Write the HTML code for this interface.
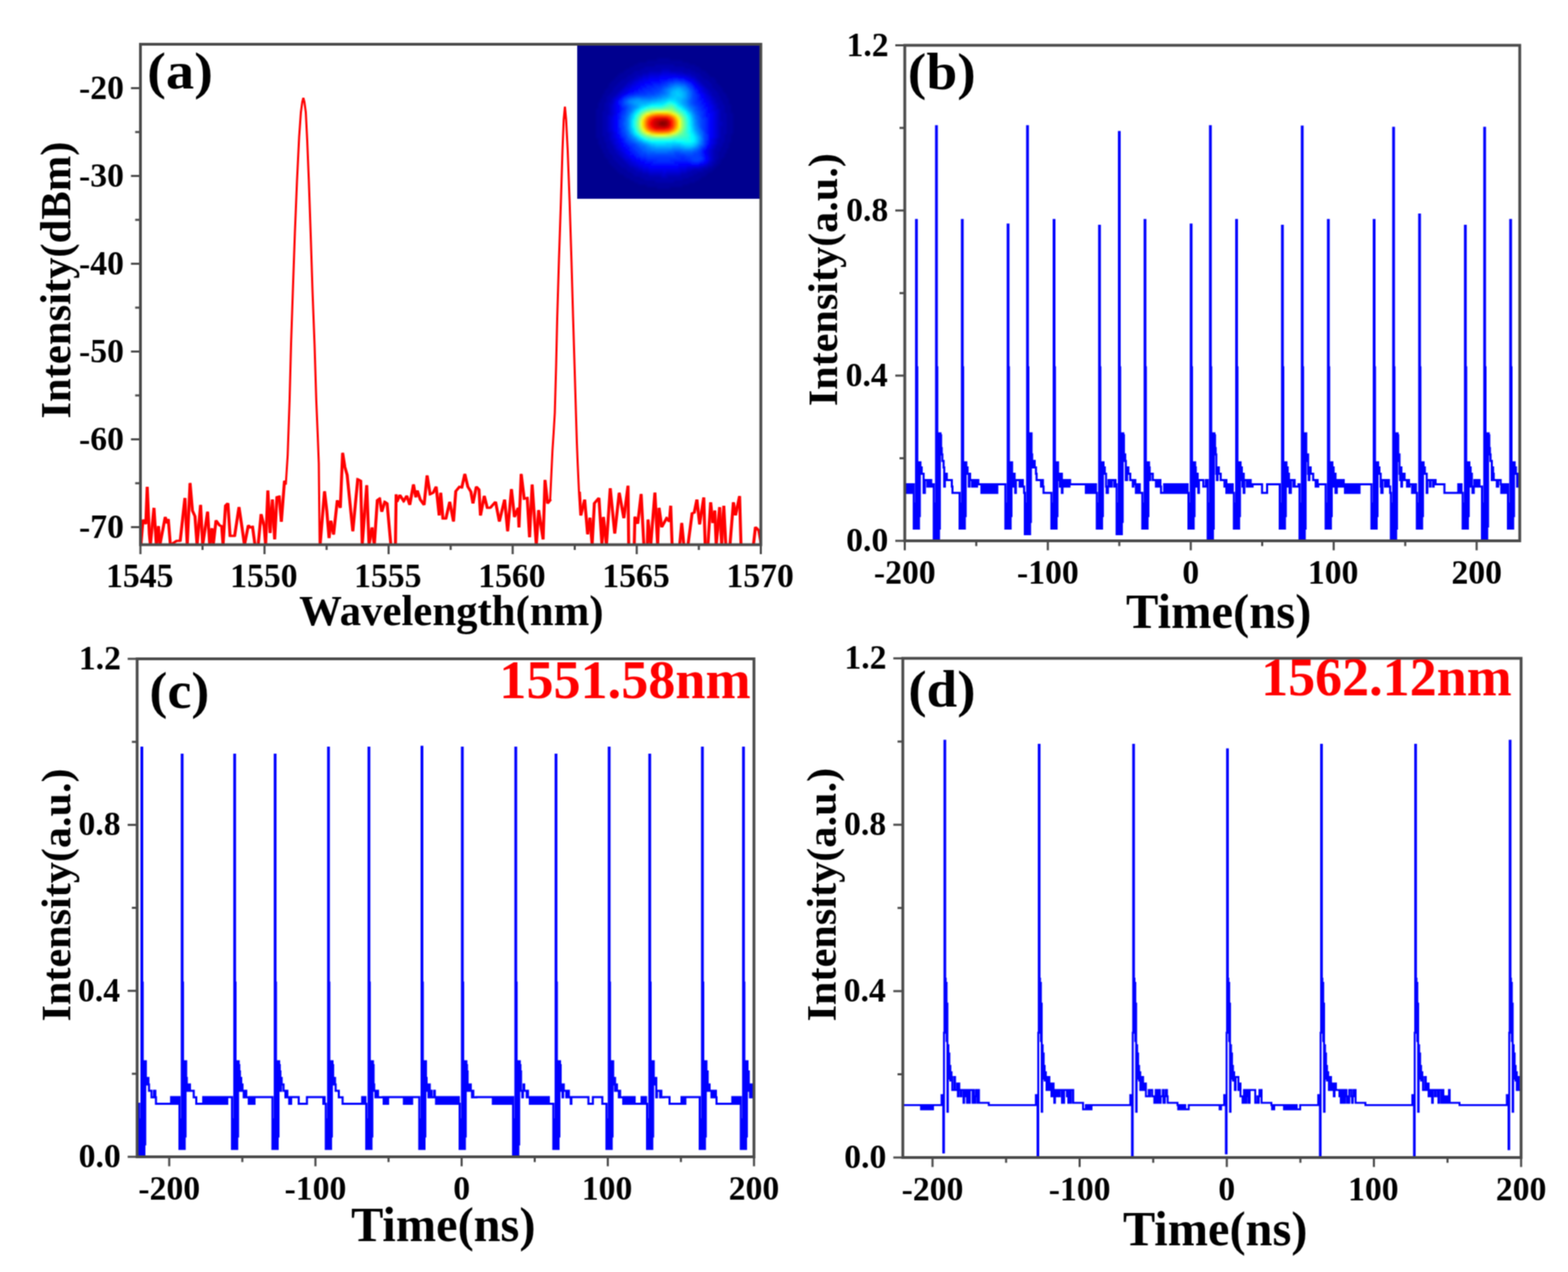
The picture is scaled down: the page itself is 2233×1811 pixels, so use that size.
<!DOCTYPE html>
<html><head><meta charset="utf-8"><title>Figure</title>
<style>
html,body{margin:0;padding:0;background:#fff;}
svg{display:block;}
text{font-family:"Liberation Serif", "Times New Roman", serif;font-weight:bold;}
</style></head><body>
<svg width="2233" height="1811" viewBox="0 0 2233 1811">
<defs><filter id="gb" color-interpolation-filters="sRGB" filterUnits="userSpaceOnUse" x="0" y="0" width="2233" height="1811"><feConvolveMatrix order="3" kernelMatrix="1 2 1 2 4 2 1 2 1" divisor="16" edgeMode="duplicate"/></filter></defs>
<g filter="url(#gb)">
<rect width="2233" height="1811" fill="#fff"/>
<defs>
<clipPath id="ca"><rect x="200" y="63" width="883.5" height="712.5"/></clipPath>
<clipPath id="cb"><rect x="1288.5" y="64.5" width="875.8000000000002" height="705.5"/></clipPath>
<clipPath id="cc"><rect x="195.3" y="938" width="878.4000000000001" height="709"/></clipPath>
<clipPath id="cd"><rect x="1285.7" y="937.3" width="880.4999999999998" height="710.7"/></clipPath>
</defs>
<polyline points="200.0,776.0 203.0,740.0 207.0,746.0 209.0,693.0 212.0,760.0 213.5,776.0 218.6,723.0 221.0,760.0 222.0,776.0 225.0,749.0 227.0,776.0 234.7,736.0 237.0,745.0 239.0,739.0 242.0,776.0 251.0,770.0 256.0,770.0 262.7,709.0 266.0,776.0 270.0,687.7 273.4,727.0 277.0,735.0 280.0,776.0 285.0,718.8 288.0,776.0 295.0,728.5 298.0,776.0 301.0,752.0 303.0,776.0 307.0,741.0 312.0,748.0 315.0,749.0 317.0,776.0 320.5,720.0 323.9,716.7 327.0,763.0 333.5,763.0 339.7,722.0 344.0,751.0 347.5,776.0 353.0,748.0 356.0,751.0 359.0,750.0 362.5,776.0 367.0,776.0 371.2,732.0 375.5,749.0 377.6,776.0 380.8,698.4 384.0,759.0 387.3,711.0 390.5,768.0 393.7,708.0 397.0,707.0 400.0,743.0 404.5,684.5 407.0,690.0 409.7,648.0 411.0,610.0 412.4,570.0 414.5,490.0 417.1,413.0 420.0,330.0 423.0,256.6 426.0,195.0 428.5,160.0 430.5,145.0 432.0,139.5 433.5,145.0 435.5,160.0 437.5,200.0 439.8,256.6 442.5,335.0 445.0,413.0 448.0,492.0 450.4,570.0 452.5,620.0 454.0,660.0 455.2,776.0 461.5,699.5 464.7,727.0 468.0,766.0 470.6,741.4 474.4,761.0 479.7,712.4 484.0,723.0 487.3,644.7 490.5,665.0 493.7,676.0 501.8,756.4 508.8,682.3 513.0,684.5 515.2,776.0 521.6,690.9 524.9,776.0 529.2,751.0 532.4,776.0 536.7,712.4 540.0,710.0 543.0,728.5 547.4,714.5 550.6,716.7 556.0,776.0 562.5,776.0 563.5,703.8 564.6,714.5 568.9,704.9 574.3,713.5 578.6,705.9 582.9,718.8 588.2,689.8 591.5,708.0 593.6,698.4 597.9,711.3 603.3,718.8 607.6,676.9 611.9,703.8 616.2,701.6 620.5,693.0 624.8,733.9 627.0,701.6 630.1,738.2 634.4,738.2 639.8,714.5 645.2,742.5 648.4,699.5 653.8,693.0 657.0,694.0 661.3,674.8 665.6,693.0 669.9,700.0 672.9,716.7 677.7,693.0 681.5,697.0 683.6,733.9 689.0,706.0 693.3,723.0 697.6,723.0 705.1,714.5 710.5,742.5 718.0,711.3 722.3,756.4 727.7,696.3 732.0,736.0 737.3,723.0 738.4,751.0 741.6,674.8 745.9,710.2 750.2,709.0 753.5,765.0 757.2,689.8 763.1,776.0 766.4,726.3 772.8,768.0 775.5,683.4 779.2,716.7 783.5,711.3 786.8,641.0 788.5,615.0 790.1,587.8 792.0,520.0 793.5,454.0 796.0,370.0 798.8,287.0 801.0,215.0 802.8,170.0 804.5,152.0 806.2,170.0 808.5,215.0 811.2,287.0 813.8,370.0 816.2,454.0 818.2,520.0 820.2,587.8 821.5,630.0 822.7,660.0 824.5,700.0 826.5,733.9 832.0,711.3 836.2,760.7 839.5,737.0 842.6,776.0 845.8,716.7 852.3,709.0 856.6,776.0 858.7,736.0 863.0,776.0 868.4,695.2 874.8,759.6 881.2,701.6 887.8,737.7 893.7,691.6 894.7,776.0 902.6,776.0 903.5,735.7 907.5,745.6 912.4,703.4 916.3,776.0 921.2,776.0 922.2,739.7 926.1,776.0 932.0,701.4 935.9,776.0 937.9,723.0 941.8,750.5 948.7,737.7 952.6,742.6 954.5,720.0 956.5,776.0 967.3,776.0 970.2,744.6 973.2,776.0 979.1,776.0 985.0,730.8 988.0,729.9 991.8,711.2 995.7,746.5 1001.6,708.3 1003.6,776.0 1007.5,776.0 1011.4,715.1 1014.4,744.6 1017.3,726.9 1019.3,776.0 1024.2,722.0 1027.1,776.0 1030.1,720.0 1033.0,776.0 1038.9,776.0 1043.8,715.1 1046.8,733.8 1052.6,706.3 1054.6,776.0 1072.3,776.0 1075.2,750.5 1080.1,755.4 1083.5,776.0" fill="none" stroke="#ff0000" stroke-width="3.0" stroke-linejoin="miter" stroke-miterlimit="2" clip-path="url(#ca)"/>
<polyline points="201.5,776.0 204.5,740.0 208.5,746.0 210.5,693.0 213.5,760.0 215.0,776.0 220.1,723.0 222.5,760.0 223.5,776.0 226.5,749.0 228.5,776.0 236.2,736.0 238.5,745.0 240.5,739.0 243.5,776.0 252.5,770.0 257.5,770.0 264.2,709.0 267.5,776.0 271.5,687.7 274.9,727.0 278.5,735.0 281.5,776.0 286.5,718.8 289.5,776.0 296.5,728.5 299.5,776.0 302.5,752.0 304.5,776.0 308.5,741.0 313.5,748.0 316.5,749.0 318.5,776.0 322.0,720.0 325.4,716.7 328.5,763.0 335.0,763.0 341.2,722.0 345.5,751.0 349.0,776.0 354.5,748.0 357.5,751.0 360.5,750.0 364.0,776.0 368.5,776.0 372.7,732.0 377.0,749.0 379.1,776.0 382.3,698.4 385.5,759.0 388.8,711.0 392.0,768.0 395.2,708.0 398.5,707.0 401.5,743.0 406.0,684.5" fill="none" stroke="#ff0000" stroke-width="2.6" stroke-linejoin="miter" stroke-miterlimit="2" clip-path="url(#ca)"/>
<polyline points="456.7,776.0 463.0,699.5 466.2,727.0 469.5,766.0 472.1,741.4 475.9,761.0 481.2,712.4 485.5,723.0 488.8,644.7 492.0,665.0 495.2,676.0 503.3,756.4 510.3,682.3 514.5,684.5 516.7,776.0 523.1,690.9 526.4,776.0 530.7,751.0 533.9,776.0 538.2,712.4 541.5,710.0 544.5,728.5 548.9,714.5 552.1,716.7 557.5,776.0 564.0,776.0 565.0,703.8 566.1,714.5 570.4,704.9 575.8,713.5 580.1,705.9 584.4,718.8 589.7,689.8 593.0,708.0 595.1,698.4 599.4,711.3 604.8,718.8 609.1,676.9 613.4,703.8 617.7,701.6 622.0,693.0 626.3,733.9 628.5,701.6 631.6,738.2 635.9,738.2 641.3,714.5 646.7,742.5 649.9,699.5 655.3,693.0 658.5,694.0 662.8,674.8 667.1,693.0 671.4,700.0 674.4,716.7 679.2,693.0 683.0,697.0 685.1,733.9 690.5,706.0 694.8,723.0 699.1,723.0 706.6,714.5 712.0,742.5 719.5,711.3 723.8,756.4 729.2,696.3 733.5,736.0 738.8,723.0 739.9,751.0 743.1,674.8 747.4,710.2 751.7,709.0 755.0,765.0 758.7,689.8 764.6,776.0 767.9,726.3 774.3,768.0 777.0,683.4 780.7,716.7 785.0,711.3" fill="none" stroke="#ff0000" stroke-width="2.6" stroke-linejoin="miter" stroke-miterlimit="2" clip-path="url(#ca)"/>
<polyline points="826.0,700.0 828.0,733.9 833.5,711.3 837.7,760.7 841.0,737.0 844.1,776.0 847.3,716.7 853.8,709.0 858.1,776.0 860.2,736.0 864.5,776.0 869.9,695.2 876.3,759.6 882.7,701.6 889.3,737.7 895.2,691.6 896.2,776.0 904.1,776.0 905.0,735.7 909.0,745.6 913.9,703.4 917.8,776.0 922.7,776.0 923.7,739.7 927.6,776.0 933.5,701.4 937.4,776.0 939.4,723.0 943.3,750.5 950.2,737.7 954.1,742.6 956.0,720.0 958.0,776.0 968.8,776.0 971.7,744.6 974.7,776.0 980.6,776.0 986.5,730.8 989.5,729.9 993.3,711.2 997.2,746.5 1003.1,708.3 1005.1,776.0 1009.0,776.0 1012.9,715.1 1015.9,744.6 1018.8,726.9 1020.8,776.0 1025.7,722.0 1028.6,776.0 1031.6,720.0 1034.5,776.0 1040.4,776.0 1045.3,715.1 1048.3,733.8 1054.1,706.3 1056.1,776.0 1073.8,776.0 1076.7,750.5 1081.6,755.4 1085.0,776.0" fill="none" stroke="#ff0000" stroke-width="2.6" stroke-linejoin="miter" stroke-miterlimit="2" clip-path="url(#ca)"/>
<clipPath id="cin"><rect x="822" y="62" width="261.5" height="221"/></clipPath>
<filter id="fbl" x="-5%" y="-5%" width="110%" height="110%"><feGaussianBlur stdDeviation="1.6"/></filter>
<g clip-path="url(#cin)"><g filter="url(#fbl)">
<rect x="812" y="52" width="281.5" height="241" fill="#00008a"/>
<rect x="822" y="62" width="264.5" height="3.5" fill="#00008f"/>
<rect x="822" y="65" width="264.5" height="3.5" fill="#00008f"/>
<rect x="822" y="68" width="264.5" height="3.5" fill="#00008f"/>
<rect x="822" y="71" width="264.5" height="3.5" fill="#00008f"/>
<rect x="822" y="74" width="264.5" height="3.5" fill="#00008f"/>
<rect x="822" y="77" width="264.5" height="3.5" fill="#00008f"/>
<rect x="822" y="80" width="264.5" height="3.5" fill="#00008f"/>
<rect x="822" y="83" width="114.5" height="3.5" fill="#00008f"/>
<rect x="936" y="83" width="18.5" height="3.5" fill="#00009f"/>
<rect x="954" y="83" width="132.5" height="3.5" fill="#00008f"/>
<rect x="822" y="86" width="99.5" height="3.5" fill="#00008f"/>
<rect x="921" y="86" width="51.5" height="3.5" fill="#00009f"/>
<rect x="972" y="86" width="114.5" height="3.5" fill="#00008f"/>
<rect x="822" y="89" width="87.5" height="3.5" fill="#00008f"/>
<rect x="909" y="89" width="72.5" height="3.5" fill="#00009f"/>
<rect x="981" y="89" width="105.5" height="3.5" fill="#00008f"/>
<rect x="822" y="92" width="81.5" height="3.5" fill="#00008f"/>
<rect x="903" y="92" width="30.5" height="3.5" fill="#00009f"/>
<rect x="933" y="92" width="27.5" height="3.5" fill="#0000af"/>
<rect x="960" y="92" width="30.5" height="3.5" fill="#00009f"/>
<rect x="990" y="92" width="96.5" height="3.5" fill="#00008f"/>
<rect x="822" y="95" width="75.5" height="3.5" fill="#00008f"/>
<rect x="897" y="95" width="21.5" height="3.5" fill="#00009f"/>
<rect x="918" y="95" width="57.5" height="3.5" fill="#0000af"/>
<rect x="975" y="95" width="21.5" height="3.5" fill="#00009f"/>
<rect x="996" y="95" width="90.5" height="3.5" fill="#00008f"/>
<rect x="822" y="98" width="69.5" height="3.5" fill="#00008f"/>
<rect x="891" y="98" width="21.5" height="3.5" fill="#00009f"/>
<rect x="912" y="98" width="30.5" height="3.5" fill="#0000af"/>
<rect x="942" y="98" width="12.5" height="3.5" fill="#0000bf"/>
<rect x="954" y="98" width="30.5" height="3.5" fill="#0000af"/>
<rect x="984" y="98" width="15.5" height="3.5" fill="#00009f"/>
<rect x="999" y="98" width="87.5" height="3.5" fill="#00008f"/>
<rect x="822" y="101" width="66.5" height="3.5" fill="#00008f"/>
<rect x="888" y="101" width="15.5" height="3.5" fill="#00009f"/>
<rect x="903" y="101" width="21.5" height="3.5" fill="#0000af"/>
<rect x="924" y="101" width="18.5" height="3.5" fill="#0000bf"/>
<rect x="942" y="101" width="12.5" height="3.5" fill="#0000cf"/>
<rect x="954" y="101" width="18.5" height="3.5" fill="#0000bf"/>
<rect x="972" y="101" width="18.5" height="3.5" fill="#0000af"/>
<rect x="990" y="101" width="15.5" height="3.5" fill="#00009f"/>
<rect x="1005" y="101" width="81.5" height="3.5" fill="#00008f"/>
<rect x="822" y="104" width="60.5" height="3.5" fill="#00008f"/>
<rect x="882" y="104" width="18.5" height="3.5" fill="#00009f"/>
<rect x="900" y="104" width="15.5" height="3.5" fill="#0000af"/>
<rect x="915" y="104" width="9.5" height="3.5" fill="#0000bf"/>
<rect x="924" y="104" width="18.5" height="3.5" fill="#0000cf"/>
<rect x="942" y="104" width="21.5" height="3.5" fill="#0000df"/>
<rect x="963" y="104" width="12.5" height="3.5" fill="#0000cf"/>
<rect x="975" y="104" width="9.5" height="3.5" fill="#0000bf"/>
<rect x="984" y="104" width="12.5" height="3.5" fill="#0000af"/>
<rect x="996" y="104" width="12.5" height="3.5" fill="#00009f"/>
<rect x="1008" y="104" width="78.5" height="3.5" fill="#00008f"/>
<rect x="822" y="107" width="57.5" height="3.5" fill="#00008f"/>
<rect x="879" y="107" width="15.5" height="3.5" fill="#00009f"/>
<rect x="894" y="107" width="12.5" height="3.5" fill="#0000af"/>
<rect x="906" y="107" width="9.5" height="3.5" fill="#0000bf"/>
<rect x="915" y="107" width="9.5" height="3.5" fill="#0000cf"/>
<rect x="924" y="107" width="15.5" height="3.5" fill="#0000df"/>
<rect x="939" y="107" width="30.5" height="3.5" fill="#0000ef"/>
<rect x="969" y="107" width="9.5" height="3.5" fill="#0000df"/>
<rect x="978" y="107" width="6.5" height="3.5" fill="#0000cf"/>
<rect x="984" y="107" width="6.5" height="3.5" fill="#0000bf"/>
<rect x="990" y="107" width="9.5" height="3.5" fill="#0000af"/>
<rect x="999" y="107" width="12.5" height="3.5" fill="#00009f"/>
<rect x="1011" y="107" width="75.5" height="3.5" fill="#00008f"/>
<rect x="822" y="110" width="54.5" height="3.5" fill="#00008f"/>
<rect x="876" y="110" width="15.5" height="3.5" fill="#00009f"/>
<rect x="891" y="110" width="12.5" height="3.5" fill="#0000af"/>
<rect x="903" y="110" width="6.5" height="3.5" fill="#0000bf"/>
<rect x="909" y="110" width="6.5" height="3.5" fill="#0000cf"/>
<rect x="915" y="110" width="9.5" height="3.5" fill="#0000df"/>
<rect x="924" y="110" width="15.5" height="3.5" fill="#0000ef"/>
<rect x="939" y="110" width="18.5" height="3.5" fill="#0000ff"/>
<rect x="957" y="110" width="9.5" height="3.5" fill="#0010ff"/>
<rect x="966" y="110" width="9.5" height="3.5" fill="#0000ff"/>
<rect x="975" y="110" width="6.5" height="3.5" fill="#0000ef"/>
<rect x="981" y="110" width="3.5" height="3.5" fill="#0000df"/>
<rect x="984" y="110" width="6.5" height="3.5" fill="#0000cf"/>
<rect x="990" y="110" width="3.5" height="3.5" fill="#0000bf"/>
<rect x="993" y="110" width="9.5" height="3.5" fill="#0000af"/>
<rect x="1002" y="110" width="15.5" height="3.5" fill="#00009f"/>
<rect x="1017" y="110" width="69.5" height="3.5" fill="#00008f"/>
<rect x="822" y="113" width="51.5" height="3.5" fill="#00008f"/>
<rect x="873" y="113" width="12.5" height="3.5" fill="#00009f"/>
<rect x="885" y="113" width="12.5" height="3.5" fill="#0000af"/>
<rect x="897" y="113" width="6.5" height="3.5" fill="#0000bf"/>
<rect x="903" y="113" width="6.5" height="3.5" fill="#0000cf"/>
<rect x="909" y="113" width="6.5" height="3.5" fill="#0000df"/>
<rect x="915" y="113" width="9.5" height="3.5" fill="#0000ef"/>
<rect x="924" y="113" width="15.5" height="3.5" fill="#0000ff"/>
<rect x="939" y="113" width="12.5" height="3.5" fill="#0010ff"/>
<rect x="951" y="113" width="9.5" height="3.5" fill="#0020ff"/>
<rect x="960" y="113" width="6.5" height="3.5" fill="#0030ff"/>
<rect x="966" y="113" width="9.5" height="3.5" fill="#0020ff"/>
<rect x="975" y="113" width="3.5" height="3.5" fill="#0010ff"/>
<rect x="978" y="113" width="3.5" height="3.5" fill="#0000ff"/>
<rect x="981" y="113" width="6.5" height="3.5" fill="#0000ef"/>
<rect x="987" y="113" width="3.5" height="3.5" fill="#0000df"/>
<rect x="990" y="113" width="3.5" height="3.5" fill="#0000cf"/>
<rect x="993" y="113" width="3.5" height="3.5" fill="#0000bf"/>
<rect x="996" y="113" width="12.5" height="3.5" fill="#0000af"/>
<rect x="1008" y="113" width="12.5" height="3.5" fill="#00009f"/>
<rect x="1020" y="113" width="66.5" height="3.5" fill="#00008f"/>
<rect x="822" y="116" width="48.5" height="3.5" fill="#00008f"/>
<rect x="870" y="116" width="12.5" height="3.5" fill="#00009f"/>
<rect x="882" y="116" width="12.5" height="3.5" fill="#0000af"/>
<rect x="894" y="116" width="6.5" height="3.5" fill="#0000bf"/>
<rect x="900" y="116" width="3.5" height="3.5" fill="#0000cf"/>
<rect x="903" y="116" width="6.5" height="3.5" fill="#0000df"/>
<rect x="909" y="116" width="9.5" height="3.5" fill="#0000ef"/>
<rect x="918" y="116" width="9.5" height="3.5" fill="#0000ff"/>
<rect x="927" y="116" width="15.5" height="3.5" fill="#0010ff"/>
<rect x="942" y="116" width="6.5" height="3.5" fill="#0020ff"/>
<rect x="948" y="116" width="6.5" height="3.5" fill="#0030ff"/>
<rect x="954" y="116" width="6.5" height="3.5" fill="#0040ff"/>
<rect x="960" y="116" width="9.5" height="3.5" fill="#0050ff"/>
<rect x="969" y="116" width="6.5" height="3.5" fill="#0040ff"/>
<rect x="975" y="116" width="3.5" height="3.5" fill="#0030ff"/>
<rect x="978" y="116" width="3.5" height="3.5" fill="#0020ff"/>
<rect x="981" y="116" width="3.5" height="3.5" fill="#0010ff"/>
<rect x="984" y="116" width="3.5" height="3.5" fill="#0000ff"/>
<rect x="987" y="116" width="3.5" height="3.5" fill="#0000ef"/>
<rect x="990" y="116" width="3.5" height="3.5" fill="#0000df"/>
<rect x="993" y="116" width="3.5" height="3.5" fill="#0000cf"/>
<rect x="996" y="116" width="3.5" height="3.5" fill="#0000bf"/>
<rect x="999" y="116" width="12.5" height="3.5" fill="#0000af"/>
<rect x="1011" y="116" width="9.5" height="3.5" fill="#00009f"/>
<rect x="1020" y="116" width="66.5" height="3.5" fill="#00008f"/>
<rect x="822" y="119" width="45.5" height="3.5" fill="#00008f"/>
<rect x="867" y="119" width="12.5" height="3.5" fill="#00009f"/>
<rect x="879" y="119" width="12.5" height="3.5" fill="#0000af"/>
<rect x="891" y="119" width="3.5" height="3.5" fill="#0000bf"/>
<rect x="894" y="119" width="6.5" height="3.5" fill="#0000cf"/>
<rect x="900" y="119" width="6.5" height="3.5" fill="#0000df"/>
<rect x="906" y="119" width="6.5" height="3.5" fill="#0000ef"/>
<rect x="912" y="119" width="6.5" height="3.5" fill="#0000ff"/>
<rect x="918" y="119" width="12.5" height="3.5" fill="#0010ff"/>
<rect x="930" y="119" width="12.5" height="3.5" fill="#0020ff"/>
<rect x="942" y="119" width="6.5" height="3.5" fill="#0030ff"/>
<rect x="948" y="119" width="3.5" height="3.5" fill="#0040ff"/>
<rect x="951" y="119" width="3.5" height="3.5" fill="#0050ff"/>
<rect x="954" y="119" width="6.5" height="3.5" fill="#0060ff"/>
<rect x="960" y="119" width="9.5" height="3.5" fill="#0070ff"/>
<rect x="969" y="119" width="6.5" height="3.5" fill="#0060ff"/>
<rect x="975" y="119" width="3.5" height="3.5" fill="#0050ff"/>
<rect x="978" y="119" width="3.5" height="3.5" fill="#0040ff"/>
<rect x="981" y="119" width="3.5" height="3.5" fill="#0030ff"/>
<rect x="984" y="119" width="3.5" height="3.5" fill="#0010ff"/>
<rect x="987" y="119" width="3.5" height="3.5" fill="#0000ff"/>
<rect x="990" y="119" width="3.5" height="3.5" fill="#0000ef"/>
<rect x="993" y="119" width="3.5" height="3.5" fill="#0000df"/>
<rect x="996" y="119" width="3.5" height="3.5" fill="#0000cf"/>
<rect x="999" y="119" width="3.5" height="3.5" fill="#0000bf"/>
<rect x="1002" y="119" width="12.5" height="3.5" fill="#0000af"/>
<rect x="1014" y="119" width="9.5" height="3.5" fill="#00009f"/>
<rect x="1023" y="119" width="63.5" height="3.5" fill="#00008f"/>
<rect x="822" y="122" width="45.5" height="3.5" fill="#00008f"/>
<rect x="867" y="122" width="9.5" height="3.5" fill="#00009f"/>
<rect x="876" y="122" width="12.5" height="3.5" fill="#0000af"/>
<rect x="888" y="122" width="3.5" height="3.5" fill="#0000bf"/>
<rect x="891" y="122" width="6.5" height="3.5" fill="#0000cf"/>
<rect x="897" y="122" width="3.5" height="3.5" fill="#0000df"/>
<rect x="900" y="122" width="6.5" height="3.5" fill="#0000ef"/>
<rect x="906" y="122" width="6.5" height="3.5" fill="#0000ff"/>
<rect x="912" y="122" width="9.5" height="3.5" fill="#0010ff"/>
<rect x="921" y="122" width="12.5" height="3.5" fill="#0020ff"/>
<rect x="933" y="122" width="9.5" height="3.5" fill="#0030ff"/>
<rect x="942" y="122" width="3.5" height="3.5" fill="#0040ff"/>
<rect x="945" y="122" width="6.5" height="3.5" fill="#0050ff"/>
<rect x="951" y="122" width="3.5" height="3.5" fill="#0060ff"/>
<rect x="954" y="122" width="3.5" height="3.5" fill="#0070ff"/>
<rect x="957" y="122" width="3.5" height="3.5" fill="#0080ff"/>
<rect x="960" y="122" width="9.5" height="3.5" fill="#008fff"/>
<rect x="969" y="122" width="6.5" height="3.5" fill="#0080ff"/>
<rect x="975" y="122" width="3.5" height="3.5" fill="#0070ff"/>
<rect x="978" y="122" width="3.5" height="3.5" fill="#0050ff"/>
<rect x="981" y="122" width="3.5" height="3.5" fill="#0040ff"/>
<rect x="984" y="122" width="3.5" height="3.5" fill="#0030ff"/>
<rect x="987" y="122" width="3.5" height="3.5" fill="#0010ff"/>
<rect x="990" y="122" width="3.5" height="3.5" fill="#0000ff"/>
<rect x="993" y="122" width="3.5" height="3.5" fill="#0000ef"/>
<rect x="996" y="122" width="3.5" height="3.5" fill="#0000df"/>
<rect x="999" y="122" width="3.5" height="3.5" fill="#0000cf"/>
<rect x="1002" y="122" width="3.5" height="3.5" fill="#0000bf"/>
<rect x="1005" y="122" width="9.5" height="3.5" fill="#0000af"/>
<rect x="1014" y="122" width="12.5" height="3.5" fill="#00009f"/>
<rect x="1026" y="122" width="60.5" height="3.5" fill="#00008f"/>
<rect x="822" y="125" width="42.5" height="3.5" fill="#00008f"/>
<rect x="864" y="125" width="9.5" height="3.5" fill="#00009f"/>
<rect x="873" y="125" width="12.5" height="3.5" fill="#0000af"/>
<rect x="885" y="125" width="3.5" height="3.5" fill="#0000bf"/>
<rect x="888" y="125" width="3.5" height="3.5" fill="#0000cf"/>
<rect x="891" y="125" width="6.5" height="3.5" fill="#0000df"/>
<rect x="897" y="125" width="6.5" height="3.5" fill="#0000ef"/>
<rect x="903" y="125" width="6.5" height="3.5" fill="#0000ff"/>
<rect x="909" y="125" width="6.5" height="3.5" fill="#0010ff"/>
<rect x="915" y="125" width="12.5" height="3.5" fill="#0020ff"/>
<rect x="927" y="125" width="9.5" height="3.5" fill="#0030ff"/>
<rect x="936" y="125" width="6.5" height="3.5" fill="#0040ff"/>
<rect x="942" y="125" width="3.5" height="3.5" fill="#0050ff"/>
<rect x="945" y="125" width="3.5" height="3.5" fill="#0060ff"/>
<rect x="948" y="125" width="3.5" height="3.5" fill="#0070ff"/>
<rect x="951" y="125" width="3.5" height="3.5" fill="#0080ff"/>
<rect x="954" y="125" width="3.5" height="3.5" fill="#008fff"/>
<rect x="957" y="125" width="6.5" height="3.5" fill="#009fff"/>
<rect x="963" y="125" width="6.5" height="3.5" fill="#00afff"/>
<rect x="969" y="125" width="3.5" height="3.5" fill="#009fff"/>
<rect x="972" y="125" width="3.5" height="3.5" fill="#008fff"/>
<rect x="975" y="125" width="3.5" height="3.5" fill="#0080ff"/>
<rect x="978" y="125" width="3.5" height="3.5" fill="#0070ff"/>
<rect x="981" y="125" width="3.5" height="3.5" fill="#0050ff"/>
<rect x="984" y="125" width="3.5" height="3.5" fill="#0040ff"/>
<rect x="987" y="125" width="3.5" height="3.5" fill="#0020ff"/>
<rect x="990" y="125" width="3.5" height="3.5" fill="#0010ff"/>
<rect x="993" y="125" width="3.5" height="3.5" fill="#0000ff"/>
<rect x="996" y="125" width="3.5" height="3.5" fill="#0000ef"/>
<rect x="999" y="125" width="3.5" height="3.5" fill="#0000df"/>
<rect x="1002" y="125" width="3.5" height="3.5" fill="#0000cf"/>
<rect x="1005" y="125" width="3.5" height="3.5" fill="#0000bf"/>
<rect x="1008" y="125" width="9.5" height="3.5" fill="#0000af"/>
<rect x="1017" y="125" width="12.5" height="3.5" fill="#00009f"/>
<rect x="1029" y="125" width="57.5" height="3.5" fill="#00008f"/>
<rect x="822" y="128" width="39.5" height="3.5" fill="#00008f"/>
<rect x="861" y="128" width="12.5" height="3.5" fill="#00009f"/>
<rect x="873" y="128" width="9.5" height="3.5" fill="#0000af"/>
<rect x="882" y="128" width="3.5" height="3.5" fill="#0000bf"/>
<rect x="885" y="128" width="3.5" height="3.5" fill="#0000cf"/>
<rect x="888" y="128" width="6.5" height="3.5" fill="#0000df"/>
<rect x="894" y="128" width="3.5" height="3.5" fill="#0000ef"/>
<rect x="897" y="128" width="6.5" height="3.5" fill="#0000ff"/>
<rect x="903" y="128" width="6.5" height="3.5" fill="#0010ff"/>
<rect x="909" y="128" width="9.5" height="3.5" fill="#0020ff"/>
<rect x="918" y="128" width="12.5" height="3.5" fill="#0030ff"/>
<rect x="930" y="128" width="9.5" height="3.5" fill="#0040ff"/>
<rect x="939" y="128" width="3.5" height="3.5" fill="#0050ff"/>
<rect x="942" y="128" width="3.5" height="3.5" fill="#0060ff"/>
<rect x="945" y="128" width="3.5" height="3.5" fill="#0070ff"/>
<rect x="948" y="128" width="3.5" height="3.5" fill="#0080ff"/>
<rect x="951" y="128" width="3.5" height="3.5" fill="#008fff"/>
<rect x="954" y="128" width="3.5" height="3.5" fill="#009fff"/>
<rect x="957" y="128" width="3.5" height="3.5" fill="#00afff"/>
<rect x="960" y="128" width="9.5" height="3.5" fill="#00bfff"/>
<rect x="969" y="128" width="3.5" height="3.5" fill="#00afff"/>
<rect x="972" y="128" width="3.5" height="3.5" fill="#009fff"/>
<rect x="975" y="128" width="3.5" height="3.5" fill="#008fff"/>
<rect x="978" y="128" width="3.5" height="3.5" fill="#0080ff"/>
<rect x="981" y="128" width="3.5" height="3.5" fill="#0060ff"/>
<rect x="984" y="128" width="3.5" height="3.5" fill="#0050ff"/>
<rect x="987" y="128" width="3.5" height="3.5" fill="#0030ff"/>
<rect x="990" y="128" width="3.5" height="3.5" fill="#0020ff"/>
<rect x="993" y="128" width="3.5" height="3.5" fill="#0000ff"/>
<rect x="996" y="128" width="3.5" height="3.5" fill="#0000ef"/>
<rect x="999" y="128" width="3.5" height="3.5" fill="#0000df"/>
<rect x="1002" y="128" width="6.5" height="3.5" fill="#0000cf"/>
<rect x="1008" y="128" width="3.5" height="3.5" fill="#0000bf"/>
<rect x="1011" y="128" width="9.5" height="3.5" fill="#0000af"/>
<rect x="1020" y="128" width="9.5" height="3.5" fill="#00009f"/>
<rect x="1029" y="128" width="57.5" height="3.5" fill="#00008f"/>
<rect x="822" y="131" width="39.5" height="3.5" fill="#00008f"/>
<rect x="861" y="131" width="9.5" height="3.5" fill="#00009f"/>
<rect x="870" y="131" width="9.5" height="3.5" fill="#0000af"/>
<rect x="879" y="131" width="3.5" height="3.5" fill="#0000bf"/>
<rect x="882" y="131" width="3.5" height="3.5" fill="#0000cf"/>
<rect x="885" y="131" width="6.5" height="3.5" fill="#0000df"/>
<rect x="891" y="131" width="3.5" height="3.5" fill="#0000ef"/>
<rect x="894" y="131" width="3.5" height="3.5" fill="#0000ff"/>
<rect x="897" y="131" width="6.5" height="3.5" fill="#0010ff"/>
<rect x="903" y="131" width="9.5" height="3.5" fill="#0020ff"/>
<rect x="912" y="131" width="9.5" height="3.5" fill="#0030ff"/>
<rect x="921" y="131" width="12.5" height="3.5" fill="#0040ff"/>
<rect x="933" y="131" width="6.5" height="3.5" fill="#0050ff"/>
<rect x="939" y="131" width="6.5" height="3.5" fill="#0060ff"/>
<rect x="945" y="131" width="3.5" height="3.5" fill="#0070ff"/>
<rect x="948" y="131" width="3.5" height="3.5" fill="#0080ff"/>
<rect x="951" y="131" width="3.5" height="3.5" fill="#008fff"/>
<rect x="954" y="131" width="3.5" height="3.5" fill="#00afff"/>
<rect x="957" y="131" width="6.5" height="3.5" fill="#00bfff"/>
<rect x="963" y="131" width="3.5" height="3.5" fill="#00cfff"/>
<rect x="966" y="131" width="6.5" height="3.5" fill="#00bfff"/>
<rect x="972" y="131" width="3.5" height="3.5" fill="#00afff"/>
<rect x="975" y="131" width="3.5" height="3.5" fill="#009fff"/>
<rect x="978" y="131" width="3.5" height="3.5" fill="#0080ff"/>
<rect x="981" y="131" width="3.5" height="3.5" fill="#0070ff"/>
<rect x="984" y="131" width="3.5" height="3.5" fill="#0050ff"/>
<rect x="987" y="131" width="3.5" height="3.5" fill="#0040ff"/>
<rect x="990" y="131" width="3.5" height="3.5" fill="#0020ff"/>
<rect x="993" y="131" width="3.5" height="3.5" fill="#0010ff"/>
<rect x="996" y="131" width="3.5" height="3.5" fill="#0000ff"/>
<rect x="999" y="131" width="3.5" height="3.5" fill="#0000ef"/>
<rect x="1002" y="131" width="3.5" height="3.5" fill="#0000df"/>
<rect x="1005" y="131" width="3.5" height="3.5" fill="#0000cf"/>
<rect x="1008" y="131" width="6.5" height="3.5" fill="#0000bf"/>
<rect x="1014" y="131" width="9.5" height="3.5" fill="#0000af"/>
<rect x="1023" y="131" width="9.5" height="3.5" fill="#00009f"/>
<rect x="1032" y="131" width="54.5" height="3.5" fill="#00008f"/>
<rect x="822" y="134" width="36.5" height="3.5" fill="#00008f"/>
<rect x="858" y="134" width="9.5" height="3.5" fill="#00009f"/>
<rect x="867" y="134" width="9.5" height="3.5" fill="#0000af"/>
<rect x="876" y="134" width="3.5" height="3.5" fill="#0000bf"/>
<rect x="879" y="134" width="3.5" height="3.5" fill="#0000cf"/>
<rect x="882" y="134" width="3.5" height="3.5" fill="#0000df"/>
<rect x="885" y="134" width="3.5" height="3.5" fill="#0000ef"/>
<rect x="888" y="134" width="3.5" height="3.5" fill="#0000ff"/>
<rect x="891" y="134" width="3.5" height="3.5" fill="#0010ff"/>
<rect x="894" y="134" width="6.5" height="3.5" fill="#0020ff"/>
<rect x="900" y="134" width="6.5" height="3.5" fill="#0030ff"/>
<rect x="906" y="134" width="15.5" height="3.5" fill="#0040ff"/>
<rect x="921" y="134" width="12.5" height="3.5" fill="#0050ff"/>
<rect x="933" y="134" width="6.5" height="3.5" fill="#0060ff"/>
<rect x="939" y="134" width="3.5" height="3.5" fill="#0070ff"/>
<rect x="942" y="134" width="6.5" height="3.5" fill="#0080ff"/>
<rect x="948" y="134" width="3.5" height="3.5" fill="#008fff"/>
<rect x="951" y="134" width="3.5" height="3.5" fill="#009fff"/>
<rect x="954" y="134" width="3.5" height="3.5" fill="#00afff"/>
<rect x="957" y="134" width="6.5" height="3.5" fill="#00bfff"/>
<rect x="963" y="134" width="6.5" height="3.5" fill="#00cfff"/>
<rect x="969" y="134" width="3.5" height="3.5" fill="#00bfff"/>
<rect x="972" y="134" width="3.5" height="3.5" fill="#00afff"/>
<rect x="975" y="134" width="3.5" height="3.5" fill="#009fff"/>
<rect x="978" y="134" width="3.5" height="3.5" fill="#0080ff"/>
<rect x="981" y="134" width="3.5" height="3.5" fill="#0070ff"/>
<rect x="984" y="134" width="3.5" height="3.5" fill="#0050ff"/>
<rect x="987" y="134" width="3.5" height="3.5" fill="#0040ff"/>
<rect x="990" y="134" width="3.5" height="3.5" fill="#0030ff"/>
<rect x="993" y="134" width="3.5" height="3.5" fill="#0020ff"/>
<rect x="996" y="134" width="6.5" height="3.5" fill="#0000ff"/>
<rect x="1002" y="134" width="3.5" height="3.5" fill="#0000ef"/>
<rect x="1005" y="134" width="3.5" height="3.5" fill="#0000df"/>
<rect x="1008" y="134" width="3.5" height="3.5" fill="#0000cf"/>
<rect x="1011" y="134" width="3.5" height="3.5" fill="#0000bf"/>
<rect x="1014" y="134" width="9.5" height="3.5" fill="#0000af"/>
<rect x="1023" y="134" width="12.5" height="3.5" fill="#00009f"/>
<rect x="1035" y="134" width="51.5" height="3.5" fill="#00008f"/>
<rect x="822" y="137" width="36.5" height="3.5" fill="#00008f"/>
<rect x="858" y="137" width="6.5" height="3.5" fill="#00009f"/>
<rect x="864" y="137" width="9.5" height="3.5" fill="#0000af"/>
<rect x="873" y="137" width="3.5" height="3.5" fill="#0000bf"/>
<rect x="876" y="137" width="3.5" height="3.5" fill="#0000cf"/>
<rect x="879" y="137" width="3.5" height="3.5" fill="#0000df"/>
<rect x="882" y="137" width="3.5" height="3.5" fill="#0000ef"/>
<rect x="885" y="137" width="3.5" height="3.5" fill="#0010ff"/>
<rect x="888" y="137" width="3.5" height="3.5" fill="#0020ff"/>
<rect x="891" y="137" width="3.5" height="3.5" fill="#0030ff"/>
<rect x="894" y="137" width="3.5" height="3.5" fill="#0040ff"/>
<rect x="897" y="137" width="6.5" height="3.5" fill="#0050ff"/>
<rect x="903" y="137" width="24.5" height="3.5" fill="#0060ff"/>
<rect x="927" y="137" width="9.5" height="3.5" fill="#0070ff"/>
<rect x="936" y="137" width="6.5" height="3.5" fill="#0080ff"/>
<rect x="942" y="137" width="3.5" height="3.5" fill="#008fff"/>
<rect x="945" y="137" width="6.5" height="3.5" fill="#009fff"/>
<rect x="951" y="137" width="3.5" height="3.5" fill="#00afff"/>
<rect x="954" y="137" width="6.5" height="3.5" fill="#00bfff"/>
<rect x="960" y="137" width="3.5" height="3.5" fill="#00cfff"/>
<rect x="963" y="137" width="9.5" height="3.5" fill="#00bfff"/>
<rect x="972" y="137" width="3.5" height="3.5" fill="#00afff"/>
<rect x="975" y="137" width="3.5" height="3.5" fill="#009fff"/>
<rect x="978" y="137" width="3.5" height="3.5" fill="#0080ff"/>
<rect x="981" y="137" width="3.5" height="3.5" fill="#0070ff"/>
<rect x="984" y="137" width="3.5" height="3.5" fill="#0050ff"/>
<rect x="987" y="137" width="3.5" height="3.5" fill="#0040ff"/>
<rect x="990" y="137" width="3.5" height="3.5" fill="#0030ff"/>
<rect x="993" y="137" width="3.5" height="3.5" fill="#0020ff"/>
<rect x="996" y="137" width="3.5" height="3.5" fill="#0010ff"/>
<rect x="999" y="137" width="3.5" height="3.5" fill="#0000ff"/>
<rect x="1002" y="137" width="3.5" height="3.5" fill="#0000ef"/>
<rect x="1005" y="137" width="6.5" height="3.5" fill="#0000df"/>
<rect x="1011" y="137" width="3.5" height="3.5" fill="#0000cf"/>
<rect x="1014" y="137" width="3.5" height="3.5" fill="#0000bf"/>
<rect x="1017" y="137" width="9.5" height="3.5" fill="#0000af"/>
<rect x="1026" y="137" width="9.5" height="3.5" fill="#00009f"/>
<rect x="1035" y="137" width="51.5" height="3.5" fill="#00008f"/>
<rect x="822" y="140" width="33.5" height="3.5" fill="#00008f"/>
<rect x="855" y="140" width="9.5" height="3.5" fill="#00009f"/>
<rect x="864" y="140" width="6.5" height="3.5" fill="#0000af"/>
<rect x="870" y="140" width="3.5" height="3.5" fill="#0000bf"/>
<rect x="873" y="140" width="3.5" height="3.5" fill="#0000cf"/>
<rect x="876" y="140" width="3.5" height="3.5" fill="#0000df"/>
<rect x="879" y="140" width="3.5" height="3.5" fill="#0000ef"/>
<rect x="882" y="140" width="3.5" height="3.5" fill="#0010ff"/>
<rect x="885" y="140" width="3.5" height="3.5" fill="#0020ff"/>
<rect x="888" y="140" width="3.5" height="3.5" fill="#0040ff"/>
<rect x="891" y="140" width="3.5" height="3.5" fill="#0050ff"/>
<rect x="894" y="140" width="3.5" height="3.5" fill="#0060ff"/>
<rect x="897" y="140" width="3.5" height="3.5" fill="#0070ff"/>
<rect x="900" y="140" width="6.5" height="3.5" fill="#0080ff"/>
<rect x="906" y="140" width="6.5" height="3.5" fill="#008fff"/>
<rect x="912" y="140" width="18.5" height="3.5" fill="#0080ff"/>
<rect x="930" y="140" width="6.5" height="3.5" fill="#008fff"/>
<rect x="936" y="140" width="6.5" height="3.5" fill="#009fff"/>
<rect x="942" y="140" width="6.5" height="3.5" fill="#00afff"/>
<rect x="948" y="140" width="3.5" height="3.5" fill="#00bfff"/>
<rect x="951" y="140" width="12.5" height="3.5" fill="#00cfff"/>
<rect x="963" y="140" width="6.5" height="3.5" fill="#00bfff"/>
<rect x="969" y="140" width="3.5" height="3.5" fill="#00afff"/>
<rect x="972" y="140" width="3.5" height="3.5" fill="#009fff"/>
<rect x="975" y="140" width="3.5" height="3.5" fill="#008fff"/>
<rect x="978" y="140" width="3.5" height="3.5" fill="#0080ff"/>
<rect x="981" y="140" width="3.5" height="3.5" fill="#0060ff"/>
<rect x="984" y="140" width="3.5" height="3.5" fill="#0050ff"/>
<rect x="987" y="140" width="3.5" height="3.5" fill="#0040ff"/>
<rect x="990" y="140" width="3.5" height="3.5" fill="#0030ff"/>
<rect x="993" y="140" width="3.5" height="3.5" fill="#0020ff"/>
<rect x="996" y="140" width="6.5" height="3.5" fill="#0010ff"/>
<rect x="1002" y="140" width="3.5" height="3.5" fill="#0000ff"/>
<rect x="1005" y="140" width="3.5" height="3.5" fill="#0000ef"/>
<rect x="1008" y="140" width="3.5" height="3.5" fill="#0000df"/>
<rect x="1011" y="140" width="3.5" height="3.5" fill="#0000cf"/>
<rect x="1014" y="140" width="6.5" height="3.5" fill="#0000bf"/>
<rect x="1020" y="140" width="6.5" height="3.5" fill="#0000af"/>
<rect x="1026" y="140" width="12.5" height="3.5" fill="#00009f"/>
<rect x="1038" y="140" width="48.5" height="3.5" fill="#00008f"/>
<rect x="822" y="143" width="33.5" height="3.5" fill="#00008f"/>
<rect x="855" y="143" width="9.5" height="3.5" fill="#00009f"/>
<rect x="864" y="143" width="6.5" height="3.5" fill="#0000af"/>
<rect x="870" y="143" width="3.5" height="3.5" fill="#0000bf"/>
<rect x="873" y="143" width="3.5" height="3.5" fill="#0000cf"/>
<rect x="876" y="143" width="3.5" height="3.5" fill="#0000ef"/>
<rect x="879" y="143" width="3.5" height="3.5" fill="#0000ff"/>
<rect x="882" y="143" width="3.5" height="3.5" fill="#0020ff"/>
<rect x="885" y="143" width="3.5" height="3.5" fill="#0030ff"/>
<rect x="888" y="143" width="3.5" height="3.5" fill="#0050ff"/>
<rect x="891" y="143" width="3.5" height="3.5" fill="#0060ff"/>
<rect x="894" y="143" width="3.5" height="3.5" fill="#0080ff"/>
<rect x="897" y="143" width="6.5" height="3.5" fill="#008fff"/>
<rect x="903" y="143" width="24.5" height="3.5" fill="#009fff"/>
<rect x="927" y="143" width="9.5" height="3.5" fill="#00afff"/>
<rect x="936" y="143" width="6.5" height="3.5" fill="#00bfff"/>
<rect x="942" y="143" width="6.5" height="3.5" fill="#00cfff"/>
<rect x="948" y="143" width="3.5" height="3.5" fill="#00dfff"/>
<rect x="951" y="143" width="9.5" height="3.5" fill="#00efff"/>
<rect x="960" y="143" width="3.5" height="3.5" fill="#00dfff"/>
<rect x="963" y="143" width="3.5" height="3.5" fill="#00cfff"/>
<rect x="966" y="143" width="3.5" height="3.5" fill="#00bfff"/>
<rect x="969" y="143" width="3.5" height="3.5" fill="#00afff"/>
<rect x="972" y="143" width="3.5" height="3.5" fill="#009fff"/>
<rect x="975" y="143" width="3.5" height="3.5" fill="#008fff"/>
<rect x="978" y="143" width="3.5" height="3.5" fill="#0070ff"/>
<rect x="981" y="143" width="3.5" height="3.5" fill="#0060ff"/>
<rect x="984" y="143" width="3.5" height="3.5" fill="#0050ff"/>
<rect x="987" y="143" width="3.5" height="3.5" fill="#0040ff"/>
<rect x="990" y="143" width="3.5" height="3.5" fill="#0030ff"/>
<rect x="993" y="143" width="6.5" height="3.5" fill="#0020ff"/>
<rect x="999" y="143" width="3.5" height="3.5" fill="#0010ff"/>
<rect x="1002" y="143" width="3.5" height="3.5" fill="#0000ff"/>
<rect x="1005" y="143" width="6.5" height="3.5" fill="#0000ef"/>
<rect x="1011" y="143" width="3.5" height="3.5" fill="#0000df"/>
<rect x="1014" y="143" width="3.5" height="3.5" fill="#0000cf"/>
<rect x="1017" y="143" width="3.5" height="3.5" fill="#0000bf"/>
<rect x="1020" y="143" width="9.5" height="3.5" fill="#0000af"/>
<rect x="1029" y="143" width="9.5" height="3.5" fill="#00009f"/>
<rect x="1038" y="143" width="48.5" height="3.5" fill="#00008f"/>
<rect x="822" y="146" width="30.5" height="3.5" fill="#00008f"/>
<rect x="852" y="146" width="9.5" height="3.5" fill="#00009f"/>
<rect x="861" y="146" width="6.5" height="3.5" fill="#0000af"/>
<rect x="867" y="146" width="6.5" height="3.5" fill="#0000bf"/>
<rect x="873" y="146" width="3.5" height="3.5" fill="#0000df"/>
<rect x="876" y="146" width="3.5" height="3.5" fill="#0000ef"/>
<rect x="879" y="146" width="3.5" height="3.5" fill="#0000ff"/>
<rect x="882" y="146" width="3.5" height="3.5" fill="#0020ff"/>
<rect x="885" y="146" width="3.5" height="3.5" fill="#0030ff"/>
<rect x="888" y="146" width="3.5" height="3.5" fill="#0050ff"/>
<rect x="891" y="146" width="3.5" height="3.5" fill="#0060ff"/>
<rect x="894" y="146" width="3.5" height="3.5" fill="#0070ff"/>
<rect x="897" y="146" width="3.5" height="3.5" fill="#0080ff"/>
<rect x="900" y="146" width="3.5" height="3.5" fill="#008fff"/>
<rect x="903" y="146" width="6.5" height="3.5" fill="#009fff"/>
<rect x="909" y="146" width="12.5" height="3.5" fill="#00afff"/>
<rect x="921" y="146" width="6.5" height="3.5" fill="#00bfff"/>
<rect x="927" y="146" width="6.5" height="3.5" fill="#00cfff"/>
<rect x="933" y="146" width="12.5" height="3.5" fill="#00dfff"/>
<rect x="945" y="146" width="3.5" height="3.5" fill="#00efff"/>
<rect x="948" y="146" width="3.5" height="3.5" fill="#10ffef"/>
<rect x="951" y="146" width="6.5" height="3.5" fill="#20ffdf"/>
<rect x="957" y="146" width="3.5" height="3.5" fill="#10ffef"/>
<rect x="960" y="146" width="3.5" height="3.5" fill="#00ffff"/>
<rect x="963" y="146" width="3.5" height="3.5" fill="#00dfff"/>
<rect x="966" y="146" width="3.5" height="3.5" fill="#00cfff"/>
<rect x="969" y="146" width="3.5" height="3.5" fill="#00afff"/>
<rect x="972" y="146" width="3.5" height="3.5" fill="#009fff"/>
<rect x="975" y="146" width="3.5" height="3.5" fill="#008fff"/>
<rect x="978" y="146" width="3.5" height="3.5" fill="#0080ff"/>
<rect x="981" y="146" width="3.5" height="3.5" fill="#0060ff"/>
<rect x="984" y="146" width="3.5" height="3.5" fill="#0050ff"/>
<rect x="987" y="146" width="3.5" height="3.5" fill="#0040ff"/>
<rect x="990" y="146" width="6.5" height="3.5" fill="#0030ff"/>
<rect x="996" y="146" width="3.5" height="3.5" fill="#0020ff"/>
<rect x="999" y="146" width="6.5" height="3.5" fill="#0010ff"/>
<rect x="1005" y="146" width="3.5" height="3.5" fill="#0000ff"/>
<rect x="1008" y="146" width="3.5" height="3.5" fill="#0000ef"/>
<rect x="1011" y="146" width="3.5" height="3.5" fill="#0000df"/>
<rect x="1014" y="146" width="3.5" height="3.5" fill="#0000cf"/>
<rect x="1017" y="146" width="6.5" height="3.5" fill="#0000bf"/>
<rect x="1023" y="146" width="6.5" height="3.5" fill="#0000af"/>
<rect x="1029" y="146" width="9.5" height="3.5" fill="#00009f"/>
<rect x="1038" y="146" width="48.5" height="3.5" fill="#00008f"/>
<rect x="822" y="149" width="30.5" height="3.5" fill="#00008f"/>
<rect x="852" y="149" width="9.5" height="3.5" fill="#00009f"/>
<rect x="861" y="149" width="6.5" height="3.5" fill="#0000af"/>
<rect x="867" y="149" width="3.5" height="3.5" fill="#0000bf"/>
<rect x="870" y="149" width="3.5" height="3.5" fill="#0000cf"/>
<rect x="873" y="149" width="3.5" height="3.5" fill="#0000df"/>
<rect x="876" y="149" width="3.5" height="3.5" fill="#0000ef"/>
<rect x="879" y="149" width="3.5" height="3.5" fill="#0000ff"/>
<rect x="882" y="149" width="3.5" height="3.5" fill="#0010ff"/>
<rect x="885" y="149" width="3.5" height="3.5" fill="#0030ff"/>
<rect x="888" y="149" width="3.5" height="3.5" fill="#0040ff"/>
<rect x="891" y="149" width="3.5" height="3.5" fill="#0050ff"/>
<rect x="894" y="149" width="3.5" height="3.5" fill="#0060ff"/>
<rect x="897" y="149" width="3.5" height="3.5" fill="#0070ff"/>
<rect x="900" y="149" width="3.5" height="3.5" fill="#0080ff"/>
<rect x="903" y="149" width="3.5" height="3.5" fill="#008fff"/>
<rect x="906" y="149" width="3.5" height="3.5" fill="#009fff"/>
<rect x="909" y="149" width="3.5" height="3.5" fill="#00afff"/>
<rect x="912" y="149" width="3.5" height="3.5" fill="#00bfff"/>
<rect x="915" y="149" width="6.5" height="3.5" fill="#00cfff"/>
<rect x="921" y="149" width="3.5" height="3.5" fill="#00dfff"/>
<rect x="924" y="149" width="3.5" height="3.5" fill="#00efff"/>
<rect x="927" y="149" width="15.5" height="3.5" fill="#00ffff"/>
<rect x="942" y="149" width="3.5" height="3.5" fill="#10ffef"/>
<rect x="945" y="149" width="3.5" height="3.5" fill="#20ffdf"/>
<rect x="948" y="149" width="3.5" height="3.5" fill="#30ffcf"/>
<rect x="951" y="149" width="3.5" height="3.5" fill="#40ffbf"/>
<rect x="954" y="149" width="3.5" height="3.5" fill="#50ffaf"/>
<rect x="957" y="149" width="3.5" height="3.5" fill="#40ffbf"/>
<rect x="960" y="149" width="3.5" height="3.5" fill="#20ffdf"/>
<rect x="963" y="149" width="3.5" height="3.5" fill="#00ffff"/>
<rect x="966" y="149" width="3.5" height="3.5" fill="#00dfff"/>
<rect x="969" y="149" width="3.5" height="3.5" fill="#00cfff"/>
<rect x="972" y="149" width="3.5" height="3.5" fill="#00afff"/>
<rect x="975" y="149" width="3.5" height="3.5" fill="#009fff"/>
<rect x="978" y="149" width="3.5" height="3.5" fill="#0080ff"/>
<rect x="981" y="149" width="3.5" height="3.5" fill="#0070ff"/>
<rect x="984" y="149" width="3.5" height="3.5" fill="#0060ff"/>
<rect x="987" y="149" width="3.5" height="3.5" fill="#0050ff"/>
<rect x="990" y="149" width="3.5" height="3.5" fill="#0040ff"/>
<rect x="993" y="149" width="3.5" height="3.5" fill="#0030ff"/>
<rect x="996" y="149" width="6.5" height="3.5" fill="#0020ff"/>
<rect x="1002" y="149" width="3.5" height="3.5" fill="#0010ff"/>
<rect x="1005" y="149" width="3.5" height="3.5" fill="#0000ff"/>
<rect x="1008" y="149" width="6.5" height="3.5" fill="#0000ef"/>
<rect x="1014" y="149" width="3.5" height="3.5" fill="#0000df"/>
<rect x="1017" y="149" width="3.5" height="3.5" fill="#0000cf"/>
<rect x="1020" y="149" width="3.5" height="3.5" fill="#0000bf"/>
<rect x="1023" y="149" width="9.5" height="3.5" fill="#0000af"/>
<rect x="1032" y="149" width="9.5" height="3.5" fill="#00009f"/>
<rect x="1041" y="149" width="45.5" height="3.5" fill="#00008f"/>
<rect x="822" y="152" width="30.5" height="3.5" fill="#00008f"/>
<rect x="852" y="152" width="9.5" height="3.5" fill="#00009f"/>
<rect x="861" y="152" width="6.5" height="3.5" fill="#0000af"/>
<rect x="867" y="152" width="3.5" height="3.5" fill="#0000bf"/>
<rect x="870" y="152" width="3.5" height="3.5" fill="#0000cf"/>
<rect x="873" y="152" width="3.5" height="3.5" fill="#0000df"/>
<rect x="876" y="152" width="3.5" height="3.5" fill="#0000ef"/>
<rect x="879" y="152" width="3.5" height="3.5" fill="#0000ff"/>
<rect x="882" y="152" width="3.5" height="3.5" fill="#0010ff"/>
<rect x="885" y="152" width="3.5" height="3.5" fill="#0020ff"/>
<rect x="888" y="152" width="3.5" height="3.5" fill="#0030ff"/>
<rect x="891" y="152" width="3.5" height="3.5" fill="#0040ff"/>
<rect x="894" y="152" width="3.5" height="3.5" fill="#0060ff"/>
<rect x="897" y="152" width="3.5" height="3.5" fill="#0070ff"/>
<rect x="900" y="152" width="3.5" height="3.5" fill="#0080ff"/>
<rect x="903" y="152" width="3.5" height="3.5" fill="#008fff"/>
<rect x="906" y="152" width="3.5" height="3.5" fill="#009fff"/>
<rect x="909" y="152" width="3.5" height="3.5" fill="#00bfff"/>
<rect x="912" y="152" width="3.5" height="3.5" fill="#00dfff"/>
<rect x="915" y="152" width="3.5" height="3.5" fill="#00efff"/>
<rect x="918" y="152" width="3.5" height="3.5" fill="#00ffff"/>
<rect x="921" y="152" width="6.5" height="3.5" fill="#20ffdf"/>
<rect x="927" y="152" width="15.5" height="3.5" fill="#30ffcf"/>
<rect x="942" y="152" width="3.5" height="3.5" fill="#40ffbf"/>
<rect x="945" y="152" width="3.5" height="3.5" fill="#50ffaf"/>
<rect x="948" y="152" width="6.5" height="3.5" fill="#60ff9f"/>
<rect x="954" y="152" width="3.5" height="3.5" fill="#70ff8f"/>
<rect x="957" y="152" width="3.5" height="3.5" fill="#60ff9f"/>
<rect x="960" y="152" width="3.5" height="3.5" fill="#40ffbf"/>
<rect x="963" y="152" width="3.5" height="3.5" fill="#20ffdf"/>
<rect x="966" y="152" width="3.5" height="3.5" fill="#00ffff"/>
<rect x="969" y="152" width="3.5" height="3.5" fill="#00efff"/>
<rect x="972" y="152" width="3.5" height="3.5" fill="#00cfff"/>
<rect x="975" y="152" width="3.5" height="3.5" fill="#00afff"/>
<rect x="978" y="152" width="3.5" height="3.5" fill="#009fff"/>
<rect x="981" y="152" width="3.5" height="3.5" fill="#0080ff"/>
<rect x="984" y="152" width="3.5" height="3.5" fill="#0070ff"/>
<rect x="987" y="152" width="3.5" height="3.5" fill="#0060ff"/>
<rect x="990" y="152" width="3.5" height="3.5" fill="#0050ff"/>
<rect x="993" y="152" width="3.5" height="3.5" fill="#0040ff"/>
<rect x="996" y="152" width="3.5" height="3.5" fill="#0030ff"/>
<rect x="999" y="152" width="3.5" height="3.5" fill="#0020ff"/>
<rect x="1002" y="152" width="6.5" height="3.5" fill="#0010ff"/>
<rect x="1008" y="152" width="3.5" height="3.5" fill="#0000ff"/>
<rect x="1011" y="152" width="3.5" height="3.5" fill="#0000ef"/>
<rect x="1014" y="152" width="3.5" height="3.5" fill="#0000df"/>
<rect x="1017" y="152" width="3.5" height="3.5" fill="#0000cf"/>
<rect x="1020" y="152" width="3.5" height="3.5" fill="#0000bf"/>
<rect x="1023" y="152" width="9.5" height="3.5" fill="#0000af"/>
<rect x="1032" y="152" width="9.5" height="3.5" fill="#00009f"/>
<rect x="1041" y="152" width="45.5" height="3.5" fill="#00008f"/>
<rect x="822" y="155" width="27.5" height="3.5" fill="#00008f"/>
<rect x="849" y="155" width="12.5" height="3.5" fill="#00009f"/>
<rect x="861" y="155" width="6.5" height="3.5" fill="#0000af"/>
<rect x="867" y="155" width="3.5" height="3.5" fill="#0000bf"/>
<rect x="870" y="155" width="3.5" height="3.5" fill="#0000cf"/>
<rect x="873" y="155" width="3.5" height="3.5" fill="#0000df"/>
<rect x="876" y="155" width="3.5" height="3.5" fill="#0000ef"/>
<rect x="879" y="155" width="3.5" height="3.5" fill="#0000ff"/>
<rect x="882" y="155" width="3.5" height="3.5" fill="#0010ff"/>
<rect x="885" y="155" width="3.5" height="3.5" fill="#0020ff"/>
<rect x="888" y="155" width="3.5" height="3.5" fill="#0030ff"/>
<rect x="891" y="155" width="3.5" height="3.5" fill="#0050ff"/>
<rect x="894" y="155" width="3.5" height="3.5" fill="#0060ff"/>
<rect x="897" y="155" width="3.5" height="3.5" fill="#0070ff"/>
<rect x="900" y="155" width="3.5" height="3.5" fill="#008fff"/>
<rect x="903" y="155" width="3.5" height="3.5" fill="#00afff"/>
<rect x="906" y="155" width="3.5" height="3.5" fill="#00cfff"/>
<rect x="909" y="155" width="3.5" height="3.5" fill="#00efff"/>
<rect x="912" y="155" width="3.5" height="3.5" fill="#00ffff"/>
<rect x="915" y="155" width="3.5" height="3.5" fill="#20ffdf"/>
<rect x="918" y="155" width="3.5" height="3.5" fill="#40ffbf"/>
<rect x="921" y="155" width="3.5" height="3.5" fill="#50ffaf"/>
<rect x="924" y="155" width="3.5" height="3.5" fill="#60ff9f"/>
<rect x="927" y="155" width="6.5" height="3.5" fill="#70ff8f"/>
<rect x="933" y="155" width="12.5" height="3.5" fill="#80ff80"/>
<rect x="945" y="155" width="12.5" height="3.5" fill="#8fff70"/>
<rect x="957" y="155" width="3.5" height="3.5" fill="#80ff80"/>
<rect x="960" y="155" width="3.5" height="3.5" fill="#60ff9f"/>
<rect x="963" y="155" width="3.5" height="3.5" fill="#40ffbf"/>
<rect x="966" y="155" width="3.5" height="3.5" fill="#30ffcf"/>
<rect x="969" y="155" width="3.5" height="3.5" fill="#10ffef"/>
<rect x="972" y="155" width="3.5" height="3.5" fill="#00efff"/>
<rect x="975" y="155" width="3.5" height="3.5" fill="#00cfff"/>
<rect x="978" y="155" width="3.5" height="3.5" fill="#00afff"/>
<rect x="981" y="155" width="3.5" height="3.5" fill="#008fff"/>
<rect x="984" y="155" width="3.5" height="3.5" fill="#0080ff"/>
<rect x="987" y="155" width="3.5" height="3.5" fill="#0060ff"/>
<rect x="990" y="155" width="3.5" height="3.5" fill="#0050ff"/>
<rect x="993" y="155" width="3.5" height="3.5" fill="#0040ff"/>
<rect x="996" y="155" width="3.5" height="3.5" fill="#0030ff"/>
<rect x="999" y="155" width="6.5" height="3.5" fill="#0020ff"/>
<rect x="1005" y="155" width="3.5" height="3.5" fill="#0010ff"/>
<rect x="1008" y="155" width="3.5" height="3.5" fill="#0000ff"/>
<rect x="1011" y="155" width="3.5" height="3.5" fill="#0000ef"/>
<rect x="1014" y="155" width="3.5" height="3.5" fill="#0000df"/>
<rect x="1017" y="155" width="6.5" height="3.5" fill="#0000cf"/>
<rect x="1023" y="155" width="3.5" height="3.5" fill="#0000bf"/>
<rect x="1026" y="155" width="6.5" height="3.5" fill="#0000af"/>
<rect x="1032" y="155" width="9.5" height="3.5" fill="#00009f"/>
<rect x="1041" y="155" width="45.5" height="3.5" fill="#00008f"/>
<rect x="822" y="158" width="27.5" height="3.5" fill="#00008f"/>
<rect x="849" y="158" width="9.5" height="3.5" fill="#00009f"/>
<rect x="858" y="158" width="9.5" height="3.5" fill="#0000af"/>
<rect x="867" y="158" width="3.5" height="3.5" fill="#0000bf"/>
<rect x="870" y="158" width="3.5" height="3.5" fill="#0000cf"/>
<rect x="873" y="158" width="3.5" height="3.5" fill="#0000df"/>
<rect x="876" y="158" width="3.5" height="3.5" fill="#0000ef"/>
<rect x="879" y="158" width="3.5" height="3.5" fill="#0000ff"/>
<rect x="882" y="158" width="3.5" height="3.5" fill="#0010ff"/>
<rect x="885" y="158" width="3.5" height="3.5" fill="#0030ff"/>
<rect x="888" y="158" width="3.5" height="3.5" fill="#0040ff"/>
<rect x="891" y="158" width="3.5" height="3.5" fill="#0050ff"/>
<rect x="894" y="158" width="3.5" height="3.5" fill="#0070ff"/>
<rect x="897" y="158" width="3.5" height="3.5" fill="#0080ff"/>
<rect x="900" y="158" width="3.5" height="3.5" fill="#009fff"/>
<rect x="903" y="158" width="3.5" height="3.5" fill="#00cfff"/>
<rect x="906" y="158" width="3.5" height="3.5" fill="#00efff"/>
<rect x="909" y="158" width="3.5" height="3.5" fill="#10ffef"/>
<rect x="912" y="158" width="3.5" height="3.5" fill="#40ffbf"/>
<rect x="915" y="158" width="3.5" height="3.5" fill="#60ff9f"/>
<rect x="918" y="158" width="3.5" height="3.5" fill="#80ff80"/>
<rect x="921" y="158" width="3.5" height="3.5" fill="#9fff60"/>
<rect x="924" y="158" width="3.5" height="3.5" fill="#afff50"/>
<rect x="927" y="158" width="3.5" height="3.5" fill="#cfff30"/>
<rect x="930" y="158" width="3.5" height="3.5" fill="#dfff20"/>
<rect x="933" y="158" width="18.5" height="3.5" fill="#efff10"/>
<rect x="951" y="158" width="3.5" height="3.5" fill="#dfff20"/>
<rect x="954" y="158" width="3.5" height="3.5" fill="#cfff30"/>
<rect x="957" y="158" width="3.5" height="3.5" fill="#afff50"/>
<rect x="960" y="158" width="3.5" height="3.5" fill="#8fff70"/>
<rect x="963" y="158" width="3.5" height="3.5" fill="#70ff8f"/>
<rect x="966" y="158" width="3.5" height="3.5" fill="#50ffaf"/>
<rect x="969" y="158" width="3.5" height="3.5" fill="#30ffcf"/>
<rect x="972" y="158" width="3.5" height="3.5" fill="#20ffdf"/>
<rect x="975" y="158" width="3.5" height="3.5" fill="#00ffff"/>
<rect x="978" y="158" width="3.5" height="3.5" fill="#00cfff"/>
<rect x="981" y="158" width="3.5" height="3.5" fill="#00afff"/>
<rect x="984" y="158" width="3.5" height="3.5" fill="#008fff"/>
<rect x="987" y="158" width="3.5" height="3.5" fill="#0070ff"/>
<rect x="990" y="158" width="3.5" height="3.5" fill="#0060ff"/>
<rect x="993" y="158" width="3.5" height="3.5" fill="#0050ff"/>
<rect x="996" y="158" width="3.5" height="3.5" fill="#0040ff"/>
<rect x="999" y="158" width="3.5" height="3.5" fill="#0030ff"/>
<rect x="1002" y="158" width="3.5" height="3.5" fill="#0020ff"/>
<rect x="1005" y="158" width="3.5" height="3.5" fill="#0010ff"/>
<rect x="1008" y="158" width="3.5" height="3.5" fill="#0000ff"/>
<rect x="1011" y="158" width="6.5" height="3.5" fill="#0000ef"/>
<rect x="1017" y="158" width="3.5" height="3.5" fill="#0000df"/>
<rect x="1020" y="158" width="3.5" height="3.5" fill="#0000cf"/>
<rect x="1023" y="158" width="3.5" height="3.5" fill="#0000bf"/>
<rect x="1026" y="158" width="6.5" height="3.5" fill="#0000af"/>
<rect x="1032" y="158" width="9.5" height="3.5" fill="#00009f"/>
<rect x="1041" y="158" width="45.5" height="3.5" fill="#00008f"/>
<rect x="822" y="161" width="27.5" height="3.5" fill="#00008f"/>
<rect x="849" y="161" width="9.5" height="3.5" fill="#00009f"/>
<rect x="858" y="161" width="9.5" height="3.5" fill="#0000af"/>
<rect x="867" y="161" width="3.5" height="3.5" fill="#0000bf"/>
<rect x="870" y="161" width="3.5" height="3.5" fill="#0000cf"/>
<rect x="873" y="161" width="3.5" height="3.5" fill="#0000df"/>
<rect x="876" y="161" width="3.5" height="3.5" fill="#0000ef"/>
<rect x="879" y="161" width="3.5" height="3.5" fill="#0010ff"/>
<rect x="882" y="161" width="3.5" height="3.5" fill="#0020ff"/>
<rect x="885" y="161" width="3.5" height="3.5" fill="#0030ff"/>
<rect x="888" y="161" width="3.5" height="3.5" fill="#0040ff"/>
<rect x="891" y="161" width="3.5" height="3.5" fill="#0060ff"/>
<rect x="894" y="161" width="3.5" height="3.5" fill="#0070ff"/>
<rect x="897" y="161" width="3.5" height="3.5" fill="#009fff"/>
<rect x="900" y="161" width="3.5" height="3.5" fill="#00bfff"/>
<rect x="903" y="161" width="3.5" height="3.5" fill="#00efff"/>
<rect x="906" y="161" width="3.5" height="3.5" fill="#10ffef"/>
<rect x="909" y="161" width="3.5" height="3.5" fill="#40ffbf"/>
<rect x="912" y="161" width="3.5" height="3.5" fill="#70ff8f"/>
<rect x="915" y="161" width="3.5" height="3.5" fill="#9fff60"/>
<rect x="918" y="161" width="3.5" height="3.5" fill="#cfff30"/>
<rect x="921" y="161" width="3.5" height="3.5" fill="#ffff00"/>
<rect x="924" y="161" width="3.5" height="3.5" fill="#ffdf00"/>
<rect x="927" y="161" width="3.5" height="3.5" fill="#ffbf00"/>
<rect x="930" y="161" width="3.5" height="3.5" fill="#ffaf00"/>
<rect x="933" y="161" width="3.5" height="3.5" fill="#ff9f00"/>
<rect x="936" y="161" width="9.5" height="3.5" fill="#ff8f00"/>
<rect x="945" y="161" width="6.5" height="3.5" fill="#ff9f00"/>
<rect x="951" y="161" width="3.5" height="3.5" fill="#ffaf00"/>
<rect x="954" y="161" width="3.5" height="3.5" fill="#ffcf00"/>
<rect x="957" y="161" width="3.5" height="3.5" fill="#ffef00"/>
<rect x="960" y="161" width="3.5" height="3.5" fill="#dfff20"/>
<rect x="963" y="161" width="3.5" height="3.5" fill="#afff50"/>
<rect x="966" y="161" width="3.5" height="3.5" fill="#80ff80"/>
<rect x="969" y="161" width="3.5" height="3.5" fill="#60ff9f"/>
<rect x="972" y="161" width="3.5" height="3.5" fill="#30ffcf"/>
<rect x="975" y="161" width="3.5" height="3.5" fill="#10ffef"/>
<rect x="978" y="161" width="3.5" height="3.5" fill="#00efff"/>
<rect x="981" y="161" width="3.5" height="3.5" fill="#00cfff"/>
<rect x="984" y="161" width="3.5" height="3.5" fill="#009fff"/>
<rect x="987" y="161" width="3.5" height="3.5" fill="#0080ff"/>
<rect x="990" y="161" width="3.5" height="3.5" fill="#0060ff"/>
<rect x="993" y="161" width="3.5" height="3.5" fill="#0050ff"/>
<rect x="996" y="161" width="3.5" height="3.5" fill="#0040ff"/>
<rect x="999" y="161" width="3.5" height="3.5" fill="#0030ff"/>
<rect x="1002" y="161" width="3.5" height="3.5" fill="#0020ff"/>
<rect x="1005" y="161" width="6.5" height="3.5" fill="#0010ff"/>
<rect x="1011" y="161" width="3.5" height="3.5" fill="#0000ff"/>
<rect x="1014" y="161" width="3.5" height="3.5" fill="#0000ef"/>
<rect x="1017" y="161" width="3.5" height="3.5" fill="#0000df"/>
<rect x="1020" y="161" width="3.5" height="3.5" fill="#0000cf"/>
<rect x="1023" y="161" width="3.5" height="3.5" fill="#0000bf"/>
<rect x="1026" y="161" width="9.5" height="3.5" fill="#0000af"/>
<rect x="1035" y="161" width="9.5" height="3.5" fill="#00009f"/>
<rect x="1044" y="161" width="42.5" height="3.5" fill="#00008f"/>
<rect x="822" y="164" width="27.5" height="3.5" fill="#00008f"/>
<rect x="849" y="164" width="9.5" height="3.5" fill="#00009f"/>
<rect x="858" y="164" width="6.5" height="3.5" fill="#0000af"/>
<rect x="864" y="164" width="3.5" height="3.5" fill="#0000bf"/>
<rect x="867" y="164" width="6.5" height="3.5" fill="#0000cf"/>
<rect x="873" y="164" width="3.5" height="3.5" fill="#0000ef"/>
<rect x="876" y="164" width="3.5" height="3.5" fill="#0000ff"/>
<rect x="879" y="164" width="3.5" height="3.5" fill="#0010ff"/>
<rect x="882" y="164" width="3.5" height="3.5" fill="#0020ff"/>
<rect x="885" y="164" width="3.5" height="3.5" fill="#0040ff"/>
<rect x="888" y="164" width="3.5" height="3.5" fill="#0050ff"/>
<rect x="891" y="164" width="3.5" height="3.5" fill="#0060ff"/>
<rect x="894" y="164" width="3.5" height="3.5" fill="#0080ff"/>
<rect x="897" y="164" width="3.5" height="3.5" fill="#00afff"/>
<rect x="900" y="164" width="3.5" height="3.5" fill="#00cfff"/>
<rect x="903" y="164" width="3.5" height="3.5" fill="#00ffff"/>
<rect x="906" y="164" width="3.5" height="3.5" fill="#30ffcf"/>
<rect x="909" y="164" width="3.5" height="3.5" fill="#60ff9f"/>
<rect x="912" y="164" width="3.5" height="3.5" fill="#9fff60"/>
<rect x="915" y="164" width="3.5" height="3.5" fill="#dfff20"/>
<rect x="918" y="164" width="3.5" height="3.5" fill="#ffdf00"/>
<rect x="921" y="164" width="3.5" height="3.5" fill="#ffaf00"/>
<rect x="924" y="164" width="3.5" height="3.5" fill="#ff8000"/>
<rect x="927" y="164" width="3.5" height="3.5" fill="#ff6000"/>
<rect x="930" y="164" width="3.5" height="3.5" fill="#ff4000"/>
<rect x="933" y="164" width="18.5" height="3.5" fill="#ff3000"/>
<rect x="951" y="164" width="3.5" height="3.5" fill="#ff5000"/>
<rect x="954" y="164" width="3.5" height="3.5" fill="#ff7000"/>
<rect x="957" y="164" width="3.5" height="3.5" fill="#ff9f00"/>
<rect x="960" y="164" width="3.5" height="3.5" fill="#ffcf00"/>
<rect x="963" y="164" width="3.5" height="3.5" fill="#efff10"/>
<rect x="966" y="164" width="3.5" height="3.5" fill="#afff50"/>
<rect x="969" y="164" width="3.5" height="3.5" fill="#80ff80"/>
<rect x="972" y="164" width="3.5" height="3.5" fill="#50ffaf"/>
<rect x="975" y="164" width="3.5" height="3.5" fill="#30ffcf"/>
<rect x="978" y="164" width="3.5" height="3.5" fill="#00ffff"/>
<rect x="981" y="164" width="3.5" height="3.5" fill="#00dfff"/>
<rect x="984" y="164" width="3.5" height="3.5" fill="#00afff"/>
<rect x="987" y="164" width="3.5" height="3.5" fill="#008fff"/>
<rect x="990" y="164" width="3.5" height="3.5" fill="#0070ff"/>
<rect x="993" y="164" width="3.5" height="3.5" fill="#0060ff"/>
<rect x="996" y="164" width="3.5" height="3.5" fill="#0040ff"/>
<rect x="999" y="164" width="3.5" height="3.5" fill="#0030ff"/>
<rect x="1002" y="164" width="3.5" height="3.5" fill="#0020ff"/>
<rect x="1005" y="164" width="6.5" height="3.5" fill="#0010ff"/>
<rect x="1011" y="164" width="3.5" height="3.5" fill="#0000ff"/>
<rect x="1014" y="164" width="3.5" height="3.5" fill="#0000ef"/>
<rect x="1017" y="164" width="3.5" height="3.5" fill="#0000df"/>
<rect x="1020" y="164" width="3.5" height="3.5" fill="#0000cf"/>
<rect x="1023" y="164" width="3.5" height="3.5" fill="#0000bf"/>
<rect x="1026" y="164" width="9.5" height="3.5" fill="#0000af"/>
<rect x="1035" y="164" width="9.5" height="3.5" fill="#00009f"/>
<rect x="1044" y="164" width="42.5" height="3.5" fill="#00008f"/>
<rect x="822" y="167" width="27.5" height="3.5" fill="#00008f"/>
<rect x="849" y="167" width="9.5" height="3.5" fill="#00009f"/>
<rect x="858" y="167" width="6.5" height="3.5" fill="#0000af"/>
<rect x="864" y="167" width="3.5" height="3.5" fill="#0000bf"/>
<rect x="867" y="167" width="3.5" height="3.5" fill="#0000cf"/>
<rect x="870" y="167" width="3.5" height="3.5" fill="#0000df"/>
<rect x="873" y="167" width="3.5" height="3.5" fill="#0000ef"/>
<rect x="876" y="167" width="3.5" height="3.5" fill="#0000ff"/>
<rect x="879" y="167" width="3.5" height="3.5" fill="#0010ff"/>
<rect x="882" y="167" width="3.5" height="3.5" fill="#0020ff"/>
<rect x="885" y="167" width="3.5" height="3.5" fill="#0040ff"/>
<rect x="888" y="167" width="3.5" height="3.5" fill="#0050ff"/>
<rect x="891" y="167" width="3.5" height="3.5" fill="#0070ff"/>
<rect x="894" y="167" width="3.5" height="3.5" fill="#008fff"/>
<rect x="897" y="167" width="3.5" height="3.5" fill="#00afff"/>
<rect x="900" y="167" width="3.5" height="3.5" fill="#00dfff"/>
<rect x="903" y="167" width="3.5" height="3.5" fill="#10ffef"/>
<rect x="906" y="167" width="3.5" height="3.5" fill="#40ffbf"/>
<rect x="909" y="167" width="3.5" height="3.5" fill="#80ff80"/>
<rect x="912" y="167" width="3.5" height="3.5" fill="#bfff40"/>
<rect x="915" y="167" width="3.5" height="3.5" fill="#ffef00"/>
<rect x="918" y="167" width="3.5" height="3.5" fill="#ffaf00"/>
<rect x="921" y="167" width="3.5" height="3.5" fill="#ff7000"/>
<rect x="924" y="167" width="3.5" height="3.5" fill="#ff4000"/>
<rect x="927" y="167" width="3.5" height="3.5" fill="#ff2000"/>
<rect x="930" y="167" width="3.5" height="3.5" fill="#ff0000"/>
<rect x="933" y="167" width="6.5" height="3.5" fill="#ef0000"/>
<rect x="939" y="167" width="9.5" height="3.5" fill="#df0000"/>
<rect x="948" y="167" width="3.5" height="3.5" fill="#ef0000"/>
<rect x="951" y="167" width="3.5" height="3.5" fill="#ff1000"/>
<rect x="954" y="167" width="3.5" height="3.5" fill="#ff3000"/>
<rect x="957" y="167" width="3.5" height="3.5" fill="#ff6000"/>
<rect x="960" y="167" width="3.5" height="3.5" fill="#ff9f00"/>
<rect x="963" y="167" width="3.5" height="3.5" fill="#ffdf00"/>
<rect x="966" y="167" width="3.5" height="3.5" fill="#dfff20"/>
<rect x="969" y="167" width="3.5" height="3.5" fill="#9fff60"/>
<rect x="972" y="167" width="3.5" height="3.5" fill="#70ff8f"/>
<rect x="975" y="167" width="3.5" height="3.5" fill="#40ffbf"/>
<rect x="978" y="167" width="3.5" height="3.5" fill="#10ffef"/>
<rect x="981" y="167" width="3.5" height="3.5" fill="#00efff"/>
<rect x="984" y="167" width="3.5" height="3.5" fill="#00bfff"/>
<rect x="987" y="167" width="3.5" height="3.5" fill="#008fff"/>
<rect x="990" y="167" width="3.5" height="3.5" fill="#0070ff"/>
<rect x="993" y="167" width="3.5" height="3.5" fill="#0060ff"/>
<rect x="996" y="167" width="3.5" height="3.5" fill="#0050ff"/>
<rect x="999" y="167" width="6.5" height="3.5" fill="#0030ff"/>
<rect x="1005" y="167" width="3.5" height="3.5" fill="#0020ff"/>
<rect x="1008" y="167" width="3.5" height="3.5" fill="#0010ff"/>
<rect x="1011" y="167" width="3.5" height="3.5" fill="#0000ff"/>
<rect x="1014" y="167" width="3.5" height="3.5" fill="#0000ef"/>
<rect x="1017" y="167" width="3.5" height="3.5" fill="#0000df"/>
<rect x="1020" y="167" width="3.5" height="3.5" fill="#0000cf"/>
<rect x="1023" y="167" width="3.5" height="3.5" fill="#0000bf"/>
<rect x="1026" y="167" width="9.5" height="3.5" fill="#0000af"/>
<rect x="1035" y="167" width="9.5" height="3.5" fill="#00009f"/>
<rect x="1044" y="167" width="42.5" height="3.5" fill="#00008f"/>
<rect x="822" y="170" width="27.5" height="3.5" fill="#00008f"/>
<rect x="849" y="170" width="9.5" height="3.5" fill="#00009f"/>
<rect x="858" y="170" width="6.5" height="3.5" fill="#0000af"/>
<rect x="864" y="170" width="3.5" height="3.5" fill="#0000bf"/>
<rect x="867" y="170" width="3.5" height="3.5" fill="#0000cf"/>
<rect x="870" y="170" width="3.5" height="3.5" fill="#0000df"/>
<rect x="873" y="170" width="3.5" height="3.5" fill="#0000ef"/>
<rect x="876" y="170" width="3.5" height="3.5" fill="#0000ff"/>
<rect x="879" y="170" width="3.5" height="3.5" fill="#0010ff"/>
<rect x="882" y="170" width="3.5" height="3.5" fill="#0030ff"/>
<rect x="885" y="170" width="3.5" height="3.5" fill="#0040ff"/>
<rect x="888" y="170" width="3.5" height="3.5" fill="#0050ff"/>
<rect x="891" y="170" width="3.5" height="3.5" fill="#0070ff"/>
<rect x="894" y="170" width="3.5" height="3.5" fill="#008fff"/>
<rect x="897" y="170" width="3.5" height="3.5" fill="#00bfff"/>
<rect x="900" y="170" width="3.5" height="3.5" fill="#00efff"/>
<rect x="903" y="170" width="3.5" height="3.5" fill="#20ffdf"/>
<rect x="906" y="170" width="3.5" height="3.5" fill="#50ffaf"/>
<rect x="909" y="170" width="3.5" height="3.5" fill="#8fff70"/>
<rect x="912" y="170" width="3.5" height="3.5" fill="#dfff20"/>
<rect x="915" y="170" width="3.5" height="3.5" fill="#ffcf00"/>
<rect x="918" y="170" width="3.5" height="3.5" fill="#ff8f00"/>
<rect x="921" y="170" width="3.5" height="3.5" fill="#ff5000"/>
<rect x="924" y="170" width="3.5" height="3.5" fill="#ff2000"/>
<rect x="927" y="170" width="3.5" height="3.5" fill="#ff0000"/>
<rect x="930" y="170" width="3.5" height="3.5" fill="#df0000"/>
<rect x="933" y="170" width="3.5" height="3.5" fill="#cf0000"/>
<rect x="936" y="170" width="6.5" height="3.5" fill="#bf0000"/>
<rect x="942" y="170" width="9.5" height="3.5" fill="#af0000"/>
<rect x="951" y="170" width="3.5" height="3.5" fill="#df0000"/>
<rect x="954" y="170" width="3.5" height="3.5" fill="#ff1000"/>
<rect x="957" y="170" width="3.5" height="3.5" fill="#ff3000"/>
<rect x="960" y="170" width="3.5" height="3.5" fill="#ff8000"/>
<rect x="963" y="170" width="3.5" height="3.5" fill="#ffbf00"/>
<rect x="966" y="170" width="3.5" height="3.5" fill="#ffff00"/>
<rect x="969" y="170" width="3.5" height="3.5" fill="#afff50"/>
<rect x="972" y="170" width="3.5" height="3.5" fill="#70ff8f"/>
<rect x="975" y="170" width="3.5" height="3.5" fill="#40ffbf"/>
<rect x="978" y="170" width="3.5" height="3.5" fill="#20ffdf"/>
<rect x="981" y="170" width="3.5" height="3.5" fill="#00efff"/>
<rect x="984" y="170" width="3.5" height="3.5" fill="#00bfff"/>
<rect x="987" y="170" width="3.5" height="3.5" fill="#009fff"/>
<rect x="990" y="170" width="3.5" height="3.5" fill="#0080ff"/>
<rect x="993" y="170" width="3.5" height="3.5" fill="#0060ff"/>
<rect x="996" y="170" width="3.5" height="3.5" fill="#0050ff"/>
<rect x="999" y="170" width="3.5" height="3.5" fill="#0040ff"/>
<rect x="1002" y="170" width="3.5" height="3.5" fill="#0030ff"/>
<rect x="1005" y="170" width="3.5" height="3.5" fill="#0020ff"/>
<rect x="1008" y="170" width="3.5" height="3.5" fill="#0010ff"/>
<rect x="1011" y="170" width="3.5" height="3.5" fill="#0000ff"/>
<rect x="1014" y="170" width="3.5" height="3.5" fill="#0000ef"/>
<rect x="1017" y="170" width="3.5" height="3.5" fill="#0000df"/>
<rect x="1020" y="170" width="3.5" height="3.5" fill="#0000cf"/>
<rect x="1023" y="170" width="3.5" height="3.5" fill="#0000bf"/>
<rect x="1026" y="170" width="9.5" height="3.5" fill="#0000af"/>
<rect x="1035" y="170" width="9.5" height="3.5" fill="#00009f"/>
<rect x="1044" y="170" width="42.5" height="3.5" fill="#00008f"/>
<rect x="822" y="173" width="27.5" height="3.5" fill="#00008f"/>
<rect x="849" y="173" width="9.5" height="3.5" fill="#00009f"/>
<rect x="858" y="173" width="6.5" height="3.5" fill="#0000af"/>
<rect x="864" y="173" width="3.5" height="3.5" fill="#0000bf"/>
<rect x="867" y="173" width="3.5" height="3.5" fill="#0000cf"/>
<rect x="870" y="173" width="3.5" height="3.5" fill="#0000df"/>
<rect x="873" y="173" width="3.5" height="3.5" fill="#0000ef"/>
<rect x="876" y="173" width="3.5" height="3.5" fill="#0000ff"/>
<rect x="879" y="173" width="3.5" height="3.5" fill="#0010ff"/>
<rect x="882" y="173" width="3.5" height="3.5" fill="#0030ff"/>
<rect x="885" y="173" width="3.5" height="3.5" fill="#0040ff"/>
<rect x="888" y="173" width="3.5" height="3.5" fill="#0060ff"/>
<rect x="891" y="173" width="3.5" height="3.5" fill="#0070ff"/>
<rect x="894" y="173" width="3.5" height="3.5" fill="#008fff"/>
<rect x="897" y="173" width="3.5" height="3.5" fill="#00bfff"/>
<rect x="900" y="173" width="3.5" height="3.5" fill="#00efff"/>
<rect x="903" y="173" width="3.5" height="3.5" fill="#20ffdf"/>
<rect x="906" y="173" width="3.5" height="3.5" fill="#60ff9f"/>
<rect x="909" y="173" width="3.5" height="3.5" fill="#8fff70"/>
<rect x="912" y="173" width="3.5" height="3.5" fill="#efff10"/>
<rect x="915" y="173" width="3.5" height="3.5" fill="#ffcf00"/>
<rect x="918" y="173" width="3.5" height="3.5" fill="#ff8000"/>
<rect x="921" y="173" width="3.5" height="3.5" fill="#ff4000"/>
<rect x="924" y="173" width="3.5" height="3.5" fill="#ff1000"/>
<rect x="927" y="173" width="3.5" height="3.5" fill="#ef0000"/>
<rect x="930" y="173" width="3.5" height="3.5" fill="#cf0000"/>
<rect x="933" y="173" width="3.5" height="3.5" fill="#bf0000"/>
<rect x="936" y="173" width="3.5" height="3.5" fill="#af0000"/>
<rect x="939" y="173" width="3.5" height="3.5" fill="#8f0000"/>
<rect x="942" y="173" width="3.5" height="3.5" fill="#800000"/>
<rect x="945" y="173" width="3.5" height="3.5" fill="#8f0000"/>
<rect x="948" y="173" width="3.5" height="3.5" fill="#9f0000"/>
<rect x="951" y="173" width="3.5" height="3.5" fill="#bf0000"/>
<rect x="954" y="173" width="3.5" height="3.5" fill="#ff0000"/>
<rect x="957" y="173" width="3.5" height="3.5" fill="#ff3000"/>
<rect x="960" y="173" width="3.5" height="3.5" fill="#ff7000"/>
<rect x="963" y="173" width="3.5" height="3.5" fill="#ffaf00"/>
<rect x="966" y="173" width="3.5" height="3.5" fill="#ffff00"/>
<rect x="969" y="173" width="3.5" height="3.5" fill="#afff50"/>
<rect x="972" y="173" width="3.5" height="3.5" fill="#80ff80"/>
<rect x="975" y="173" width="3.5" height="3.5" fill="#50ffaf"/>
<rect x="978" y="173" width="3.5" height="3.5" fill="#20ffdf"/>
<rect x="981" y="173" width="3.5" height="3.5" fill="#00efff"/>
<rect x="984" y="173" width="3.5" height="3.5" fill="#00cfff"/>
<rect x="987" y="173" width="3.5" height="3.5" fill="#009fff"/>
<rect x="990" y="173" width="3.5" height="3.5" fill="#0080ff"/>
<rect x="993" y="173" width="3.5" height="3.5" fill="#0060ff"/>
<rect x="996" y="173" width="3.5" height="3.5" fill="#0050ff"/>
<rect x="999" y="173" width="3.5" height="3.5" fill="#0040ff"/>
<rect x="1002" y="173" width="3.5" height="3.5" fill="#0030ff"/>
<rect x="1005" y="173" width="3.5" height="3.5" fill="#0020ff"/>
<rect x="1008" y="173" width="3.5" height="3.5" fill="#0010ff"/>
<rect x="1011" y="173" width="3.5" height="3.5" fill="#0000ff"/>
<rect x="1014" y="173" width="3.5" height="3.5" fill="#0000ef"/>
<rect x="1017" y="173" width="3.5" height="3.5" fill="#0000df"/>
<rect x="1020" y="173" width="3.5" height="3.5" fill="#0000cf"/>
<rect x="1023" y="173" width="6.5" height="3.5" fill="#0000bf"/>
<rect x="1029" y="173" width="6.5" height="3.5" fill="#0000af"/>
<rect x="1035" y="173" width="9.5" height="3.5" fill="#00009f"/>
<rect x="1044" y="173" width="42.5" height="3.5" fill="#00008f"/>
<rect x="822" y="176" width="27.5" height="3.5" fill="#00008f"/>
<rect x="849" y="176" width="9.5" height="3.5" fill="#00009f"/>
<rect x="858" y="176" width="6.5" height="3.5" fill="#0000af"/>
<rect x="864" y="176" width="3.5" height="3.5" fill="#0000bf"/>
<rect x="867" y="176" width="3.5" height="3.5" fill="#0000cf"/>
<rect x="870" y="176" width="3.5" height="3.5" fill="#0000df"/>
<rect x="873" y="176" width="3.5" height="3.5" fill="#0000ef"/>
<rect x="876" y="176" width="3.5" height="3.5" fill="#0000ff"/>
<rect x="879" y="176" width="3.5" height="3.5" fill="#0010ff"/>
<rect x="882" y="176" width="3.5" height="3.5" fill="#0030ff"/>
<rect x="885" y="176" width="3.5" height="3.5" fill="#0040ff"/>
<rect x="888" y="176" width="3.5" height="3.5" fill="#0060ff"/>
<rect x="891" y="176" width="3.5" height="3.5" fill="#0070ff"/>
<rect x="894" y="176" width="3.5" height="3.5" fill="#008fff"/>
<rect x="897" y="176" width="3.5" height="3.5" fill="#00bfff"/>
<rect x="900" y="176" width="3.5" height="3.5" fill="#00efff"/>
<rect x="903" y="176" width="3.5" height="3.5" fill="#20ffdf"/>
<rect x="906" y="176" width="3.5" height="3.5" fill="#60ff9f"/>
<rect x="909" y="176" width="3.5" height="3.5" fill="#8fff70"/>
<rect x="912" y="176" width="3.5" height="3.5" fill="#efff10"/>
<rect x="915" y="176" width="3.5" height="3.5" fill="#ffcf00"/>
<rect x="918" y="176" width="3.5" height="3.5" fill="#ff8000"/>
<rect x="921" y="176" width="3.5" height="3.5" fill="#ff4000"/>
<rect x="924" y="176" width="3.5" height="3.5" fill="#ff1000"/>
<rect x="927" y="176" width="3.5" height="3.5" fill="#ef0000"/>
<rect x="930" y="176" width="3.5" height="3.5" fill="#cf0000"/>
<rect x="933" y="176" width="3.5" height="3.5" fill="#bf0000"/>
<rect x="936" y="176" width="3.5" height="3.5" fill="#af0000"/>
<rect x="939" y="176" width="9.5" height="3.5" fill="#8f0000"/>
<rect x="948" y="176" width="3.5" height="3.5" fill="#9f0000"/>
<rect x="951" y="176" width="3.5" height="3.5" fill="#bf0000"/>
<rect x="954" y="176" width="3.5" height="3.5" fill="#ff0000"/>
<rect x="957" y="176" width="3.5" height="3.5" fill="#ff3000"/>
<rect x="960" y="176" width="3.5" height="3.5" fill="#ff7000"/>
<rect x="963" y="176" width="3.5" height="3.5" fill="#ffaf00"/>
<rect x="966" y="176" width="3.5" height="3.5" fill="#ffff00"/>
<rect x="969" y="176" width="3.5" height="3.5" fill="#afff50"/>
<rect x="972" y="176" width="3.5" height="3.5" fill="#80ff80"/>
<rect x="975" y="176" width="3.5" height="3.5" fill="#50ffaf"/>
<rect x="978" y="176" width="3.5" height="3.5" fill="#20ffdf"/>
<rect x="981" y="176" width="3.5" height="3.5" fill="#00efff"/>
<rect x="984" y="176" width="3.5" height="3.5" fill="#00cfff"/>
<rect x="987" y="176" width="3.5" height="3.5" fill="#009fff"/>
<rect x="990" y="176" width="3.5" height="3.5" fill="#0080ff"/>
<rect x="993" y="176" width="3.5" height="3.5" fill="#0070ff"/>
<rect x="996" y="176" width="3.5" height="3.5" fill="#0050ff"/>
<rect x="999" y="176" width="3.5" height="3.5" fill="#0040ff"/>
<rect x="1002" y="176" width="3.5" height="3.5" fill="#0030ff"/>
<rect x="1005" y="176" width="3.5" height="3.5" fill="#0020ff"/>
<rect x="1008" y="176" width="3.5" height="3.5" fill="#0010ff"/>
<rect x="1011" y="176" width="3.5" height="3.5" fill="#0000ff"/>
<rect x="1014" y="176" width="3.5" height="3.5" fill="#0000ef"/>
<rect x="1017" y="176" width="3.5" height="3.5" fill="#0000df"/>
<rect x="1020" y="176" width="3.5" height="3.5" fill="#0000cf"/>
<rect x="1023" y="176" width="6.5" height="3.5" fill="#0000bf"/>
<rect x="1029" y="176" width="6.5" height="3.5" fill="#0000af"/>
<rect x="1035" y="176" width="9.5" height="3.5" fill="#00009f"/>
<rect x="1044" y="176" width="42.5" height="3.5" fill="#00008f"/>
<rect x="822" y="179" width="27.5" height="3.5" fill="#00008f"/>
<rect x="849" y="179" width="9.5" height="3.5" fill="#00009f"/>
<rect x="858" y="179" width="6.5" height="3.5" fill="#0000af"/>
<rect x="864" y="179" width="3.5" height="3.5" fill="#0000bf"/>
<rect x="867" y="179" width="3.5" height="3.5" fill="#0000cf"/>
<rect x="870" y="179" width="3.5" height="3.5" fill="#0000df"/>
<rect x="873" y="179" width="3.5" height="3.5" fill="#0000ef"/>
<rect x="876" y="179" width="3.5" height="3.5" fill="#0000ff"/>
<rect x="879" y="179" width="3.5" height="3.5" fill="#0010ff"/>
<rect x="882" y="179" width="3.5" height="3.5" fill="#0030ff"/>
<rect x="885" y="179" width="3.5" height="3.5" fill="#0040ff"/>
<rect x="888" y="179" width="3.5" height="3.5" fill="#0050ff"/>
<rect x="891" y="179" width="3.5" height="3.5" fill="#0070ff"/>
<rect x="894" y="179" width="3.5" height="3.5" fill="#008fff"/>
<rect x="897" y="179" width="3.5" height="3.5" fill="#00bfff"/>
<rect x="900" y="179" width="3.5" height="3.5" fill="#00efff"/>
<rect x="903" y="179" width="3.5" height="3.5" fill="#20ffdf"/>
<rect x="906" y="179" width="3.5" height="3.5" fill="#50ffaf"/>
<rect x="909" y="179" width="3.5" height="3.5" fill="#8fff70"/>
<rect x="912" y="179" width="3.5" height="3.5" fill="#dfff20"/>
<rect x="915" y="179" width="3.5" height="3.5" fill="#ffcf00"/>
<rect x="918" y="179" width="3.5" height="3.5" fill="#ff8f00"/>
<rect x="921" y="179" width="3.5" height="3.5" fill="#ff5000"/>
<rect x="924" y="179" width="3.5" height="3.5" fill="#ff2000"/>
<rect x="927" y="179" width="3.5" height="3.5" fill="#ff0000"/>
<rect x="930" y="179" width="3.5" height="3.5" fill="#df0000"/>
<rect x="933" y="179" width="3.5" height="3.5" fill="#cf0000"/>
<rect x="936" y="179" width="6.5" height="3.5" fill="#bf0000"/>
<rect x="942" y="179" width="6.5" height="3.5" fill="#af0000"/>
<rect x="948" y="179" width="3.5" height="3.5" fill="#bf0000"/>
<rect x="951" y="179" width="3.5" height="3.5" fill="#df0000"/>
<rect x="954" y="179" width="3.5" height="3.5" fill="#ff1000"/>
<rect x="957" y="179" width="3.5" height="3.5" fill="#ff3000"/>
<rect x="960" y="179" width="3.5" height="3.5" fill="#ff8000"/>
<rect x="963" y="179" width="3.5" height="3.5" fill="#ffbf00"/>
<rect x="966" y="179" width="3.5" height="3.5" fill="#ffff00"/>
<rect x="969" y="179" width="3.5" height="3.5" fill="#afff50"/>
<rect x="972" y="179" width="3.5" height="3.5" fill="#80ff80"/>
<rect x="975" y="179" width="3.5" height="3.5" fill="#50ffaf"/>
<rect x="978" y="179" width="3.5" height="3.5" fill="#20ffdf"/>
<rect x="981" y="179" width="3.5" height="3.5" fill="#00ffff"/>
<rect x="984" y="179" width="3.5" height="3.5" fill="#00cfff"/>
<rect x="987" y="179" width="3.5" height="3.5" fill="#00afff"/>
<rect x="990" y="179" width="3.5" height="3.5" fill="#008fff"/>
<rect x="993" y="179" width="3.5" height="3.5" fill="#0070ff"/>
<rect x="996" y="179" width="3.5" height="3.5" fill="#0050ff"/>
<rect x="999" y="179" width="3.5" height="3.5" fill="#0040ff"/>
<rect x="1002" y="179" width="3.5" height="3.5" fill="#0030ff"/>
<rect x="1005" y="179" width="3.5" height="3.5" fill="#0020ff"/>
<rect x="1008" y="179" width="3.5" height="3.5" fill="#0010ff"/>
<rect x="1011" y="179" width="3.5" height="3.5" fill="#0000ff"/>
<rect x="1014" y="179" width="3.5" height="3.5" fill="#0000ef"/>
<rect x="1017" y="179" width="3.5" height="3.5" fill="#0000df"/>
<rect x="1020" y="179" width="3.5" height="3.5" fill="#0000cf"/>
<rect x="1023" y="179" width="3.5" height="3.5" fill="#0000bf"/>
<rect x="1026" y="179" width="9.5" height="3.5" fill="#0000af"/>
<rect x="1035" y="179" width="9.5" height="3.5" fill="#00009f"/>
<rect x="1044" y="179" width="42.5" height="3.5" fill="#00008f"/>
<rect x="822" y="182" width="27.5" height="3.5" fill="#00008f"/>
<rect x="849" y="182" width="9.5" height="3.5" fill="#00009f"/>
<rect x="858" y="182" width="6.5" height="3.5" fill="#0000af"/>
<rect x="864" y="182" width="3.5" height="3.5" fill="#0000bf"/>
<rect x="867" y="182" width="3.5" height="3.5" fill="#0000cf"/>
<rect x="870" y="182" width="3.5" height="3.5" fill="#0000df"/>
<rect x="873" y="182" width="3.5" height="3.5" fill="#0000ef"/>
<rect x="876" y="182" width="3.5" height="3.5" fill="#0000ff"/>
<rect x="879" y="182" width="3.5" height="3.5" fill="#0010ff"/>
<rect x="882" y="182" width="3.5" height="3.5" fill="#0020ff"/>
<rect x="885" y="182" width="3.5" height="3.5" fill="#0040ff"/>
<rect x="888" y="182" width="3.5" height="3.5" fill="#0050ff"/>
<rect x="891" y="182" width="3.5" height="3.5" fill="#0070ff"/>
<rect x="894" y="182" width="3.5" height="3.5" fill="#008fff"/>
<rect x="897" y="182" width="3.5" height="3.5" fill="#00afff"/>
<rect x="900" y="182" width="3.5" height="3.5" fill="#00dfff"/>
<rect x="903" y="182" width="3.5" height="3.5" fill="#10ffef"/>
<rect x="906" y="182" width="3.5" height="3.5" fill="#40ffbf"/>
<rect x="909" y="182" width="3.5" height="3.5" fill="#80ff80"/>
<rect x="912" y="182" width="3.5" height="3.5" fill="#bfff40"/>
<rect x="915" y="182" width="3.5" height="3.5" fill="#ffef00"/>
<rect x="918" y="182" width="3.5" height="3.5" fill="#ffaf00"/>
<rect x="921" y="182" width="3.5" height="3.5" fill="#ff7000"/>
<rect x="924" y="182" width="3.5" height="3.5" fill="#ff4000"/>
<rect x="927" y="182" width="3.5" height="3.5" fill="#ff2000"/>
<rect x="930" y="182" width="3.5" height="3.5" fill="#ff0000"/>
<rect x="933" y="182" width="15.5" height="3.5" fill="#ef0000"/>
<rect x="948" y="182" width="3.5" height="3.5" fill="#ff0000"/>
<rect x="951" y="182" width="3.5" height="3.5" fill="#ff1000"/>
<rect x="954" y="182" width="3.5" height="3.5" fill="#ff3000"/>
<rect x="957" y="182" width="3.5" height="3.5" fill="#ff6000"/>
<rect x="960" y="182" width="3.5" height="3.5" fill="#ff9f00"/>
<rect x="963" y="182" width="3.5" height="3.5" fill="#ffcf00"/>
<rect x="966" y="182" width="3.5" height="3.5" fill="#dfff20"/>
<rect x="969" y="182" width="3.5" height="3.5" fill="#9fff60"/>
<rect x="972" y="182" width="3.5" height="3.5" fill="#70ff8f"/>
<rect x="975" y="182" width="3.5" height="3.5" fill="#50ffaf"/>
<rect x="978" y="182" width="3.5" height="3.5" fill="#20ffdf"/>
<rect x="981" y="182" width="3.5" height="3.5" fill="#00ffff"/>
<rect x="984" y="182" width="3.5" height="3.5" fill="#00dfff"/>
<rect x="987" y="182" width="3.5" height="3.5" fill="#00afff"/>
<rect x="990" y="182" width="3.5" height="3.5" fill="#008fff"/>
<rect x="993" y="182" width="3.5" height="3.5" fill="#0080ff"/>
<rect x="996" y="182" width="3.5" height="3.5" fill="#0060ff"/>
<rect x="999" y="182" width="3.5" height="3.5" fill="#0040ff"/>
<rect x="1002" y="182" width="3.5" height="3.5" fill="#0030ff"/>
<rect x="1005" y="182" width="3.5" height="3.5" fill="#0020ff"/>
<rect x="1008" y="182" width="3.5" height="3.5" fill="#0010ff"/>
<rect x="1011" y="182" width="3.5" height="3.5" fill="#0000ff"/>
<rect x="1014" y="182" width="3.5" height="3.5" fill="#0000ef"/>
<rect x="1017" y="182" width="3.5" height="3.5" fill="#0000df"/>
<rect x="1020" y="182" width="3.5" height="3.5" fill="#0000cf"/>
<rect x="1023" y="182" width="3.5" height="3.5" fill="#0000bf"/>
<rect x="1026" y="182" width="9.5" height="3.5" fill="#0000af"/>
<rect x="1035" y="182" width="9.5" height="3.5" fill="#00009f"/>
<rect x="1044" y="182" width="42.5" height="3.5" fill="#00008f"/>
<rect x="822" y="185" width="27.5" height="3.5" fill="#00008f"/>
<rect x="849" y="185" width="9.5" height="3.5" fill="#00009f"/>
<rect x="858" y="185" width="6.5" height="3.5" fill="#0000af"/>
<rect x="864" y="185" width="3.5" height="3.5" fill="#0000bf"/>
<rect x="867" y="185" width="6.5" height="3.5" fill="#0000cf"/>
<rect x="873" y="185" width="3.5" height="3.5" fill="#0000ef"/>
<rect x="876" y="185" width="3.5" height="3.5" fill="#0000ff"/>
<rect x="879" y="185" width="3.5" height="3.5" fill="#0010ff"/>
<rect x="882" y="185" width="3.5" height="3.5" fill="#0020ff"/>
<rect x="885" y="185" width="3.5" height="3.5" fill="#0040ff"/>
<rect x="888" y="185" width="3.5" height="3.5" fill="#0050ff"/>
<rect x="891" y="185" width="3.5" height="3.5" fill="#0060ff"/>
<rect x="894" y="185" width="3.5" height="3.5" fill="#0080ff"/>
<rect x="897" y="185" width="3.5" height="3.5" fill="#00afff"/>
<rect x="900" y="185" width="3.5" height="3.5" fill="#00cfff"/>
<rect x="903" y="185" width="3.5" height="3.5" fill="#00ffff"/>
<rect x="906" y="185" width="3.5" height="3.5" fill="#30ffcf"/>
<rect x="909" y="185" width="3.5" height="3.5" fill="#60ff9f"/>
<rect x="912" y="185" width="3.5" height="3.5" fill="#9fff60"/>
<rect x="915" y="185" width="3.5" height="3.5" fill="#dfff20"/>
<rect x="918" y="185" width="3.5" height="3.5" fill="#ffdf00"/>
<rect x="921" y="185" width="3.5" height="3.5" fill="#ffaf00"/>
<rect x="924" y="185" width="3.5" height="3.5" fill="#ff8000"/>
<rect x="927" y="185" width="3.5" height="3.5" fill="#ff6000"/>
<rect x="930" y="185" width="3.5" height="3.5" fill="#ff4000"/>
<rect x="933" y="185" width="15.5" height="3.5" fill="#ff3000"/>
<rect x="948" y="185" width="3.5" height="3.5" fill="#ff4000"/>
<rect x="951" y="185" width="3.5" height="3.5" fill="#ff5000"/>
<rect x="954" y="185" width="3.5" height="3.5" fill="#ff7000"/>
<rect x="957" y="185" width="3.5" height="3.5" fill="#ff9f00"/>
<rect x="960" y="185" width="3.5" height="3.5" fill="#ffcf00"/>
<rect x="963" y="185" width="3.5" height="3.5" fill="#efff10"/>
<rect x="966" y="185" width="3.5" height="3.5" fill="#afff50"/>
<rect x="969" y="185" width="3.5" height="3.5" fill="#8fff70"/>
<rect x="972" y="185" width="3.5" height="3.5" fill="#60ff9f"/>
<rect x="975" y="185" width="3.5" height="3.5" fill="#40ffbf"/>
<rect x="978" y="185" width="3.5" height="3.5" fill="#20ffdf"/>
<rect x="981" y="185" width="3.5" height="3.5" fill="#00ffff"/>
<rect x="984" y="185" width="3.5" height="3.5" fill="#00dfff"/>
<rect x="987" y="185" width="3.5" height="3.5" fill="#00bfff"/>
<rect x="990" y="185" width="3.5" height="3.5" fill="#009fff"/>
<rect x="993" y="185" width="3.5" height="3.5" fill="#0080ff"/>
<rect x="996" y="185" width="3.5" height="3.5" fill="#0070ff"/>
<rect x="999" y="185" width="3.5" height="3.5" fill="#0050ff"/>
<rect x="1002" y="185" width="3.5" height="3.5" fill="#0030ff"/>
<rect x="1005" y="185" width="3.5" height="3.5" fill="#0020ff"/>
<rect x="1008" y="185" width="3.5" height="3.5" fill="#0010ff"/>
<rect x="1011" y="185" width="3.5" height="3.5" fill="#0000ff"/>
<rect x="1014" y="185" width="3.5" height="3.5" fill="#0000ef"/>
<rect x="1017" y="185" width="3.5" height="3.5" fill="#0000df"/>
<rect x="1020" y="185" width="3.5" height="3.5" fill="#0000cf"/>
<rect x="1023" y="185" width="3.5" height="3.5" fill="#0000bf"/>
<rect x="1026" y="185" width="9.5" height="3.5" fill="#0000af"/>
<rect x="1035" y="185" width="9.5" height="3.5" fill="#00009f"/>
<rect x="1044" y="185" width="42.5" height="3.5" fill="#00008f"/>
<rect x="822" y="188" width="27.5" height="3.5" fill="#00008f"/>
<rect x="849" y="188" width="9.5" height="3.5" fill="#00009f"/>
<rect x="858" y="188" width="9.5" height="3.5" fill="#0000af"/>
<rect x="867" y="188" width="3.5" height="3.5" fill="#0000bf"/>
<rect x="870" y="188" width="3.5" height="3.5" fill="#0000cf"/>
<rect x="873" y="188" width="3.5" height="3.5" fill="#0000df"/>
<rect x="876" y="188" width="3.5" height="3.5" fill="#0000ef"/>
<rect x="879" y="188" width="3.5" height="3.5" fill="#0010ff"/>
<rect x="882" y="188" width="3.5" height="3.5" fill="#0020ff"/>
<rect x="885" y="188" width="3.5" height="3.5" fill="#0030ff"/>
<rect x="888" y="188" width="3.5" height="3.5" fill="#0040ff"/>
<rect x="891" y="188" width="3.5" height="3.5" fill="#0060ff"/>
<rect x="894" y="188" width="3.5" height="3.5" fill="#0070ff"/>
<rect x="897" y="188" width="3.5" height="3.5" fill="#009fff"/>
<rect x="900" y="188" width="3.5" height="3.5" fill="#00bfff"/>
<rect x="903" y="188" width="3.5" height="3.5" fill="#00efff"/>
<rect x="906" y="188" width="3.5" height="3.5" fill="#10ffef"/>
<rect x="909" y="188" width="3.5" height="3.5" fill="#40ffbf"/>
<rect x="912" y="188" width="3.5" height="3.5" fill="#70ff8f"/>
<rect x="915" y="188" width="3.5" height="3.5" fill="#9fff60"/>
<rect x="918" y="188" width="3.5" height="3.5" fill="#cfff30"/>
<rect x="921" y="188" width="3.5" height="3.5" fill="#ffff00"/>
<rect x="924" y="188" width="3.5" height="3.5" fill="#ffdf00"/>
<rect x="927" y="188" width="3.5" height="3.5" fill="#ffbf00"/>
<rect x="930" y="188" width="3.5" height="3.5" fill="#ffaf00"/>
<rect x="933" y="188" width="3.5" height="3.5" fill="#ff9f00"/>
<rect x="936" y="188" width="9.5" height="3.5" fill="#ff8f00"/>
<rect x="945" y="188" width="6.5" height="3.5" fill="#ff9f00"/>
<rect x="951" y="188" width="3.5" height="3.5" fill="#ffaf00"/>
<rect x="954" y="188" width="3.5" height="3.5" fill="#ffcf00"/>
<rect x="957" y="188" width="3.5" height="3.5" fill="#ffef00"/>
<rect x="960" y="188" width="3.5" height="3.5" fill="#dfff20"/>
<rect x="963" y="188" width="3.5" height="3.5" fill="#afff50"/>
<rect x="966" y="188" width="3.5" height="3.5" fill="#8fff70"/>
<rect x="969" y="188" width="3.5" height="3.5" fill="#70ff8f"/>
<rect x="972" y="188" width="3.5" height="3.5" fill="#50ffaf"/>
<rect x="975" y="188" width="3.5" height="3.5" fill="#40ffbf"/>
<rect x="978" y="188" width="3.5" height="3.5" fill="#20ffdf"/>
<rect x="981" y="188" width="3.5" height="3.5" fill="#10ffef"/>
<rect x="984" y="188" width="3.5" height="3.5" fill="#00efff"/>
<rect x="987" y="188" width="3.5" height="3.5" fill="#00cfff"/>
<rect x="990" y="188" width="3.5" height="3.5" fill="#00afff"/>
<rect x="993" y="188" width="3.5" height="3.5" fill="#008fff"/>
<rect x="996" y="188" width="3.5" height="3.5" fill="#0070ff"/>
<rect x="999" y="188" width="3.5" height="3.5" fill="#0060ff"/>
<rect x="1002" y="188" width="3.5" height="3.5" fill="#0040ff"/>
<rect x="1005" y="188" width="3.5" height="3.5" fill="#0020ff"/>
<rect x="1008" y="188" width="3.5" height="3.5" fill="#0010ff"/>
<rect x="1011" y="188" width="3.5" height="3.5" fill="#0000ff"/>
<rect x="1014" y="188" width="3.5" height="3.5" fill="#0000ef"/>
<rect x="1017" y="188" width="3.5" height="3.5" fill="#0000df"/>
<rect x="1020" y="188" width="3.5" height="3.5" fill="#0000cf"/>
<rect x="1023" y="188" width="3.5" height="3.5" fill="#0000bf"/>
<rect x="1026" y="188" width="9.5" height="3.5" fill="#0000af"/>
<rect x="1035" y="188" width="9.5" height="3.5" fill="#00009f"/>
<rect x="1044" y="188" width="42.5" height="3.5" fill="#00008f"/>
<rect x="822" y="191" width="27.5" height="3.5" fill="#00008f"/>
<rect x="849" y="191" width="9.5" height="3.5" fill="#00009f"/>
<rect x="858" y="191" width="9.5" height="3.5" fill="#0000af"/>
<rect x="867" y="191" width="3.5" height="3.5" fill="#0000bf"/>
<rect x="870" y="191" width="3.5" height="3.5" fill="#0000cf"/>
<rect x="873" y="191" width="3.5" height="3.5" fill="#0000df"/>
<rect x="876" y="191" width="3.5" height="3.5" fill="#0000ef"/>
<rect x="879" y="191" width="3.5" height="3.5" fill="#0000ff"/>
<rect x="882" y="191" width="3.5" height="3.5" fill="#0010ff"/>
<rect x="885" y="191" width="3.5" height="3.5" fill="#0030ff"/>
<rect x="888" y="191" width="3.5" height="3.5" fill="#0040ff"/>
<rect x="891" y="191" width="3.5" height="3.5" fill="#0050ff"/>
<rect x="894" y="191" width="3.5" height="3.5" fill="#0070ff"/>
<rect x="897" y="191" width="3.5" height="3.5" fill="#0080ff"/>
<rect x="900" y="191" width="3.5" height="3.5" fill="#009fff"/>
<rect x="903" y="191" width="3.5" height="3.5" fill="#00cfff"/>
<rect x="906" y="191" width="3.5" height="3.5" fill="#00efff"/>
<rect x="909" y="191" width="3.5" height="3.5" fill="#10ffef"/>
<rect x="912" y="191" width="3.5" height="3.5" fill="#40ffbf"/>
<rect x="915" y="191" width="3.5" height="3.5" fill="#60ff9f"/>
<rect x="918" y="191" width="3.5" height="3.5" fill="#80ff80"/>
<rect x="921" y="191" width="3.5" height="3.5" fill="#9fff60"/>
<rect x="924" y="191" width="3.5" height="3.5" fill="#afff50"/>
<rect x="927" y="191" width="3.5" height="3.5" fill="#cfff30"/>
<rect x="930" y="191" width="3.5" height="3.5" fill="#dfff20"/>
<rect x="933" y="191" width="15.5" height="3.5" fill="#efff10"/>
<rect x="948" y="191" width="3.5" height="3.5" fill="#dfff20"/>
<rect x="951" y="191" width="3.5" height="3.5" fill="#cfff30"/>
<rect x="954" y="191" width="3.5" height="3.5" fill="#bfff40"/>
<rect x="957" y="191" width="3.5" height="3.5" fill="#9fff60"/>
<rect x="960" y="191" width="3.5" height="3.5" fill="#8fff70"/>
<rect x="963" y="191" width="3.5" height="3.5" fill="#80ff80"/>
<rect x="966" y="191" width="3.5" height="3.5" fill="#60ff9f"/>
<rect x="969" y="191" width="6.5" height="3.5" fill="#50ffaf"/>
<rect x="975" y="191" width="3.5" height="3.5" fill="#40ffbf"/>
<rect x="978" y="191" width="3.5" height="3.5" fill="#30ffcf"/>
<rect x="981" y="191" width="3.5" height="3.5" fill="#10ffef"/>
<rect x="984" y="191" width="3.5" height="3.5" fill="#00ffff"/>
<rect x="987" y="191" width="3.5" height="3.5" fill="#00dfff"/>
<rect x="990" y="191" width="3.5" height="3.5" fill="#00bfff"/>
<rect x="993" y="191" width="3.5" height="3.5" fill="#009fff"/>
<rect x="996" y="191" width="3.5" height="3.5" fill="#0080ff"/>
<rect x="999" y="191" width="3.5" height="3.5" fill="#0060ff"/>
<rect x="1002" y="191" width="3.5" height="3.5" fill="#0040ff"/>
<rect x="1005" y="191" width="3.5" height="3.5" fill="#0030ff"/>
<rect x="1008" y="191" width="3.5" height="3.5" fill="#0010ff"/>
<rect x="1011" y="191" width="3.5" height="3.5" fill="#0000ff"/>
<rect x="1014" y="191" width="3.5" height="3.5" fill="#0000ef"/>
<rect x="1017" y="191" width="3.5" height="3.5" fill="#0000df"/>
<rect x="1020" y="191" width="3.5" height="3.5" fill="#0000cf"/>
<rect x="1023" y="191" width="3.5" height="3.5" fill="#0000bf"/>
<rect x="1026" y="191" width="6.5" height="3.5" fill="#0000af"/>
<rect x="1032" y="191" width="9.5" height="3.5" fill="#00009f"/>
<rect x="1041" y="191" width="45.5" height="3.5" fill="#00008f"/>
<rect x="822" y="194" width="27.5" height="3.5" fill="#00008f"/>
<rect x="849" y="194" width="12.5" height="3.5" fill="#00009f"/>
<rect x="861" y="194" width="6.5" height="3.5" fill="#0000af"/>
<rect x="867" y="194" width="3.5" height="3.5" fill="#0000bf"/>
<rect x="870" y="194" width="3.5" height="3.5" fill="#0000cf"/>
<rect x="873" y="194" width="3.5" height="3.5" fill="#0000df"/>
<rect x="876" y="194" width="3.5" height="3.5" fill="#0000ef"/>
<rect x="879" y="194" width="3.5" height="3.5" fill="#0000ff"/>
<rect x="882" y="194" width="3.5" height="3.5" fill="#0010ff"/>
<rect x="885" y="194" width="3.5" height="3.5" fill="#0020ff"/>
<rect x="888" y="194" width="3.5" height="3.5" fill="#0030ff"/>
<rect x="891" y="194" width="3.5" height="3.5" fill="#0040ff"/>
<rect x="894" y="194" width="3.5" height="3.5" fill="#0060ff"/>
<rect x="897" y="194" width="3.5" height="3.5" fill="#0070ff"/>
<rect x="900" y="194" width="3.5" height="3.5" fill="#008fff"/>
<rect x="903" y="194" width="3.5" height="3.5" fill="#009fff"/>
<rect x="906" y="194" width="3.5" height="3.5" fill="#00bfff"/>
<rect x="909" y="194" width="3.5" height="3.5" fill="#00dfff"/>
<rect x="912" y="194" width="3.5" height="3.5" fill="#00ffff"/>
<rect x="915" y="194" width="3.5" height="3.5" fill="#20ffdf"/>
<rect x="918" y="194" width="3.5" height="3.5" fill="#40ffbf"/>
<rect x="921" y="194" width="3.5" height="3.5" fill="#50ffaf"/>
<rect x="924" y="194" width="3.5" height="3.5" fill="#60ff9f"/>
<rect x="927" y="194" width="6.5" height="3.5" fill="#70ff8f"/>
<rect x="933" y="194" width="18.5" height="3.5" fill="#80ff80"/>
<rect x="951" y="194" width="6.5" height="3.5" fill="#70ff8f"/>
<rect x="957" y="194" width="3.5" height="3.5" fill="#60ff9f"/>
<rect x="960" y="194" width="3.5" height="3.5" fill="#50ffaf"/>
<rect x="963" y="194" width="9.5" height="3.5" fill="#40ffbf"/>
<rect x="972" y="194" width="6.5" height="3.5" fill="#30ffcf"/>
<rect x="978" y="194" width="3.5" height="3.5" fill="#20ffdf"/>
<rect x="981" y="194" width="3.5" height="3.5" fill="#10ffef"/>
<rect x="984" y="194" width="3.5" height="3.5" fill="#00ffff"/>
<rect x="987" y="194" width="3.5" height="3.5" fill="#00efff"/>
<rect x="990" y="194" width="3.5" height="3.5" fill="#00cfff"/>
<rect x="993" y="194" width="3.5" height="3.5" fill="#00afff"/>
<rect x="996" y="194" width="3.5" height="3.5" fill="#008fff"/>
<rect x="999" y="194" width="3.5" height="3.5" fill="#0060ff"/>
<rect x="1002" y="194" width="3.5" height="3.5" fill="#0040ff"/>
<rect x="1005" y="194" width="3.5" height="3.5" fill="#0030ff"/>
<rect x="1008" y="194" width="3.5" height="3.5" fill="#0010ff"/>
<rect x="1011" y="194" width="3.5" height="3.5" fill="#0000ff"/>
<rect x="1014" y="194" width="3.5" height="3.5" fill="#0000ef"/>
<rect x="1017" y="194" width="3.5" height="3.5" fill="#0000df"/>
<rect x="1020" y="194" width="3.5" height="3.5" fill="#0000cf"/>
<rect x="1023" y="194" width="3.5" height="3.5" fill="#0000bf"/>
<rect x="1026" y="194" width="6.5" height="3.5" fill="#0000af"/>
<rect x="1032" y="194" width="9.5" height="3.5" fill="#00009f"/>
<rect x="1041" y="194" width="45.5" height="3.5" fill="#00008f"/>
<rect x="822" y="197" width="30.5" height="3.5" fill="#00008f"/>
<rect x="852" y="197" width="9.5" height="3.5" fill="#00009f"/>
<rect x="861" y="197" width="6.5" height="3.5" fill="#0000af"/>
<rect x="867" y="197" width="3.5" height="3.5" fill="#0000bf"/>
<rect x="870" y="197" width="6.5" height="3.5" fill="#0000cf"/>
<rect x="876" y="197" width="3.5" height="3.5" fill="#0000df"/>
<rect x="879" y="197" width="3.5" height="3.5" fill="#0000ef"/>
<rect x="882" y="197" width="3.5" height="3.5" fill="#0000ff"/>
<rect x="885" y="197" width="3.5" height="3.5" fill="#0010ff"/>
<rect x="888" y="197" width="3.5" height="3.5" fill="#0020ff"/>
<rect x="891" y="197" width="3.5" height="3.5" fill="#0040ff"/>
<rect x="894" y="197" width="3.5" height="3.5" fill="#0050ff"/>
<rect x="897" y="197" width="3.5" height="3.5" fill="#0060ff"/>
<rect x="900" y="197" width="3.5" height="3.5" fill="#0070ff"/>
<rect x="903" y="197" width="3.5" height="3.5" fill="#0080ff"/>
<rect x="906" y="197" width="3.5" height="3.5" fill="#009fff"/>
<rect x="909" y="197" width="3.5" height="3.5" fill="#00bfff"/>
<rect x="912" y="197" width="3.5" height="3.5" fill="#00cfff"/>
<rect x="915" y="197" width="3.5" height="3.5" fill="#00efff"/>
<rect x="918" y="197" width="3.5" height="3.5" fill="#00ffff"/>
<rect x="921" y="197" width="6.5" height="3.5" fill="#20ffdf"/>
<rect x="927" y="197" width="27.5" height="3.5" fill="#30ffcf"/>
<rect x="954" y="197" width="27.5" height="3.5" fill="#20ffdf"/>
<rect x="981" y="197" width="3.5" height="3.5" fill="#10ffef"/>
<rect x="984" y="197" width="3.5" height="3.5" fill="#00ffff"/>
<rect x="987" y="197" width="3.5" height="3.5" fill="#00efff"/>
<rect x="990" y="197" width="3.5" height="3.5" fill="#00cfff"/>
<rect x="993" y="197" width="3.5" height="3.5" fill="#00afff"/>
<rect x="996" y="197" width="3.5" height="3.5" fill="#008fff"/>
<rect x="999" y="197" width="3.5" height="3.5" fill="#0070ff"/>
<rect x="1002" y="197" width="3.5" height="3.5" fill="#0040ff"/>
<rect x="1005" y="197" width="3.5" height="3.5" fill="#0030ff"/>
<rect x="1008" y="197" width="3.5" height="3.5" fill="#0010ff"/>
<rect x="1011" y="197" width="3.5" height="3.5" fill="#0000ef"/>
<rect x="1014" y="197" width="3.5" height="3.5" fill="#0000df"/>
<rect x="1017" y="197" width="3.5" height="3.5" fill="#0000cf"/>
<rect x="1020" y="197" width="3.5" height="3.5" fill="#0000bf"/>
<rect x="1023" y="197" width="9.5" height="3.5" fill="#0000af"/>
<rect x="1032" y="197" width="9.5" height="3.5" fill="#00009f"/>
<rect x="1041" y="197" width="45.5" height="3.5" fill="#00008f"/>
<rect x="822" y="200" width="30.5" height="3.5" fill="#00008f"/>
<rect x="852" y="200" width="9.5" height="3.5" fill="#00009f"/>
<rect x="861" y="200" width="9.5" height="3.5" fill="#0000af"/>
<rect x="870" y="200" width="3.5" height="3.5" fill="#0000bf"/>
<rect x="873" y="200" width="3.5" height="3.5" fill="#0000cf"/>
<rect x="876" y="200" width="3.5" height="3.5" fill="#0000df"/>
<rect x="879" y="200" width="3.5" height="3.5" fill="#0000ef"/>
<rect x="882" y="200" width="3.5" height="3.5" fill="#0000ff"/>
<rect x="885" y="200" width="3.5" height="3.5" fill="#0010ff"/>
<rect x="888" y="200" width="3.5" height="3.5" fill="#0020ff"/>
<rect x="891" y="200" width="3.5" height="3.5" fill="#0030ff"/>
<rect x="894" y="200" width="3.5" height="3.5" fill="#0040ff"/>
<rect x="897" y="200" width="3.5" height="3.5" fill="#0050ff"/>
<rect x="900" y="200" width="3.5" height="3.5" fill="#0060ff"/>
<rect x="903" y="200" width="3.5" height="3.5" fill="#0070ff"/>
<rect x="906" y="200" width="3.5" height="3.5" fill="#0080ff"/>
<rect x="909" y="200" width="3.5" height="3.5" fill="#008fff"/>
<rect x="912" y="200" width="3.5" height="3.5" fill="#009fff"/>
<rect x="915" y="200" width="3.5" height="3.5" fill="#00bfff"/>
<rect x="918" y="200" width="3.5" height="3.5" fill="#00cfff"/>
<rect x="921" y="200" width="3.5" height="3.5" fill="#00dfff"/>
<rect x="924" y="200" width="3.5" height="3.5" fill="#00efff"/>
<rect x="927" y="200" width="30.5" height="3.5" fill="#00ffff"/>
<rect x="957" y="200" width="6.5" height="3.5" fill="#00efff"/>
<rect x="963" y="200" width="12.5" height="3.5" fill="#00ffff"/>
<rect x="975" y="200" width="9.5" height="3.5" fill="#10ffef"/>
<rect x="984" y="200" width="3.5" height="3.5" fill="#00ffff"/>
<rect x="987" y="200" width="3.5" height="3.5" fill="#00efff"/>
<rect x="990" y="200" width="3.5" height="3.5" fill="#00cfff"/>
<rect x="993" y="200" width="3.5" height="3.5" fill="#00afff"/>
<rect x="996" y="200" width="3.5" height="3.5" fill="#0080ff"/>
<rect x="999" y="200" width="3.5" height="3.5" fill="#0060ff"/>
<rect x="1002" y="200" width="3.5" height="3.5" fill="#0040ff"/>
<rect x="1005" y="200" width="3.5" height="3.5" fill="#0020ff"/>
<rect x="1008" y="200" width="3.5" height="3.5" fill="#0010ff"/>
<rect x="1011" y="200" width="3.5" height="3.5" fill="#0000ef"/>
<rect x="1014" y="200" width="3.5" height="3.5" fill="#0000df"/>
<rect x="1017" y="200" width="3.5" height="3.5" fill="#0000cf"/>
<rect x="1020" y="200" width="3.5" height="3.5" fill="#0000bf"/>
<rect x="1023" y="200" width="9.5" height="3.5" fill="#0000af"/>
<rect x="1032" y="200" width="9.5" height="3.5" fill="#00009f"/>
<rect x="1041" y="200" width="45.5" height="3.5" fill="#00008f"/>
<rect x="822" y="203" width="30.5" height="3.5" fill="#00008f"/>
<rect x="852" y="203" width="12.5" height="3.5" fill="#00009f"/>
<rect x="864" y="203" width="6.5" height="3.5" fill="#0000af"/>
<rect x="870" y="203" width="3.5" height="3.5" fill="#0000bf"/>
<rect x="873" y="203" width="3.5" height="3.5" fill="#0000cf"/>
<rect x="876" y="203" width="6.5" height="3.5" fill="#0000df"/>
<rect x="882" y="203" width="3.5" height="3.5" fill="#0000ef"/>
<rect x="885" y="203" width="3.5" height="3.5" fill="#0000ff"/>
<rect x="888" y="203" width="3.5" height="3.5" fill="#0010ff"/>
<rect x="891" y="203" width="3.5" height="3.5" fill="#0020ff"/>
<rect x="894" y="203" width="3.5" height="3.5" fill="#0030ff"/>
<rect x="897" y="203" width="6.5" height="3.5" fill="#0040ff"/>
<rect x="903" y="203" width="3.5" height="3.5" fill="#0050ff"/>
<rect x="906" y="203" width="3.5" height="3.5" fill="#0060ff"/>
<rect x="909" y="203" width="3.5" height="3.5" fill="#0070ff"/>
<rect x="912" y="203" width="3.5" height="3.5" fill="#0080ff"/>
<rect x="915" y="203" width="3.5" height="3.5" fill="#008fff"/>
<rect x="918" y="203" width="3.5" height="3.5" fill="#009fff"/>
<rect x="921" y="203" width="3.5" height="3.5" fill="#00afff"/>
<rect x="924" y="203" width="3.5" height="3.5" fill="#00bfff"/>
<rect x="927" y="203" width="6.5" height="3.5" fill="#00cfff"/>
<rect x="933" y="203" width="15.5" height="3.5" fill="#00dfff"/>
<rect x="948" y="203" width="21.5" height="3.5" fill="#00cfff"/>
<rect x="969" y="203" width="3.5" height="3.5" fill="#00dfff"/>
<rect x="972" y="203" width="12.5" height="3.5" fill="#00efff"/>
<rect x="984" y="203" width="3.5" height="3.5" fill="#00dfff"/>
<rect x="987" y="203" width="3.5" height="3.5" fill="#00cfff"/>
<rect x="990" y="203" width="3.5" height="3.5" fill="#00bfff"/>
<rect x="993" y="203" width="3.5" height="3.5" fill="#009fff"/>
<rect x="996" y="203" width="3.5" height="3.5" fill="#0080ff"/>
<rect x="999" y="203" width="3.5" height="3.5" fill="#0060ff"/>
<rect x="1002" y="203" width="3.5" height="3.5" fill="#0040ff"/>
<rect x="1005" y="203" width="3.5" height="3.5" fill="#0020ff"/>
<rect x="1008" y="203" width="3.5" height="3.5" fill="#0000ff"/>
<rect x="1011" y="203" width="3.5" height="3.5" fill="#0000ef"/>
<rect x="1014" y="203" width="3.5" height="3.5" fill="#0000df"/>
<rect x="1017" y="203" width="3.5" height="3.5" fill="#0000cf"/>
<rect x="1020" y="203" width="3.5" height="3.5" fill="#0000bf"/>
<rect x="1023" y="203" width="6.5" height="3.5" fill="#0000af"/>
<rect x="1029" y="203" width="9.5" height="3.5" fill="#00009f"/>
<rect x="1038" y="203" width="48.5" height="3.5" fill="#00008f"/>
<rect x="822" y="206" width="33.5" height="3.5" fill="#00008f"/>
<rect x="855" y="206" width="9.5" height="3.5" fill="#00009f"/>
<rect x="864" y="206" width="9.5" height="3.5" fill="#0000af"/>
<rect x="873" y="206" width="3.5" height="3.5" fill="#0000bf"/>
<rect x="876" y="206" width="3.5" height="3.5" fill="#0000cf"/>
<rect x="879" y="206" width="3.5" height="3.5" fill="#0000df"/>
<rect x="882" y="206" width="3.5" height="3.5" fill="#0000ef"/>
<rect x="885" y="206" width="3.5" height="3.5" fill="#0000ff"/>
<rect x="888" y="206" width="6.5" height="3.5" fill="#0010ff"/>
<rect x="894" y="206" width="3.5" height="3.5" fill="#0020ff"/>
<rect x="897" y="206" width="6.5" height="3.5" fill="#0030ff"/>
<rect x="903" y="206" width="3.5" height="3.5" fill="#0040ff"/>
<rect x="906" y="206" width="3.5" height="3.5" fill="#0050ff"/>
<rect x="909" y="206" width="3.5" height="3.5" fill="#0060ff"/>
<rect x="912" y="206" width="6.5" height="3.5" fill="#0070ff"/>
<rect x="918" y="206" width="3.5" height="3.5" fill="#0080ff"/>
<rect x="921" y="206" width="3.5" height="3.5" fill="#008fff"/>
<rect x="924" y="206" width="3.5" height="3.5" fill="#009fff"/>
<rect x="927" y="206" width="6.5" height="3.5" fill="#00afff"/>
<rect x="933" y="206" width="24.5" height="3.5" fill="#00bfff"/>
<rect x="957" y="206" width="12.5" height="3.5" fill="#00afff"/>
<rect x="969" y="206" width="6.5" height="3.5" fill="#00bfff"/>
<rect x="975" y="206" width="12.5" height="3.5" fill="#00cfff"/>
<rect x="987" y="206" width="3.5" height="3.5" fill="#00bfff"/>
<rect x="990" y="206" width="3.5" height="3.5" fill="#009fff"/>
<rect x="993" y="206" width="3.5" height="3.5" fill="#0080ff"/>
<rect x="996" y="206" width="3.5" height="3.5" fill="#0060ff"/>
<rect x="999" y="206" width="3.5" height="3.5" fill="#0050ff"/>
<rect x="1002" y="206" width="3.5" height="3.5" fill="#0030ff"/>
<rect x="1005" y="206" width="3.5" height="3.5" fill="#0010ff"/>
<rect x="1008" y="206" width="3.5" height="3.5" fill="#0000ff"/>
<rect x="1011" y="206" width="3.5" height="3.5" fill="#0000df"/>
<rect x="1014" y="206" width="3.5" height="3.5" fill="#0000cf"/>
<rect x="1017" y="206" width="3.5" height="3.5" fill="#0000bf"/>
<rect x="1020" y="206" width="9.5" height="3.5" fill="#0000af"/>
<rect x="1029" y="206" width="9.5" height="3.5" fill="#00009f"/>
<rect x="1038" y="206" width="48.5" height="3.5" fill="#00008f"/>
<rect x="822" y="209" width="33.5" height="3.5" fill="#00008f"/>
<rect x="855" y="209" width="9.5" height="3.5" fill="#00009f"/>
<rect x="864" y="209" width="9.5" height="3.5" fill="#0000af"/>
<rect x="873" y="209" width="3.5" height="3.5" fill="#0000bf"/>
<rect x="876" y="209" width="3.5" height="3.5" fill="#0000cf"/>
<rect x="879" y="209" width="6.5" height="3.5" fill="#0000df"/>
<rect x="885" y="209" width="3.5" height="3.5" fill="#0000ef"/>
<rect x="888" y="209" width="3.5" height="3.5" fill="#0000ff"/>
<rect x="891" y="209" width="6.5" height="3.5" fill="#0010ff"/>
<rect x="897" y="209" width="3.5" height="3.5" fill="#0020ff"/>
<rect x="900" y="209" width="3.5" height="3.5" fill="#0030ff"/>
<rect x="903" y="209" width="6.5" height="3.5" fill="#0040ff"/>
<rect x="909" y="209" width="3.5" height="3.5" fill="#0050ff"/>
<rect x="912" y="209" width="6.5" height="3.5" fill="#0060ff"/>
<rect x="918" y="209" width="3.5" height="3.5" fill="#0070ff"/>
<rect x="921" y="209" width="6.5" height="3.5" fill="#0080ff"/>
<rect x="927" y="209" width="6.5" height="3.5" fill="#008fff"/>
<rect x="933" y="209" width="24.5" height="3.5" fill="#009fff"/>
<rect x="957" y="209" width="12.5" height="3.5" fill="#008fff"/>
<rect x="969" y="209" width="6.5" height="3.5" fill="#009fff"/>
<rect x="975" y="209" width="9.5" height="3.5" fill="#00afff"/>
<rect x="984" y="209" width="3.5" height="3.5" fill="#009fff"/>
<rect x="987" y="209" width="3.5" height="3.5" fill="#008fff"/>
<rect x="990" y="209" width="3.5" height="3.5" fill="#0080ff"/>
<rect x="993" y="209" width="3.5" height="3.5" fill="#0070ff"/>
<rect x="996" y="209" width="3.5" height="3.5" fill="#0050ff"/>
<rect x="999" y="209" width="3.5" height="3.5" fill="#0030ff"/>
<rect x="1002" y="209" width="3.5" height="3.5" fill="#0020ff"/>
<rect x="1005" y="209" width="3.5" height="3.5" fill="#0000ff"/>
<rect x="1008" y="209" width="3.5" height="3.5" fill="#0000ef"/>
<rect x="1011" y="209" width="3.5" height="3.5" fill="#0000df"/>
<rect x="1014" y="209" width="3.5" height="3.5" fill="#0000cf"/>
<rect x="1017" y="209" width="3.5" height="3.5" fill="#0000bf"/>
<rect x="1020" y="209" width="6.5" height="3.5" fill="#0000af"/>
<rect x="1026" y="209" width="12.5" height="3.5" fill="#00009f"/>
<rect x="1038" y="209" width="48.5" height="3.5" fill="#00008f"/>
<rect x="822" y="212" width="36.5" height="3.5" fill="#00008f"/>
<rect x="858" y="212" width="9.5" height="3.5" fill="#00009f"/>
<rect x="867" y="212" width="9.5" height="3.5" fill="#0000af"/>
<rect x="876" y="212" width="3.5" height="3.5" fill="#0000bf"/>
<rect x="879" y="212" width="3.5" height="3.5" fill="#0000cf"/>
<rect x="882" y="212" width="3.5" height="3.5" fill="#0000df"/>
<rect x="885" y="212" width="6.5" height="3.5" fill="#0000ef"/>
<rect x="891" y="212" width="3.5" height="3.5" fill="#0000ff"/>
<rect x="894" y="212" width="3.5" height="3.5" fill="#0010ff"/>
<rect x="897" y="212" width="6.5" height="3.5" fill="#0020ff"/>
<rect x="903" y="212" width="3.5" height="3.5" fill="#0030ff"/>
<rect x="906" y="212" width="6.5" height="3.5" fill="#0040ff"/>
<rect x="912" y="212" width="3.5" height="3.5" fill="#0050ff"/>
<rect x="915" y="212" width="6.5" height="3.5" fill="#0060ff"/>
<rect x="921" y="212" width="6.5" height="3.5" fill="#0070ff"/>
<rect x="927" y="212" width="30.5" height="3.5" fill="#0080ff"/>
<rect x="957" y="212" width="15.5" height="3.5" fill="#0070ff"/>
<rect x="972" y="212" width="15.5" height="3.5" fill="#0080ff"/>
<rect x="987" y="212" width="3.5" height="3.5" fill="#0070ff"/>
<rect x="990" y="212" width="3.5" height="3.5" fill="#0060ff"/>
<rect x="993" y="212" width="3.5" height="3.5" fill="#0050ff"/>
<rect x="996" y="212" width="3.5" height="3.5" fill="#0040ff"/>
<rect x="999" y="212" width="3.5" height="3.5" fill="#0020ff"/>
<rect x="1002" y="212" width="3.5" height="3.5" fill="#0010ff"/>
<rect x="1005" y="212" width="3.5" height="3.5" fill="#0000ef"/>
<rect x="1008" y="212" width="3.5" height="3.5" fill="#0000df"/>
<rect x="1011" y="212" width="3.5" height="3.5" fill="#0000cf"/>
<rect x="1014" y="212" width="3.5" height="3.5" fill="#0000bf"/>
<rect x="1017" y="212" width="9.5" height="3.5" fill="#0000af"/>
<rect x="1026" y="212" width="9.5" height="3.5" fill="#00009f"/>
<rect x="1035" y="212" width="51.5" height="3.5" fill="#00008f"/>
<rect x="822" y="215" width="36.5" height="3.5" fill="#00008f"/>
<rect x="858" y="215" width="9.5" height="3.5" fill="#00009f"/>
<rect x="867" y="215" width="9.5" height="3.5" fill="#0000af"/>
<rect x="876" y="215" width="6.5" height="3.5" fill="#0000bf"/>
<rect x="882" y="215" width="3.5" height="3.5" fill="#0000cf"/>
<rect x="885" y="215" width="3.5" height="3.5" fill="#0000df"/>
<rect x="888" y="215" width="3.5" height="3.5" fill="#0000ef"/>
<rect x="891" y="215" width="6.5" height="3.5" fill="#0000ff"/>
<rect x="897" y="215" width="3.5" height="3.5" fill="#0010ff"/>
<rect x="900" y="215" width="6.5" height="3.5" fill="#0020ff"/>
<rect x="906" y="215" width="3.5" height="3.5" fill="#0030ff"/>
<rect x="909" y="215" width="6.5" height="3.5" fill="#0040ff"/>
<rect x="915" y="215" width="6.5" height="3.5" fill="#0050ff"/>
<rect x="921" y="215" width="12.5" height="3.5" fill="#0060ff"/>
<rect x="933" y="215" width="18.5" height="3.5" fill="#0070ff"/>
<rect x="951" y="215" width="9.5" height="3.5" fill="#0060ff"/>
<rect x="960" y="215" width="9.5" height="3.5" fill="#0050ff"/>
<rect x="969" y="215" width="18.5" height="3.5" fill="#0060ff"/>
<rect x="987" y="215" width="6.5" height="3.5" fill="#0050ff"/>
<rect x="993" y="215" width="3.5" height="3.5" fill="#0040ff"/>
<rect x="996" y="215" width="3.5" height="3.5" fill="#0030ff"/>
<rect x="999" y="215" width="3.5" height="3.5" fill="#0010ff"/>
<rect x="1002" y="215" width="3.5" height="3.5" fill="#0000ff"/>
<rect x="1005" y="215" width="3.5" height="3.5" fill="#0000ef"/>
<rect x="1008" y="215" width="3.5" height="3.5" fill="#0000df"/>
<rect x="1011" y="215" width="3.5" height="3.5" fill="#0000cf"/>
<rect x="1014" y="215" width="3.5" height="3.5" fill="#0000bf"/>
<rect x="1017" y="215" width="6.5" height="3.5" fill="#0000af"/>
<rect x="1023" y="215" width="12.5" height="3.5" fill="#00009f"/>
<rect x="1035" y="215" width="51.5" height="3.5" fill="#00008f"/>
<rect x="822" y="218" width="39.5" height="3.5" fill="#00008f"/>
<rect x="861" y="218" width="9.5" height="3.5" fill="#00009f"/>
<rect x="870" y="218" width="9.5" height="3.5" fill="#0000af"/>
<rect x="879" y="218" width="3.5" height="3.5" fill="#0000bf"/>
<rect x="882" y="218" width="6.5" height="3.5" fill="#0000cf"/>
<rect x="888" y="218" width="3.5" height="3.5" fill="#0000df"/>
<rect x="891" y="218" width="3.5" height="3.5" fill="#0000ef"/>
<rect x="894" y="218" width="3.5" height="3.5" fill="#0000ff"/>
<rect x="897" y="218" width="6.5" height="3.5" fill="#0010ff"/>
<rect x="903" y="218" width="6.5" height="3.5" fill="#0020ff"/>
<rect x="909" y="218" width="3.5" height="3.5" fill="#0030ff"/>
<rect x="912" y="218" width="9.5" height="3.5" fill="#0040ff"/>
<rect x="921" y="218" width="39.5" height="3.5" fill="#0050ff"/>
<rect x="960" y="218" width="15.5" height="3.5" fill="#0040ff"/>
<rect x="975" y="218" width="12.5" height="3.5" fill="#0050ff"/>
<rect x="987" y="218" width="9.5" height="3.5" fill="#0040ff"/>
<rect x="996" y="218" width="3.5" height="3.5" fill="#0030ff"/>
<rect x="999" y="218" width="3.5" height="3.5" fill="#0020ff"/>
<rect x="1002" y="218" width="3.5" height="3.5" fill="#0000ff"/>
<rect x="1005" y="218" width="3.5" height="3.5" fill="#0000ef"/>
<rect x="1008" y="218" width="3.5" height="3.5" fill="#0000df"/>
<rect x="1011" y="218" width="3.5" height="3.5" fill="#0000cf"/>
<rect x="1014" y="218" width="3.5" height="3.5" fill="#0000bf"/>
<rect x="1017" y="218" width="6.5" height="3.5" fill="#0000af"/>
<rect x="1023" y="218" width="9.5" height="3.5" fill="#00009f"/>
<rect x="1032" y="218" width="54.5" height="3.5" fill="#00008f"/>
<rect x="822" y="221" width="39.5" height="3.5" fill="#00008f"/>
<rect x="861" y="221" width="12.5" height="3.5" fill="#00009f"/>
<rect x="873" y="221" width="9.5" height="3.5" fill="#0000af"/>
<rect x="882" y="221" width="3.5" height="3.5" fill="#0000bf"/>
<rect x="885" y="221" width="3.5" height="3.5" fill="#0000cf"/>
<rect x="888" y="221" width="6.5" height="3.5" fill="#0000df"/>
<rect x="894" y="221" width="3.5" height="3.5" fill="#0000ef"/>
<rect x="897" y="221" width="6.5" height="3.5" fill="#0000ff"/>
<rect x="903" y="221" width="3.5" height="3.5" fill="#0010ff"/>
<rect x="906" y="221" width="6.5" height="3.5" fill="#0020ff"/>
<rect x="912" y="221" width="9.5" height="3.5" fill="#0030ff"/>
<rect x="921" y="221" width="42.5" height="3.5" fill="#0040ff"/>
<rect x="963" y="221" width="15.5" height="3.5" fill="#0030ff"/>
<rect x="978" y="221" width="18.5" height="3.5" fill="#0040ff"/>
<rect x="996" y="221" width="3.5" height="3.5" fill="#0030ff"/>
<rect x="999" y="221" width="3.5" height="3.5" fill="#0020ff"/>
<rect x="1002" y="221" width="3.5" height="3.5" fill="#0010ff"/>
<rect x="1005" y="221" width="3.5" height="3.5" fill="#0000ff"/>
<rect x="1008" y="221" width="3.5" height="3.5" fill="#0000df"/>
<rect x="1011" y="221" width="3.5" height="3.5" fill="#0000cf"/>
<rect x="1014" y="221" width="3.5" height="3.5" fill="#0000bf"/>
<rect x="1017" y="221" width="6.5" height="3.5" fill="#0000af"/>
<rect x="1023" y="221" width="9.5" height="3.5" fill="#00009f"/>
<rect x="1032" y="221" width="54.5" height="3.5" fill="#00008f"/>
<rect x="822" y="224" width="42.5" height="3.5" fill="#00008f"/>
<rect x="864" y="224" width="9.5" height="3.5" fill="#00009f"/>
<rect x="873" y="224" width="12.5" height="3.5" fill="#0000af"/>
<rect x="885" y="224" width="3.5" height="3.5" fill="#0000bf"/>
<rect x="888" y="224" width="3.5" height="3.5" fill="#0000cf"/>
<rect x="891" y="224" width="6.5" height="3.5" fill="#0000df"/>
<rect x="897" y="224" width="3.5" height="3.5" fill="#0000ef"/>
<rect x="900" y="224" width="6.5" height="3.5" fill="#0000ff"/>
<rect x="906" y="224" width="6.5" height="3.5" fill="#0010ff"/>
<rect x="912" y="224" width="9.5" height="3.5" fill="#0020ff"/>
<rect x="921" y="224" width="48.5" height="3.5" fill="#0030ff"/>
<rect x="969" y="224" width="6.5" height="3.5" fill="#0020ff"/>
<rect x="975" y="224" width="9.5" height="3.5" fill="#0030ff"/>
<rect x="984" y="224" width="15.5" height="3.5" fill="#0040ff"/>
<rect x="999" y="224" width="3.5" height="3.5" fill="#0030ff"/>
<rect x="1002" y="224" width="3.5" height="3.5" fill="#0010ff"/>
<rect x="1005" y="224" width="3.5" height="3.5" fill="#0000ff"/>
<rect x="1008" y="224" width="3.5" height="3.5" fill="#0000ef"/>
<rect x="1011" y="224" width="3.5" height="3.5" fill="#0000cf"/>
<rect x="1014" y="224" width="3.5" height="3.5" fill="#0000bf"/>
<rect x="1017" y="224" width="6.5" height="3.5" fill="#0000af"/>
<rect x="1023" y="224" width="6.5" height="3.5" fill="#00009f"/>
<rect x="1029" y="224" width="57.5" height="3.5" fill="#00008f"/>
<rect x="822" y="227" width="45.5" height="3.5" fill="#00008f"/>
<rect x="867" y="227" width="9.5" height="3.5" fill="#00009f"/>
<rect x="876" y="227" width="12.5" height="3.5" fill="#0000af"/>
<rect x="888" y="227" width="3.5" height="3.5" fill="#0000bf"/>
<rect x="891" y="227" width="6.5" height="3.5" fill="#0000cf"/>
<rect x="897" y="227" width="3.5" height="3.5" fill="#0000df"/>
<rect x="900" y="227" width="6.5" height="3.5" fill="#0000ef"/>
<rect x="906" y="227" width="6.5" height="3.5" fill="#0000ff"/>
<rect x="912" y="227" width="9.5" height="3.5" fill="#0010ff"/>
<rect x="921" y="227" width="15.5" height="3.5" fill="#0020ff"/>
<rect x="936" y="227" width="18.5" height="3.5" fill="#0030ff"/>
<rect x="954" y="227" width="27.5" height="3.5" fill="#0020ff"/>
<rect x="981" y="227" width="6.5" height="3.5" fill="#0030ff"/>
<rect x="987" y="227" width="9.5" height="3.5" fill="#0040ff"/>
<rect x="996" y="227" width="3.5" height="3.5" fill="#0030ff"/>
<rect x="999" y="227" width="3.5" height="3.5" fill="#0020ff"/>
<rect x="1002" y="227" width="3.5" height="3.5" fill="#0010ff"/>
<rect x="1005" y="227" width="3.5" height="3.5" fill="#0000ff"/>
<rect x="1008" y="227" width="3.5" height="3.5" fill="#0000df"/>
<rect x="1011" y="227" width="3.5" height="3.5" fill="#0000cf"/>
<rect x="1014" y="227" width="3.5" height="3.5" fill="#0000bf"/>
<rect x="1017" y="227" width="3.5" height="3.5" fill="#0000af"/>
<rect x="1020" y="227" width="6.5" height="3.5" fill="#00009f"/>
<rect x="1026" y="227" width="60.5" height="3.5" fill="#00008f"/>
<rect x="822" y="230" width="45.5" height="3.5" fill="#00008f"/>
<rect x="867" y="230" width="12.5" height="3.5" fill="#00009f"/>
<rect x="879" y="230" width="12.5" height="3.5" fill="#0000af"/>
<rect x="891" y="230" width="3.5" height="3.5" fill="#0000bf"/>
<rect x="894" y="230" width="6.5" height="3.5" fill="#0000cf"/>
<rect x="900" y="230" width="6.5" height="3.5" fill="#0000df"/>
<rect x="906" y="230" width="6.5" height="3.5" fill="#0000ef"/>
<rect x="912" y="230" width="6.5" height="3.5" fill="#0000ff"/>
<rect x="918" y="230" width="12.5" height="3.5" fill="#0010ff"/>
<rect x="930" y="230" width="30.5" height="3.5" fill="#0020ff"/>
<rect x="960" y="230" width="24.5" height="3.5" fill="#0010ff"/>
<rect x="984" y="230" width="12.5" height="3.5" fill="#0020ff"/>
<rect x="996" y="230" width="6.5" height="3.5" fill="#0010ff"/>
<rect x="1002" y="230" width="3.5" height="3.5" fill="#0000ff"/>
<rect x="1005" y="230" width="3.5" height="3.5" fill="#0000ef"/>
<rect x="1008" y="230" width="3.5" height="3.5" fill="#0000cf"/>
<rect x="1011" y="230" width="3.5" height="3.5" fill="#0000bf"/>
<rect x="1014" y="230" width="6.5" height="3.5" fill="#0000af"/>
<rect x="1020" y="230" width="6.5" height="3.5" fill="#00009f"/>
<rect x="1026" y="230" width="60.5" height="3.5" fill="#00008f"/>
<rect x="822" y="233" width="48.5" height="3.5" fill="#00008f"/>
<rect x="870" y="233" width="12.5" height="3.5" fill="#00009f"/>
<rect x="882" y="233" width="12.5" height="3.5" fill="#0000af"/>
<rect x="894" y="233" width="3.5" height="3.5" fill="#0000bf"/>
<rect x="897" y="233" width="6.5" height="3.5" fill="#0000cf"/>
<rect x="903" y="233" width="6.5" height="3.5" fill="#0000df"/>
<rect x="909" y="233" width="9.5" height="3.5" fill="#0000ef"/>
<rect x="918" y="233" width="9.5" height="3.5" fill="#0000ff"/>
<rect x="927" y="233" width="39.5" height="3.5" fill="#0010ff"/>
<rect x="966" y="233" width="30.5" height="3.5" fill="#0000ff"/>
<rect x="996" y="233" width="6.5" height="3.5" fill="#0000ef"/>
<rect x="1002" y="233" width="3.5" height="3.5" fill="#0000df"/>
<rect x="1005" y="233" width="3.5" height="3.5" fill="#0000cf"/>
<rect x="1008" y="233" width="6.5" height="3.5" fill="#0000bf"/>
<rect x="1014" y="233" width="3.5" height="3.5" fill="#0000af"/>
<rect x="1017" y="233" width="6.5" height="3.5" fill="#00009f"/>
<rect x="1023" y="233" width="63.5" height="3.5" fill="#00008f"/>
<rect x="822" y="236" width="51.5" height="3.5" fill="#00008f"/>
<rect x="873" y="236" width="12.5" height="3.5" fill="#00009f"/>
<rect x="885" y="236" width="12.5" height="3.5" fill="#0000af"/>
<rect x="897" y="236" width="6.5" height="3.5" fill="#0000bf"/>
<rect x="903" y="236" width="6.5" height="3.5" fill="#0000cf"/>
<rect x="909" y="236" width="6.5" height="3.5" fill="#0000df"/>
<rect x="915" y="236" width="9.5" height="3.5" fill="#0000ef"/>
<rect x="924" y="236" width="42.5" height="3.5" fill="#0000ff"/>
<rect x="966" y="236" width="12.5" height="3.5" fill="#0000ef"/>
<rect x="978" y="236" width="18.5" height="3.5" fill="#0000df"/>
<rect x="996" y="236" width="6.5" height="3.5" fill="#0000cf"/>
<rect x="1002" y="236" width="6.5" height="3.5" fill="#0000bf"/>
<rect x="1008" y="236" width="6.5" height="3.5" fill="#0000af"/>
<rect x="1014" y="236" width="6.5" height="3.5" fill="#00009f"/>
<rect x="1020" y="236" width="66.5" height="3.5" fill="#00008f"/>
<rect x="822" y="239" width="54.5" height="3.5" fill="#00008f"/>
<rect x="876" y="239" width="15.5" height="3.5" fill="#00009f"/>
<rect x="891" y="239" width="12.5" height="3.5" fill="#0000af"/>
<rect x="903" y="239" width="6.5" height="3.5" fill="#0000bf"/>
<rect x="909" y="239" width="6.5" height="3.5" fill="#0000cf"/>
<rect x="915" y="239" width="9.5" height="3.5" fill="#0000df"/>
<rect x="924" y="239" width="42.5" height="3.5" fill="#0000ef"/>
<rect x="966" y="239" width="12.5" height="3.5" fill="#0000df"/>
<rect x="978" y="239" width="9.5" height="3.5" fill="#0000cf"/>
<rect x="987" y="239" width="12.5" height="3.5" fill="#0000bf"/>
<rect x="999" y="239" width="9.5" height="3.5" fill="#0000af"/>
<rect x="1008" y="239" width="9.5" height="3.5" fill="#00009f"/>
<rect x="1017" y="239" width="69.5" height="3.5" fill="#00008f"/>
<rect x="822" y="242" width="57.5" height="3.5" fill="#00008f"/>
<rect x="879" y="242" width="15.5" height="3.5" fill="#00009f"/>
<rect x="894" y="242" width="12.5" height="3.5" fill="#0000af"/>
<rect x="906" y="242" width="9.5" height="3.5" fill="#0000bf"/>
<rect x="915" y="242" width="9.5" height="3.5" fill="#0000cf"/>
<rect x="924" y="242" width="21.5" height="3.5" fill="#0000df"/>
<rect x="945" y="242" width="3.5" height="3.5" fill="#0000ef"/>
<rect x="948" y="242" width="21.5" height="3.5" fill="#0000df"/>
<rect x="969" y="242" width="9.5" height="3.5" fill="#0000cf"/>
<rect x="978" y="242" width="6.5" height="3.5" fill="#0000bf"/>
<rect x="984" y="242" width="18.5" height="3.5" fill="#0000af"/>
<rect x="1002" y="242" width="12.5" height="3.5" fill="#00009f"/>
<rect x="1014" y="242" width="72.5" height="3.5" fill="#00008f"/>
<rect x="822" y="245" width="60.5" height="3.5" fill="#00008f"/>
<rect x="882" y="245" width="18.5" height="3.5" fill="#00009f"/>
<rect x="900" y="245" width="15.5" height="3.5" fill="#0000af"/>
<rect x="915" y="245" width="9.5" height="3.5" fill="#0000bf"/>
<rect x="924" y="245" width="21.5" height="3.5" fill="#0000cf"/>
<rect x="945" y="245" width="3.5" height="3.5" fill="#0000df"/>
<rect x="948" y="245" width="21.5" height="3.5" fill="#0000cf"/>
<rect x="969" y="245" width="9.5" height="3.5" fill="#0000bf"/>
<rect x="978" y="245" width="15.5" height="3.5" fill="#0000af"/>
<rect x="993" y="245" width="15.5" height="3.5" fill="#00009f"/>
<rect x="1008" y="245" width="78.5" height="3.5" fill="#00008f"/>
<rect x="822" y="248" width="66.5" height="3.5" fill="#00008f"/>
<rect x="888" y="248" width="15.5" height="3.5" fill="#00009f"/>
<rect x="903" y="248" width="21.5" height="3.5" fill="#0000af"/>
<rect x="924" y="248" width="18.5" height="3.5" fill="#0000bf"/>
<rect x="942" y="248" width="6.5" height="3.5" fill="#0000cf"/>
<rect x="948" y="248" width="21.5" height="3.5" fill="#0000bf"/>
<rect x="969" y="248" width="18.5" height="3.5" fill="#0000af"/>
<rect x="987" y="248" width="18.5" height="3.5" fill="#00009f"/>
<rect x="1005" y="248" width="81.5" height="3.5" fill="#00008f"/>
<rect x="822" y="251" width="69.5" height="3.5" fill="#00008f"/>
<rect x="891" y="251" width="21.5" height="3.5" fill="#00009f"/>
<rect x="912" y="251" width="30.5" height="3.5" fill="#0000af"/>
<rect x="942" y="251" width="9.5" height="3.5" fill="#0000bf"/>
<rect x="951" y="251" width="30.5" height="3.5" fill="#0000af"/>
<rect x="981" y="251" width="18.5" height="3.5" fill="#00009f"/>
<rect x="999" y="251" width="87.5" height="3.5" fill="#00008f"/>
<rect x="822" y="254" width="75.5" height="3.5" fill="#00008f"/>
<rect x="897" y="254" width="21.5" height="3.5" fill="#00009f"/>
<rect x="918" y="254" width="54.5" height="3.5" fill="#0000af"/>
<rect x="972" y="254" width="24.5" height="3.5" fill="#00009f"/>
<rect x="996" y="254" width="90.5" height="3.5" fill="#00008f"/>
<rect x="822" y="257" width="81.5" height="3.5" fill="#00008f"/>
<rect x="903" y="257" width="30.5" height="3.5" fill="#00009f"/>
<rect x="933" y="257" width="27.5" height="3.5" fill="#0000af"/>
<rect x="960" y="257" width="30.5" height="3.5" fill="#00009f"/>
<rect x="990" y="257" width="96.5" height="3.5" fill="#00008f"/>
<rect x="822" y="260" width="87.5" height="3.5" fill="#00008f"/>
<rect x="909" y="260" width="72.5" height="3.5" fill="#00009f"/>
<rect x="981" y="260" width="105.5" height="3.5" fill="#00008f"/>
<rect x="822" y="263" width="99.5" height="3.5" fill="#00008f"/>
<rect x="921" y="263" width="51.5" height="3.5" fill="#00009f"/>
<rect x="972" y="263" width="114.5" height="3.5" fill="#00008f"/>
<rect x="822" y="266" width="114.5" height="3.5" fill="#00008f"/>
<rect x="936" y="266" width="18.5" height="3.5" fill="#00009f"/>
<rect x="954" y="266" width="132.5" height="3.5" fill="#00008f"/>
<rect x="822" y="269" width="264.5" height="3.5" fill="#00008f"/>
<rect x="822" y="272" width="264.5" height="3.5" fill="#00008f"/>
<rect x="822" y="275" width="264.5" height="3.5" fill="#00008f"/>
<rect x="822" y="278" width="264.5" height="3.5" fill="#00008f"/>
<rect x="822" y="281" width="264.5" height="3.5" fill="#00008f"/>
</g></g>
<polyline points="1285.5,689.5 1286.4,689.5 1286.4,701.8 1287.3,701.8 1287.3,689.5 1288.2,689.5 1288.2,701.8 1289.1,701.8 1289.1,689.5 1290.0,689.5 1290.0,701.8 1290.9,701.8 1290.9,689.5 1291.8,689.5 1291.8,701.8 1292.7,701.8 1292.7,689.5 1293.6,689.5 1293.6,701.8 1294.5,701.8 1294.5,689.5 1295.4,689.5 1295.4,701.8 1296.3,701.8 1296.3,689.5 1297.2,689.5 1297.2,701.8 1298.1,701.8 1298.1,689.5 1299.0,689.5 1299.0,701.8 1299.9,701.8 1299.9,689.5 1301.3,689.5 1301.3,752.4 1302.1,752.4 1302.1,717.1 1302.9,717.1 1302.9,752.4 1303.8,752.4 1304.6,752.4 1304.6,313.2 1305.6,313.2 1305.6,523.1 1306.3,523.1 1306.3,752.4 1307.1,752.4 1307.1,658.3 1307.9,658.3 1307.9,752.4 1308.7,752.4 1308.7,661.7 1309.3,661.7 1309.3,734.7 1309.9,734.7 1309.9,658.3 1310.8,658.3 1310.8,665.4 1311.7,665.4 1312.6,665.4 1312.6,674.5 1313.5,674.5 1314.4,674.5 1315.3,674.5 1315.3,701.8 1316.2,701.8 1317.1,701.8 1317.1,683.6 1318.0,683.6 1318.9,683.6 1319.8,683.6 1320.7,683.6 1320.7,692.7 1321.6,692.7 1321.6,683.6 1322.5,683.6 1323.4,683.6 1324.3,683.6 1324.3,692.7 1325.2,692.7 1325.2,683.6 1326.1,683.6 1326.1,692.7 1327.0,692.7 1327.9,692.7 1327.9,689.5 1328.8,689.5 1329.8,689.5 1329.8,770.0 1330.6,770.0 1330.6,717.1 1331.4,717.1 1331.4,770.0 1332.3,770.0 1333.1,770.0 1333.1,179.7 1334.1,179.7 1334.1,523.1 1334.8,523.1 1334.8,770.0 1335.6,770.0 1335.6,617.1 1336.4,617.1 1336.4,770.0 1337.2,770.0 1337.2,621.7 1337.8,621.7 1337.8,752.4 1338.4,752.4 1338.4,617.1 1339.3,617.1 1339.3,619.8 1340.2,619.8 1340.2,638.0 1341.1,638.0 1341.1,647.1 1342.0,647.1 1342.0,656.2 1342.9,656.2 1343.8,656.2 1343.8,665.4 1344.7,665.4 1344.7,692.7 1345.6,692.7 1345.6,674.5 1346.5,674.5 1347.4,674.5 1348.3,674.5 1348.3,683.6 1349.2,683.6 1350.1,683.6 1351.0,683.6 1351.9,683.6 1352.8,683.6 1353.7,683.6 1354.6,683.6 1355.5,683.6 1355.5,692.7 1356.4,692.7 1356.4,701.8 1357.3,701.8 1358.2,701.8 1359.1,701.8 1360.0,701.8 1360.9,701.8 1361.8,701.8 1362.7,701.8 1363.6,701.8 1364.5,701.8 1365.4,701.8 1366.6,701.8 1366.6,752.4 1367.4,752.4 1367.4,717.1 1368.2,717.1 1368.2,752.4 1369.1,752.4 1369.9,752.4 1369.9,313.2 1370.9,313.2 1370.9,523.1 1371.6,523.1 1371.6,752.4 1372.4,752.4 1372.4,658.3 1373.2,658.3 1373.2,752.4 1374.0,752.4 1374.0,661.7 1374.6,661.7 1374.6,734.7 1375.2,734.7 1375.2,658.3 1376.1,658.3 1376.1,665.4 1377.0,665.4 1377.9,665.4 1377.9,674.5 1378.8,674.5 1379.7,674.5 1379.7,692.7 1380.6,692.7 1380.6,674.5 1381.5,674.5 1381.5,683.6 1382.4,683.6 1383.3,683.6 1384.2,683.6 1384.2,692.7 1385.1,692.7 1385.1,683.6 1386.0,683.6 1386.0,692.7 1386.9,692.7 1386.9,683.6 1387.8,683.6 1388.7,683.6 1388.7,692.7 1389.6,692.7 1389.6,683.6 1390.5,683.6 1390.5,692.7 1391.4,692.7 1391.4,683.6 1392.3,683.6 1393.2,683.6 1393.2,689.5 1394.1,689.5 1395.0,689.5 1395.9,689.5 1396.8,689.5 1397.7,689.5 1397.7,701.8 1398.6,701.8 1398.6,689.5 1399.5,689.5 1399.5,701.8 1400.4,701.8 1400.4,689.5 1401.3,689.5 1401.3,701.8 1402.2,701.8 1402.2,689.5 1403.1,689.5 1403.1,701.8 1404.0,701.8 1404.0,689.5 1404.9,689.5 1404.9,701.8 1405.8,701.8 1405.8,689.5 1406.7,689.5 1406.7,701.8 1407.6,701.8 1407.6,689.5 1408.5,689.5 1408.5,701.8 1409.4,701.8 1409.4,689.5 1410.3,689.5 1410.3,701.8 1411.2,701.8 1411.2,689.5 1412.1,689.5 1412.1,701.8 1413.0,701.8 1413.0,689.5 1413.9,689.5 1413.9,701.8 1414.8,701.8 1414.8,689.5 1415.7,689.5 1415.7,701.8 1416.6,701.8 1416.6,689.5 1417.5,689.5 1417.5,701.8 1418.4,701.8 1418.4,689.5 1419.3,689.5 1419.3,701.8 1420.2,701.8 1420.2,689.5 1421.1,689.5 1422.0,689.5 1422.9,689.5 1423.8,689.5 1424.7,689.5 1425.6,689.5 1426.5,689.5 1427.4,689.5 1428.3,689.5 1429.2,689.5 1430.1,689.5 1431.8,689.5 1431.8,752.4 1432.6,752.4 1432.6,717.1 1433.4,717.1 1433.4,752.4 1434.3,752.4 1435.1,752.4 1435.1,319.7 1436.1,319.7 1436.1,523.1 1436.8,523.1 1436.8,752.4 1437.6,752.4 1437.6,658.3 1438.4,658.3 1438.4,752.4 1439.2,752.4 1439.2,661.7 1439.8,661.7 1439.8,734.7 1440.4,734.7 1440.4,658.3 1441.3,658.3 1441.3,683.6 1442.2,683.6 1443.1,683.6 1443.1,692.7 1444.0,692.7 1444.0,674.5 1444.9,674.5 1444.9,692.7 1445.8,692.7 1445.8,701.8 1446.7,701.8 1446.7,683.6 1447.6,683.6 1448.5,683.6 1449.4,683.6 1450.3,683.6 1451.2,683.6 1452.1,683.6 1452.1,692.7 1453.0,692.7 1453.9,692.7 1453.9,683.6 1454.8,683.6 1455.7,683.6 1456.6,683.6 1456.6,692.7 1457.5,692.7 1458.4,692.7 1458.4,701.8 1459.5,701.8 1459.5,760.6 1460.3,760.6 1460.3,717.1 1461.1,717.1 1461.1,760.6 1462.0,760.6 1462.8,760.6 1462.8,179.7 1463.8,179.7 1463.8,523.1 1464.5,523.1 1464.5,760.6 1465.3,760.6 1465.3,617.1 1466.1,617.1 1466.1,760.6 1466.9,760.6 1466.9,621.7 1467.5,621.7 1467.5,743.0 1468.1,743.0 1468.1,617.1 1469.0,617.1 1469.0,647.1 1469.9,647.1 1469.9,656.2 1470.8,656.2 1470.8,665.4 1471.7,665.4 1471.7,656.2 1472.6,656.2 1473.5,656.2 1473.5,665.4 1474.4,665.4 1475.3,665.4 1475.3,674.5 1476.2,674.5 1476.2,683.6 1477.1,683.6 1478.0,683.6 1478.9,683.6 1479.8,683.6 1480.7,683.6 1481.6,683.6 1482.5,683.6 1482.5,692.7 1483.4,692.7 1483.4,683.6 1484.3,683.6 1485.2,683.6 1485.2,692.7 1486.1,692.7 1486.1,701.8 1487.0,701.8 1487.9,701.8 1488.8,701.8 1489.7,701.8 1490.6,701.8 1491.5,701.8 1492.4,701.8 1493.3,701.8 1494.2,701.8 1495.1,701.8 1496.0,701.8 1497.3,701.8 1497.3,752.4 1498.1,752.4 1498.1,717.1 1498.9,717.1 1498.9,752.4 1499.8,752.4 1500.6,752.4 1500.6,313.2 1501.6,313.2 1501.6,523.1 1502.3,523.1 1502.3,752.4 1503.1,752.4 1503.1,658.3 1503.9,658.3 1503.9,752.4 1504.7,752.4 1504.7,661.7 1505.3,661.7 1505.3,734.7 1505.9,734.7 1505.9,658.3 1506.8,658.3 1506.8,683.6 1507.7,683.6 1508.6,683.6 1508.6,674.5 1509.5,674.5 1509.5,692.7 1510.4,692.7 1510.4,674.5 1511.3,674.5 1512.2,674.5 1512.2,701.8 1513.1,701.8 1513.1,683.6 1514.0,683.6 1514.0,692.7 1514.9,692.7 1515.8,692.7 1515.8,683.6 1516.7,683.6 1516.7,692.7 1517.6,692.7 1517.6,683.6 1518.5,683.6 1518.5,692.7 1519.4,692.7 1520.3,692.7 1521.2,692.7 1521.2,683.6 1522.1,683.6 1522.1,692.7 1523.0,692.7 1523.0,683.6 1523.9,683.6 1523.9,689.5 1524.8,689.5 1525.7,689.5 1526.6,689.5 1527.5,689.5 1528.4,689.5 1529.3,689.5 1530.2,689.5 1531.1,689.5 1532.0,689.5 1532.9,689.5 1533.8,689.5 1534.7,689.5 1535.6,689.5 1536.5,689.5 1537.4,689.5 1538.3,689.5 1539.2,689.5 1540.1,689.5 1541.0,689.5 1541.9,689.5 1542.8,689.5 1543.7,689.5 1544.6,689.5 1545.5,689.5 1546.4,689.5 1546.4,701.8 1547.3,701.8 1547.3,689.5 1548.2,689.5 1548.2,701.8 1549.1,701.8 1549.1,689.5 1550.0,689.5 1550.0,701.8 1550.9,701.8 1550.9,689.5 1551.8,689.5 1551.8,701.8 1552.7,701.8 1552.7,689.5 1553.6,689.5 1553.6,701.8 1554.5,701.8 1554.5,689.5 1555.4,689.5 1555.4,701.8 1556.3,701.8 1556.3,689.5 1557.2,689.5 1557.2,701.8 1558.1,701.8 1558.1,689.5 1559.0,689.5 1559.0,701.8 1559.9,701.8 1559.9,689.5 1560.8,689.5 1560.8,701.8 1562.0,701.8 1562.0,752.4 1562.8,752.4 1562.8,717.1 1563.6,717.1 1563.6,752.4 1564.5,752.4 1565.3,752.4 1565.3,321.4 1566.3,321.4 1566.3,523.1 1567.0,523.1 1567.0,752.4 1567.8,752.4 1567.8,658.3 1568.6,658.3 1568.6,752.4 1569.4,752.4 1569.4,661.7 1570.0,661.7 1570.0,734.7 1570.6,734.7 1570.6,658.3 1571.5,658.3 1571.5,665.4 1572.4,665.4 1573.3,665.4 1573.3,674.5 1574.2,674.5 1575.1,674.5 1575.1,692.7 1576.0,692.7 1576.0,701.8 1576.9,701.8 1577.8,701.8 1577.8,692.7 1578.7,692.7 1578.7,683.6 1579.6,683.6 1580.5,683.6 1580.5,692.7 1581.4,692.7 1582.3,692.7 1583.2,692.7 1583.2,683.6 1584.1,683.6 1585.0,683.6 1585.9,683.6 1586.8,683.6 1586.8,692.7 1587.7,692.7 1587.7,683.6 1588.6,683.6 1588.6,689.5 1590.2,689.5 1590.2,760.6 1591.0,760.6 1591.0,717.1 1591.8,717.1 1591.8,760.6 1592.7,760.6 1593.5,760.6 1593.5,188.0 1594.5,188.0 1594.5,523.1 1595.2,523.1 1595.2,760.6 1596.0,760.6 1596.0,617.1 1596.8,617.1 1596.8,760.6 1597.6,760.6 1597.6,621.7 1598.2,621.7 1598.2,743.0 1598.8,743.0 1598.8,617.1 1599.7,617.1 1599.7,619.8 1600.6,619.8 1600.6,656.2 1601.5,656.2 1601.5,647.1 1602.4,647.1 1602.4,656.2 1603.3,656.2 1603.3,683.6 1604.2,683.6 1605.1,683.6 1605.1,665.4 1606.0,665.4 1606.9,665.4 1606.9,674.5 1607.8,674.5 1608.7,674.5 1609.6,674.5 1609.6,683.6 1610.5,683.6 1611.4,683.6 1612.3,683.6 1613.2,683.6 1613.2,692.7 1614.1,692.7 1614.1,683.6 1615.0,683.6 1615.9,683.6 1616.8,683.6 1616.8,689.5 1617.7,689.5 1617.7,701.8 1618.6,701.8 1618.6,689.5 1619.5,689.5 1619.5,701.8 1620.4,701.8 1620.4,689.5 1621.3,689.5 1621.3,701.8 1622.2,701.8 1622.2,689.5 1623.1,689.5 1623.1,701.8 1624.0,701.8 1624.9,701.8 1625.8,701.8 1626.8,701.8 1626.8,752.4 1627.6,752.4 1627.6,717.1 1628.4,717.1 1628.4,752.4 1629.3,752.4 1630.1,752.4 1630.1,313.2 1631.1,313.2 1631.1,523.1 1631.8,523.1 1631.8,752.4 1632.6,752.4 1632.6,658.3 1633.4,658.3 1633.4,752.4 1634.2,752.4 1634.2,661.7 1634.8,661.7 1634.8,734.7 1635.4,734.7 1635.4,658.3 1636.3,658.3 1636.3,665.4 1637.2,665.4 1637.2,683.6 1638.1,683.6 1638.1,674.5 1639.0,674.5 1639.9,674.5 1640.8,674.5 1641.7,674.5 1641.7,683.6 1642.6,683.6 1643.5,683.6 1644.4,683.6 1645.3,683.6 1646.2,683.6 1646.2,692.7 1647.1,692.7 1647.1,683.6 1648.0,683.6 1648.9,683.6 1649.8,683.6 1649.8,692.7 1650.7,692.7 1651.6,692.7 1651.6,683.6 1652.5,683.6 1652.5,692.7 1653.4,692.7 1653.4,701.8 1654.3,701.8 1655.2,701.8 1656.1,701.8 1657.0,701.8 1657.9,701.8 1657.9,689.5 1658.8,689.5 1658.8,701.8 1659.7,701.8 1659.7,689.5 1660.6,689.5 1660.6,701.8 1661.5,701.8 1661.5,689.5 1662.4,689.5 1662.4,701.8 1663.3,701.8 1663.3,689.5 1664.2,689.5 1664.2,701.8 1665.1,701.8 1665.1,689.5 1666.0,689.5 1666.0,701.8 1666.9,701.8 1666.9,689.5 1667.8,689.5 1667.8,701.8 1668.7,701.8 1668.7,689.5 1669.6,689.5 1669.6,701.8 1670.5,701.8 1670.5,689.5 1671.4,689.5 1671.4,701.8 1672.3,701.8 1672.3,689.5 1673.2,689.5 1673.2,701.8 1674.1,701.8 1674.1,689.5 1675.0,689.5 1675.0,701.8 1675.9,701.8 1675.9,689.5 1676.8,689.5 1676.8,701.8 1677.7,701.8 1677.7,689.5 1678.6,689.5 1678.6,701.8 1679.5,701.8 1679.5,689.5 1680.4,689.5 1680.4,701.8 1681.3,701.8 1681.3,689.5 1682.2,689.5 1682.2,701.8 1683.1,701.8 1683.1,689.5 1684.0,689.5 1684.0,701.8 1684.9,701.8 1684.9,689.5 1685.8,689.5 1685.8,701.8 1686.7,701.8 1686.7,689.5 1687.6,689.5 1687.6,701.8 1688.5,701.8 1688.5,689.5 1689.4,689.5 1689.4,701.8 1690.3,701.8 1690.3,689.5 1691.2,689.5 1691.2,701.8 1692.5,701.8 1692.5,752.4 1693.3,752.4 1693.3,717.1 1694.1,717.1 1694.1,752.4 1695.0,752.4 1695.8,752.4 1695.8,319.7 1696.8,319.7 1696.8,523.1 1697.5,523.1 1697.5,752.4 1698.3,752.4 1698.3,658.3 1699.1,658.3 1699.1,752.4 1699.9,752.4 1699.9,661.7 1700.5,661.7 1700.5,734.7 1701.1,734.7 1701.1,658.3 1702.0,658.3 1702.0,665.4 1702.9,665.4 1702.9,683.6 1703.8,683.6 1703.8,692.7 1704.7,692.7 1704.7,674.5 1705.6,674.5 1705.6,692.7 1706.5,692.7 1706.5,701.8 1707.4,701.8 1707.4,683.6 1708.3,683.6 1709.2,683.6 1710.1,683.6 1711.0,683.6 1711.9,683.6 1712.8,683.6 1713.7,683.6 1713.7,692.7 1714.6,692.7 1715.5,692.7 1716.4,692.7 1717.3,692.7 1717.3,683.6 1718.2,683.6 1719.9,683.6 1719.9,770.0 1720.7,770.0 1720.7,717.1 1721.5,717.1 1721.5,770.0 1722.4,770.0 1723.2,770.0 1723.2,179.7 1724.2,179.7 1724.2,523.1 1724.9,523.1 1724.9,770.0 1725.7,770.0 1725.7,617.1 1726.5,617.1 1726.5,770.0 1727.3,770.0 1727.3,621.7 1727.9,621.7 1727.9,752.4 1728.5,752.4 1728.5,617.1 1729.4,617.1 1729.4,619.8 1730.3,619.8 1730.3,638.0 1731.2,638.0 1731.2,647.1 1732.1,647.1 1732.1,674.5 1733.0,674.5 1733.0,683.6 1733.9,683.6 1733.9,665.4 1734.8,665.4 1735.7,665.4 1735.7,674.5 1736.6,674.5 1737.5,674.5 1738.4,674.5 1738.4,683.6 1739.3,683.6 1740.2,683.6 1741.1,683.6 1742.0,683.6 1742.9,683.6 1743.8,683.6 1743.8,692.7 1744.7,692.7 1744.7,683.6 1745.6,683.6 1746.5,683.6 1746.5,701.8 1747.4,701.8 1747.4,689.5 1748.3,689.5 1748.3,701.8 1749.2,701.8 1749.2,689.5 1750.1,689.5 1750.1,701.8 1751.0,701.8 1751.0,689.5 1751.9,689.5 1751.9,701.8 1752.8,701.8 1752.8,689.5 1753.7,689.5 1753.7,701.8 1754.6,701.8 1754.6,689.5 1755.5,689.5 1755.5,701.8 1757.2,701.8 1757.2,752.4 1758.0,752.4 1758.0,717.1 1758.8,717.1 1758.8,752.4 1759.7,752.4 1760.5,752.4 1760.5,313.2 1761.5,313.2 1761.5,523.1 1762.2,523.1 1762.2,752.4 1763.0,752.4 1763.0,658.3 1763.8,658.3 1763.8,752.4 1764.6,752.4 1764.6,661.7 1765.2,661.7 1765.2,734.7 1765.8,734.7 1765.8,658.3 1766.7,658.3 1766.7,683.6 1767.6,683.6 1767.6,665.4 1768.5,665.4 1768.5,674.5 1769.4,674.5 1769.4,692.7 1770.3,692.7 1770.3,674.5 1771.2,674.5 1771.2,701.8 1772.1,701.8 1772.1,683.6 1773.0,683.6 1773.9,683.6 1774.8,683.6 1775.7,683.6 1775.7,692.7 1776.6,692.7 1776.6,683.6 1777.5,683.6 1777.5,692.7 1778.4,692.7 1779.3,692.7 1779.3,683.6 1780.2,683.6 1781.1,683.6 1781.1,692.7 1782.0,692.7 1782.9,692.7 1783.8,692.7 1783.8,689.5 1784.7,689.5 1785.6,689.5 1786.5,689.5 1787.4,689.5 1788.3,689.5 1789.2,689.5 1790.1,689.5 1791.0,689.5 1791.9,689.5 1792.8,689.5 1793.7,689.5 1794.6,689.5 1795.5,689.5 1796.4,689.5 1797.3,689.5 1797.3,701.8 1798.2,701.8 1799.1,701.8 1800.0,701.8 1800.9,701.8 1801.8,701.8 1802.7,701.8 1803.6,701.8 1804.5,701.8 1804.5,689.5 1805.4,689.5 1806.3,689.5 1807.2,689.5 1808.1,689.5 1809.0,689.5 1809.9,689.5 1810.8,689.5 1811.7,689.5 1812.6,689.5 1813.5,689.5 1814.4,689.5 1815.3,689.5 1816.2,689.5 1817.1,689.5 1818.0,689.5 1818.9,689.5 1819.8,689.5 1820.7,689.5 1822.5,689.5 1822.5,752.4 1823.3,752.4 1823.3,717.1 1824.1,717.1 1824.1,752.4 1825.0,752.4 1825.8,752.4 1825.8,321.4 1826.8,321.4 1826.8,523.1 1827.5,523.1 1827.5,752.4 1828.3,752.4 1828.3,658.3 1829.1,658.3 1829.1,752.4 1829.9,752.4 1829.9,661.7 1830.5,661.7 1830.5,734.7 1831.1,734.7 1831.1,658.3 1832.0,658.3 1832.0,665.4 1832.9,665.4 1833.8,665.4 1833.8,692.7 1834.7,692.7 1834.7,674.5 1835.6,674.5 1835.6,692.7 1836.5,692.7 1836.5,701.8 1837.4,701.8 1838.3,701.8 1838.3,683.6 1839.2,683.6 1840.1,683.6 1841.0,683.6 1841.9,683.6 1841.9,692.7 1842.8,692.7 1842.8,683.6 1843.7,683.6 1843.7,692.7 1844.6,692.7 1845.5,692.7 1846.4,692.7 1847.3,692.7 1848.2,692.7 1849.1,692.7 1849.1,689.5 1850.7,689.5 1850.7,770.0 1851.5,770.0 1851.5,717.1 1852.3,717.1 1852.3,770.0 1853.2,770.0 1854.0,770.0 1854.0,180.3 1855.0,180.3 1855.0,523.1 1855.7,523.1 1855.7,770.0 1856.5,770.0 1856.5,617.1 1857.3,617.1 1857.3,770.0 1858.1,770.0 1858.1,621.7 1858.7,621.7 1858.7,752.4 1859.3,752.4 1859.3,617.1 1860.2,617.1 1860.2,647.1 1861.1,647.1 1861.1,656.2 1862.0,656.2 1862.0,647.1 1862.9,647.1 1862.9,674.5 1863.8,674.5 1863.8,683.6 1864.7,683.6 1864.7,665.4 1865.6,665.4 1866.5,665.4 1866.5,674.5 1867.4,674.5 1868.3,674.5 1869.2,674.5 1870.1,674.5 1870.1,683.6 1871.0,683.6 1871.9,683.6 1872.8,683.6 1873.7,683.6 1873.7,692.7 1874.6,692.7 1875.5,692.7 1875.5,683.6 1876.4,683.6 1876.4,692.7 1877.3,692.7 1877.3,689.5 1878.2,689.5 1879.1,689.5 1880.0,689.5 1880.9,689.5 1881.8,689.5 1882.7,689.5 1883.6,689.5 1884.5,689.5 1885.4,689.5 1886.3,689.5 1887.9,689.5 1887.9,752.4 1888.7,752.4 1888.7,717.1 1889.5,717.1 1889.5,752.4 1890.4,752.4 1891.2,752.4 1891.2,313.2 1892.2,313.2 1892.2,523.1 1892.9,523.1 1892.9,752.4 1893.7,752.4 1893.7,658.3 1894.5,658.3 1894.5,752.4 1895.3,752.4 1895.3,661.7 1895.9,661.7 1895.9,734.7 1896.5,734.7 1896.5,658.3 1897.4,658.3 1897.4,665.4 1898.3,665.4 1899.2,665.4 1899.2,692.7 1900.1,692.7 1901.0,692.7 1901.0,674.5 1901.9,674.5 1901.9,701.8 1902.8,701.8 1903.7,701.8 1903.7,683.6 1904.6,683.6 1905.5,683.6 1906.4,683.6 1906.4,692.7 1907.3,692.7 1907.3,683.6 1908.2,683.6 1909.1,683.6 1909.1,692.7 1910.0,692.7 1910.9,692.7 1910.9,683.6 1911.8,683.6 1912.7,683.6 1913.6,683.6 1913.6,692.7 1914.5,692.7 1914.5,689.5 1915.4,689.5 1915.4,701.8 1916.3,701.8 1916.3,689.5 1917.2,689.5 1917.2,701.8 1918.1,701.8 1918.1,689.5 1919.0,689.5 1919.0,701.8 1919.9,701.8 1919.9,689.5 1920.8,689.5 1920.8,701.8 1921.7,701.8 1921.7,689.5 1922.6,689.5 1922.6,701.8 1923.5,701.8 1923.5,689.5 1924.4,689.5 1924.4,701.8 1925.3,701.8 1925.3,689.5 1926.2,689.5 1926.2,701.8 1927.1,701.8 1927.1,689.5 1928.0,689.5 1928.0,701.8 1928.9,701.8 1928.9,689.5 1929.8,689.5 1929.8,701.8 1930.7,701.8 1930.7,689.5 1931.6,689.5 1931.6,701.8 1932.5,701.8 1932.5,689.5 1933.4,689.5 1933.4,701.8 1934.3,701.8 1934.3,689.5 1935.2,689.5 1935.2,701.8 1936.1,701.8 1936.1,689.5 1937.0,689.5 1937.9,689.5 1938.8,689.5 1939.7,689.5 1940.6,689.5 1941.5,689.5 1942.4,689.5 1943.3,689.5 1944.2,689.5 1945.1,689.5 1946.0,689.5 1946.9,689.5 1947.8,689.5 1948.7,689.5 1949.6,689.5 1950.5,689.5 1951.4,689.5 1953.1,689.5 1953.1,752.4 1953.9,752.4 1953.9,717.1 1954.7,717.1 1954.7,752.4 1955.6,752.4 1956.4,752.4 1956.4,313.2 1957.4,313.2 1957.4,523.1 1958.1,523.1 1958.1,752.4 1958.9,752.4 1958.9,658.3 1959.7,658.3 1959.7,752.4 1960.5,752.4 1960.5,661.7 1961.1,661.7 1961.1,734.7 1961.7,734.7 1961.7,658.3 1962.6,658.3 1962.6,665.4 1963.5,665.4 1964.4,665.4 1964.4,674.5 1965.3,674.5 1966.2,674.5 1966.2,692.7 1967.1,692.7 1967.1,701.8 1968.0,701.8 1968.9,701.8 1968.9,683.6 1969.8,683.6 1970.7,683.6 1971.6,683.6 1972.5,683.6 1972.5,692.7 1973.4,692.7 1974.3,692.7 1975.2,692.7 1975.2,683.6 1976.1,683.6 1977.0,683.6 1977.9,683.6 1977.9,692.7 1978.8,692.7 1979.7,692.7 1979.7,701.8 1980.8,701.8 1980.8,770.0 1981.6,770.0 1981.6,717.1 1982.4,717.1 1982.4,770.0 1983.3,770.0 1984.1,770.0 1984.1,182.1 1985.1,182.1 1985.1,523.1 1985.8,523.1 1985.8,770.0 1986.6,770.0 1986.6,617.1 1987.4,617.1 1987.4,770.0 1988.2,770.0 1988.2,621.7 1988.8,621.7 1988.8,752.4 1989.4,752.4 1989.4,617.1 1990.3,617.1 1990.3,619.8 1991.2,619.8 1991.2,656.2 1992.1,656.2 1992.1,647.1 1993.0,647.1 1993.0,674.5 1993.9,674.5 1993.9,683.6 1994.8,683.6 1994.8,665.4 1995.7,665.4 1995.7,692.7 1996.6,692.7 1996.6,674.5 1997.5,674.5 1997.5,683.6 1998.4,683.6 1998.4,674.5 1999.3,674.5 2000.2,674.5 2000.2,683.6 2001.1,683.6 2002.0,683.6 2002.9,683.6 2003.8,683.6 2003.8,692.7 2004.7,692.7 2005.6,692.7 2005.6,683.6 2006.5,683.6 2006.5,692.7 2007.4,692.7 2007.4,689.5 2008.3,689.5 2009.2,689.5 2010.1,689.5 2011.0,689.5 2011.0,701.8 2011.9,701.8 2011.9,689.5 2012.8,689.5 2012.8,701.8 2013.7,701.8 2013.7,689.5 2014.6,689.5 2014.6,701.8 2015.5,701.8 2015.5,689.5 2016.4,689.5 2016.4,701.8 2017.8,701.8 2017.8,752.4 2018.6,752.4 2018.6,717.1 2019.4,717.1 2019.4,752.4 2020.3,752.4 2021.1,752.4 2021.1,305.6 2022.1,305.6 2022.1,523.1 2022.8,523.1 2022.8,752.4 2023.6,752.4 2023.6,658.3 2024.4,658.3 2024.4,752.4 2025.2,752.4 2025.2,661.7 2025.8,661.7 2025.8,734.7 2026.4,734.7 2026.4,658.3 2027.3,658.3 2027.3,665.4 2028.2,665.4 2029.1,665.4 2029.1,674.5 2030.0,674.5 2030.9,674.5 2031.8,674.5 2031.8,701.8 2032.7,701.8 2032.7,683.6 2033.6,683.6 2034.5,683.6 2035.4,683.6 2036.3,683.6 2036.3,692.7 2037.2,692.7 2037.2,683.6 2038.1,683.6 2039.0,683.6 2039.9,683.6 2040.8,683.6 2040.8,692.7 2041.7,692.7 2041.7,683.6 2042.6,683.6 2043.5,683.6 2044.4,683.6 2044.4,689.5 2045.3,689.5 2046.2,689.5 2047.1,689.5 2048.0,689.5 2048.9,689.5 2049.8,689.5 2050.7,689.5 2051.6,689.5 2052.5,689.5 2053.4,689.5 2054.3,689.5 2055.2,689.5 2056.1,689.5 2057.0,689.5 2057.0,701.8 2057.9,701.8 2058.8,701.8 2059.7,701.8 2060.6,701.8 2061.5,701.8 2062.4,701.8 2063.3,701.8 2064.2,701.8 2065.1,701.8 2066.0,701.8 2066.9,701.8 2067.8,701.8 2068.7,701.8 2069.6,701.8 2070.5,701.8 2071.4,701.8 2072.3,701.8 2073.2,701.8 2074.1,701.8 2075.0,701.8 2075.9,701.8 2076.8,701.8 2076.8,689.5 2077.7,689.5 2077.7,701.8 2078.6,701.8 2078.6,689.5 2079.5,689.5 2079.5,701.8 2080.4,701.8 2080.4,689.5 2081.3,689.5 2081.3,701.8 2083.0,701.8 2083.0,752.4 2083.8,752.4 2083.8,717.1 2084.6,717.1 2084.6,752.4 2085.5,752.4 2086.3,752.4 2086.3,321.4 2087.3,321.4 2087.3,523.1 2088.0,523.1 2088.0,752.4 2088.8,752.4 2088.8,658.3 2089.6,658.3 2089.6,752.4 2090.4,752.4 2090.4,661.7 2091.0,661.7 2091.0,734.7 2091.6,734.7 2091.6,658.3 2092.5,658.3 2092.5,665.4 2093.4,665.4 2094.3,665.4 2094.3,692.7 2095.2,692.7 2095.2,674.5 2096.1,674.5 2096.1,692.7 2097.0,692.7 2097.0,701.8 2097.9,701.8 2098.8,701.8 2098.8,692.7 2099.7,692.7 2099.7,683.6 2100.6,683.6 2101.5,683.6 2102.4,683.6 2102.4,692.7 2103.3,692.7 2103.3,683.6 2104.2,683.6 2105.1,683.6 2105.1,692.7 2106.0,692.7 2106.0,683.6 2106.9,683.6 2106.9,692.7 2107.8,692.7 2108.7,692.7 2110.5,692.7 2110.5,767.1 2111.3,767.1 2111.3,717.1 2112.1,717.1 2112.1,767.1 2113.0,767.1 2113.8,767.1 2113.8,182.1 2114.8,182.1 2114.8,523.1 2115.5,523.1 2115.5,767.1 2116.3,767.1 2116.3,617.1 2117.1,617.1 2117.1,767.1 2117.9,767.1 2117.9,621.7 2118.5,621.7 2118.5,749.4 2119.1,749.4 2119.1,617.1 2120.0,617.1 2120.0,619.8 2120.9,619.8 2120.9,638.0 2121.8,638.0 2121.8,647.1 2122.7,647.1 2122.7,656.2 2123.6,656.2 2124.5,656.2 2124.5,683.6 2125.4,683.6 2125.4,665.4 2126.3,665.4 2126.3,674.5 2127.2,674.5 2127.2,683.6 2128.1,683.6 2129.0,683.6 2129.9,683.6 2130.8,683.6 2131.7,683.6 2131.7,692.7 2132.6,692.7 2133.5,692.7 2133.5,683.6 2134.4,683.6 2135.3,683.6 2136.2,683.6 2137.1,683.6 2137.1,689.5 2138.0,689.5 2138.0,701.8 2138.9,701.8 2138.9,689.5 2139.8,689.5 2139.8,701.8 2140.7,701.8 2140.7,689.5 2141.6,689.5 2141.6,701.8 2142.5,701.8 2142.5,689.5 2143.4,689.5 2143.4,701.8 2144.3,701.8 2144.3,689.5 2145.2,689.5 2145.2,701.8 2146.1,701.8 2146.1,689.5 2147.5,689.5 2147.5,752.4 2148.3,752.4 2148.3,717.1 2149.1,717.1 2149.1,752.4 2150.0,752.4 2150.8,752.4 2150.8,313.2 2151.8,313.2 2151.8,523.1 2152.5,523.1 2152.5,752.4 2153.3,752.4 2153.3,658.3 2154.1,658.3 2154.1,752.4 2154.9,752.4 2154.9,661.7 2155.5,661.7 2155.5,734.7 2156.1,734.7 2156.1,658.3 2157.0,658.3 2157.0,665.4 2157.9,665.4 2158.8,665.4 2158.8,674.5 2159.7,674.5 2160.6,674.5 2160.6,692.7 2161.5,692.7 2161.5,674.5 2162.4,674.5 2162.4,683.6 2163.3,683.6 2164.2,683.6 2165.1,683.6 2165.1,692.7 2166.0,692.7 2166.0,683.6 2166.9,683.6 2166.9,692.7" fill="none" stroke="#0000ff" stroke-width="3.0" stroke-linejoin="miter" stroke-miterlimit="2" clip-path="url(#cb)"/>
<polyline points="192.3,1571.4 193.2,1571.4 194.1,1571.4 195.0,1571.4 195.9,1571.4 196.8,1571.4 198.2,1571.4 198.2,1647.0 199.0,1647.0 199.0,1593.8 199.8,1593.8 199.8,1647.0 200.7,1647.0 201.5,1647.0 201.5,1064.5 202.5,1064.5 202.5,1398.9 203.2,1398.9 203.2,1647.0 204.0,1647.0 204.0,1511.1 204.8,1511.1 204.8,1647.0 205.6,1647.0 205.6,1515.2 206.2,1515.2 206.2,1629.3 206.8,1629.3 206.8,1511.1 207.7,1511.1 207.7,1534.7 208.6,1534.7 208.6,1543.9 209.5,1543.9 209.5,1534.7 210.4,1534.7 211.3,1534.7 211.3,1543.9 212.2,1543.9 212.2,1553.1 213.1,1553.1 214.0,1553.1 214.9,1553.1 215.8,1553.1 215.8,1562.2 216.7,1562.2 217.6,1562.2 218.5,1562.2 219.4,1562.2 219.4,1553.1 220.3,1553.1 221.2,1553.1 221.2,1562.2 222.1,1562.2 222.1,1571.4 223.0,1571.4 223.9,1571.4 224.8,1571.4 225.7,1571.4 226.6,1571.4 227.5,1571.4 228.4,1571.4 229.3,1571.4 230.2,1571.4 231.1,1571.4 232.0,1571.4 232.9,1571.4 233.8,1571.4 234.7,1571.4 235.6,1571.4 236.5,1571.4 237.4,1571.4 238.3,1571.4 239.2,1571.4 240.1,1571.4 241.0,1571.4 241.9,1571.4 242.8,1571.4 243.7,1571.4 243.7,1561.9 244.6,1561.9 244.6,1571.4 245.5,1571.4 245.5,1561.9 246.4,1561.9 246.4,1571.4 247.3,1571.4 247.3,1561.9 248.2,1561.9 248.2,1571.4 249.1,1571.4 249.1,1561.9 250.0,1561.9 250.0,1571.4 250.9,1571.4 250.9,1561.9 251.8,1561.9 251.8,1571.4 252.7,1571.4 252.7,1561.9 253.6,1561.9 253.6,1571.4 254.5,1571.4 254.5,1561.9 255.6,1561.9 255.6,1635.8 256.4,1635.8 256.4,1593.8 257.2,1593.8 257.2,1635.8 258.1,1635.8 258.9,1635.8 258.9,1074.5 259.9,1074.5 259.9,1398.9 260.6,1398.9 260.6,1635.8 261.4,1635.8 261.4,1511.1 262.2,1511.1 262.2,1635.8 263.0,1635.8 263.0,1515.2 263.6,1515.2 263.6,1618.1 264.2,1618.1 264.2,1511.1 265.1,1511.1 265.1,1534.7 266.0,1534.7 266.0,1543.9 266.9,1543.9 266.9,1553.1 267.8,1553.1 268.7,1553.1 268.7,1543.9 269.6,1543.9 270.5,1543.9 270.5,1553.1 271.4,1553.1 272.3,1553.1 273.2,1553.1 274.1,1553.1 275.0,1553.1 275.9,1553.1 275.9,1562.2 276.8,1562.2 277.7,1562.2 278.6,1562.2 279.5,1562.2 279.5,1571.4 280.4,1571.4 281.3,1571.4 282.2,1571.4 283.1,1571.4 284.0,1571.4 284.9,1571.4 285.8,1571.4 286.7,1571.4 287.6,1571.4 288.5,1571.4 289.4,1571.4 289.4,1561.9 290.3,1561.9 290.3,1571.4 291.2,1571.4 291.2,1561.9 292.1,1561.9 292.1,1571.4 293.0,1571.4 293.0,1561.9 293.9,1561.9 293.9,1571.4 294.8,1571.4 294.8,1561.9 295.7,1561.9 295.7,1571.4 296.6,1571.4 296.6,1561.9 297.5,1561.9 297.5,1571.4 298.4,1571.4 298.4,1561.9 299.3,1561.9 299.3,1571.4 300.2,1571.4 300.2,1561.9 301.1,1561.9 301.1,1571.4 302.0,1571.4 302.0,1561.9 302.9,1561.9 302.9,1571.4 303.8,1571.4 303.8,1561.9 304.7,1561.9 304.7,1571.4 305.6,1571.4 305.6,1561.9 306.5,1561.9 306.5,1571.4 307.4,1571.4 307.4,1561.9 308.3,1561.9 308.3,1571.4 309.2,1571.4 309.2,1561.9 310.1,1561.9 310.1,1571.4 311.0,1571.4 311.0,1561.9 311.9,1561.9 311.9,1571.4 312.8,1571.4 312.8,1561.9 313.7,1561.9 313.7,1571.4 314.6,1571.4 314.6,1561.9 315.5,1561.9 315.5,1571.4 316.4,1571.4 316.4,1561.9 317.3,1561.9 317.3,1571.4 318.2,1571.4 318.2,1561.9 319.1,1561.9 319.1,1571.4 320.0,1571.4 320.0,1561.9 320.9,1561.9 320.9,1571.4 321.8,1571.4 321.8,1561.9 322.7,1561.9 322.7,1571.4 323.6,1571.4 323.6,1561.9 324.5,1561.9 325.4,1561.9 326.3,1561.9 327.2,1561.9 328.1,1561.9 329.0,1561.9 330.4,1561.9 330.4,1635.8 331.2,1635.8 331.2,1593.8 332.0,1593.8 332.0,1635.8 332.9,1635.8 333.7,1635.8 333.7,1074.5 334.7,1074.5 334.7,1398.9 335.4,1398.9 335.4,1635.8 336.2,1635.8 336.2,1511.1 337.0,1511.1 337.0,1635.8 337.8,1635.8 337.8,1515.2 338.4,1515.2 338.4,1618.1 339.0,1618.1 339.0,1511.1 339.9,1511.1 339.9,1516.4 340.8,1516.4 340.8,1525.6 341.7,1525.6 341.7,1553.1 342.6,1553.1 342.6,1534.7 343.5,1534.7 343.5,1543.9 344.4,1543.9 345.3,1543.9 345.3,1553.1 346.2,1553.1 347.1,1553.1 347.1,1562.2 348.0,1562.2 348.0,1553.1 348.9,1553.1 348.9,1562.2 349.8,1562.2 349.8,1553.1 350.7,1553.1 350.7,1562.2 351.6,1562.2 352.5,1562.2 353.4,1562.2 354.3,1562.2 354.3,1571.4 355.2,1571.4 355.2,1561.9 356.1,1561.9 356.1,1571.4 357.0,1571.4 357.0,1561.9 357.9,1561.9 357.9,1571.4 358.8,1571.4 358.8,1561.9 359.7,1561.9 359.7,1571.4 360.6,1571.4 360.6,1561.9 361.5,1561.9 361.5,1571.4 362.4,1571.4 362.4,1561.9 363.3,1561.9 364.2,1561.9 365.1,1561.9 366.0,1561.9 366.9,1561.9 367.8,1561.9 368.7,1561.9 369.6,1561.9 370.5,1561.9 371.4,1561.9 372.3,1561.9 373.2,1561.9 374.1,1561.9 375.0,1561.9 375.9,1561.9 376.8,1561.9 377.7,1561.9 378.6,1561.9 379.5,1561.9 380.4,1561.9 381.3,1561.9 382.2,1561.9 383.1,1561.9 384.0,1561.9 384.9,1561.9 385.8,1561.9 386.7,1561.9 388.0,1561.9 388.0,1635.8 388.8,1635.8 388.8,1593.8 389.6,1593.8 389.6,1635.8 390.5,1635.8 391.3,1635.8 391.3,1074.5 392.3,1074.5 392.3,1398.9 393.0,1398.9 393.0,1635.8 393.8,1635.8 393.8,1511.1 394.6,1511.1 394.6,1635.8 395.4,1635.8 395.4,1515.2 396.0,1515.2 396.0,1618.1 396.6,1618.1 396.6,1511.1 397.5,1511.1 397.5,1516.4 398.4,1516.4 398.4,1525.6 399.3,1525.6 399.3,1553.1 400.2,1553.1 400.2,1534.7 401.1,1534.7 401.1,1543.9 402.0,1543.9 402.9,1543.9 403.8,1543.9 403.8,1553.1 404.7,1553.1 405.6,1553.1 406.5,1553.1 406.5,1562.2 407.4,1562.2 407.4,1553.1 408.3,1553.1 409.2,1553.1 409.2,1562.2 410.1,1562.2 411.0,1562.2 411.9,1562.2 411.9,1571.4 412.8,1571.4 412.8,1561.9 413.7,1561.9 413.7,1571.4 414.6,1571.4 414.6,1561.9 415.5,1561.9 416.4,1561.9 417.3,1561.9 418.2,1561.9 419.1,1561.9 420.0,1561.9 420.9,1561.9 421.8,1561.9 422.7,1561.9 423.6,1561.9 424.5,1561.9 425.4,1561.9 425.4,1571.4 426.3,1571.4 427.2,1571.4 428.1,1571.4 429.0,1571.4 429.9,1571.4 430.8,1571.4 431.7,1571.4 432.6,1571.4 433.5,1571.4 434.4,1571.4 435.3,1571.4 436.2,1571.4 437.1,1571.4 437.1,1561.9 438.0,1561.9 438.9,1561.9 439.8,1561.9 440.7,1561.9 441.6,1561.9 442.5,1561.9 443.4,1561.9 444.3,1561.9 445.2,1561.9 446.1,1561.9 447.0,1561.9 447.9,1561.9 448.8,1561.9 449.7,1561.9 450.6,1561.9 451.5,1561.9 452.4,1561.9 453.3,1561.9 454.2,1561.9 455.1,1561.9 456.0,1561.9 456.9,1561.9 457.8,1561.9 458.7,1561.9 459.6,1561.9 460.5,1561.9 460.5,1571.4 461.4,1571.4 461.4,1561.9 462.3,1561.9 462.3,1571.4 464.0,1571.4 464.0,1635.8 464.8,1635.8 464.8,1593.8 465.6,1593.8 465.6,1635.8 466.5,1635.8 467.3,1635.8 467.3,1064.5 468.3,1064.5 468.3,1398.9 469.0,1398.9 469.0,1635.8 469.8,1635.8 469.8,1511.1 470.6,1511.1 470.6,1635.8 471.4,1635.8 471.4,1515.2 472.0,1515.2 472.0,1618.1 472.6,1618.1 472.6,1511.1 473.5,1511.1 473.5,1516.4 474.4,1516.4 474.4,1543.9 475.3,1543.9 475.3,1534.7 476.2,1534.7 477.1,1534.7 477.1,1543.9 478.0,1543.9 478.0,1553.1 478.9,1553.1 479.8,1553.1 480.7,1553.1 481.6,1553.1 482.5,1553.1 482.5,1562.2 483.4,1562.2 484.3,1562.2 485.2,1562.2 486.1,1562.2 487.0,1562.2 487.9,1562.2 487.9,1571.4 488.8,1571.4 489.7,1571.4 490.6,1571.4 491.5,1571.4 492.4,1571.4 493.3,1571.4 494.2,1571.4 495.1,1571.4 496.0,1571.4 496.9,1571.4 497.8,1571.4 498.7,1571.4 499.6,1571.4 500.5,1571.4 501.4,1571.4 502.3,1571.4 503.2,1571.4 504.1,1571.4 505.0,1571.4 505.9,1571.4 506.8,1571.4 507.7,1571.4 508.6,1571.4 509.5,1571.4 510.4,1571.4 511.3,1571.4 512.2,1571.4 513.1,1571.4 514.0,1571.4 514.9,1571.4 515.8,1571.4 515.8,1561.9 516.7,1561.9 516.7,1571.4 517.6,1571.4 517.6,1561.9 518.5,1561.9 518.5,1571.4 519.4,1571.4 519.4,1561.9 520.3,1561.9 520.3,1571.4 521.6,1571.4 521.6,1635.8 522.4,1635.8 522.4,1593.8 523.2,1593.8 523.2,1635.8 524.1,1635.8 524.9,1635.8 524.9,1064.5 525.9,1064.5 525.9,1398.9 526.6,1398.9 526.6,1635.8 527.4,1635.8 527.4,1511.1 528.2,1511.1 528.2,1635.8 529.0,1635.8 529.0,1515.2 529.6,1515.2 529.6,1618.1 530.2,1618.1 530.2,1511.1 531.1,1511.1 531.1,1516.4 532.0,1516.4 532.0,1543.9 532.9,1543.9 532.9,1553.1 533.8,1553.1 534.7,1553.1 534.7,1562.2 535.6,1562.2 535.6,1553.1 536.5,1553.1 537.4,1553.1 538.3,1553.1 538.3,1562.2 539.2,1562.2 540.1,1562.2 541.0,1562.2 541.9,1562.2 542.8,1562.2 543.7,1562.2 544.6,1562.2 545.5,1562.2 545.5,1561.9 546.4,1561.9 546.4,1571.4 547.3,1571.4 547.3,1561.9 548.2,1561.9 548.2,1571.4 549.1,1571.4 549.1,1561.9 550.0,1561.9 550.0,1571.4 550.9,1571.4 550.9,1561.9 551.8,1561.9 551.8,1571.4 552.7,1571.4 552.7,1561.9 553.6,1561.9 554.5,1561.9 555.4,1561.9 556.3,1561.9 557.2,1561.9 558.1,1561.9 559.0,1561.9 559.9,1561.9 560.8,1561.9 561.7,1561.9 562.6,1561.9 563.5,1561.9 564.4,1561.9 565.3,1561.9 566.2,1561.9 567.1,1561.9 568.0,1561.9 568.9,1561.9 569.8,1561.9 570.7,1561.9 571.6,1561.9 572.5,1561.9 573.4,1561.9 574.3,1561.9 575.2,1561.9 575.2,1571.4 576.1,1571.4 576.1,1561.9 577.0,1561.9 577.0,1571.4 577.9,1571.4 577.9,1561.9 578.8,1561.9 578.8,1571.4 579.7,1571.4 579.7,1561.9 580.6,1561.9 580.6,1571.4 581.5,1571.4 581.5,1561.9 582.4,1561.9 582.4,1571.4 583.3,1571.4 583.3,1561.9 584.2,1561.9 584.2,1571.4 585.1,1571.4 585.1,1561.9 586.0,1561.9 586.0,1571.4 586.9,1571.4 586.9,1561.9 587.8,1561.9 588.7,1561.9 589.6,1561.9 590.5,1561.9 591.4,1561.9 592.3,1561.9 593.2,1561.9 594.1,1561.9 595.0,1561.9 595.9,1561.9 597.1,1561.9 597.1,1635.8 597.9,1635.8 597.9,1593.8 598.7,1593.8 598.7,1635.8 599.6,1635.8 600.4,1635.8 600.4,1063.3 601.4,1063.3 601.4,1398.9 602.1,1398.9 602.1,1635.8 602.9,1635.8 602.9,1511.1 603.7,1511.1 603.7,1635.8 604.5,1635.8 604.5,1515.2 605.1,1515.2 605.1,1618.1 605.7,1618.1 605.7,1511.1 606.6,1511.1 606.6,1534.7 607.5,1534.7 607.5,1543.9 608.4,1543.9 608.4,1553.1 609.3,1553.1 610.2,1553.1 610.2,1562.2 611.1,1562.2 611.1,1543.9 612.0,1543.9 612.0,1553.1 612.9,1553.1 612.9,1562.2 613.8,1562.2 613.8,1553.1 614.7,1553.1 614.7,1562.2 615.6,1562.2 616.5,1562.2 617.4,1562.2 618.3,1562.2 618.3,1553.1 619.2,1553.1 619.2,1562.2 620.1,1562.2 621.0,1562.2 621.0,1571.4 621.9,1571.4 621.9,1561.9 622.8,1561.9 622.8,1571.4 623.7,1571.4 623.7,1561.9 624.6,1561.9 624.6,1571.4 625.5,1571.4 625.5,1561.9 626.4,1561.9 626.4,1571.4 627.3,1571.4 627.3,1561.9 628.2,1561.9 628.2,1571.4 629.1,1571.4 629.1,1561.9 630.0,1561.9 630.0,1571.4 630.9,1571.4 630.9,1561.9 631.8,1561.9 631.8,1571.4 632.7,1571.4 632.7,1561.9 633.6,1561.9 633.6,1571.4 634.5,1571.4 634.5,1561.9 635.4,1561.9 635.4,1571.4 636.3,1571.4 636.3,1561.9 637.2,1561.9 637.2,1571.4 638.1,1571.4 638.1,1561.9 639.0,1561.9 639.0,1571.4 639.9,1571.4 639.9,1561.9 640.8,1561.9 640.8,1571.4 641.7,1571.4 641.7,1561.9 642.6,1561.9 642.6,1571.4 643.5,1571.4 643.5,1561.9 644.4,1561.9 644.4,1571.4 645.3,1571.4 645.3,1561.9 646.2,1561.9 646.2,1571.4 647.1,1571.4 647.1,1561.9 648.0,1561.9 648.0,1571.4 648.9,1571.4 648.9,1561.9 649.8,1561.9 649.8,1571.4 650.7,1571.4 650.7,1561.9 651.6,1561.9 651.6,1571.4 652.5,1571.4 652.5,1561.9 653.4,1561.9 653.4,1571.4 654.6,1571.4 654.6,1635.8 655.4,1635.8 655.4,1593.8 656.2,1593.8 656.2,1635.8 657.1,1635.8 657.9,1635.8 657.9,1064.5 658.9,1064.5 658.9,1398.9 659.6,1398.9 659.6,1635.8 660.4,1635.8 660.4,1511.1 661.2,1511.1 661.2,1635.8 662.0,1635.8 662.0,1515.2 662.6,1515.2 662.6,1618.1 663.2,1618.1 663.2,1511.1 664.1,1511.1 664.1,1516.4 665.0,1516.4 665.0,1525.6 665.9,1525.6 665.9,1553.1 666.8,1553.1 667.7,1553.1 667.7,1543.9 668.6,1543.9 669.5,1543.9 670.4,1543.9 670.4,1553.1 671.3,1553.1 672.2,1553.1 672.2,1562.2 673.1,1562.2 673.1,1553.1 674.0,1553.1 674.0,1562.2 674.9,1562.2 675.8,1562.2 676.7,1562.2 677.6,1562.2 678.5,1562.2 678.5,1561.9 679.4,1561.9 680.3,1561.9 681.2,1561.9 682.1,1561.9 683.0,1561.9 683.9,1561.9 684.8,1561.9 685.7,1561.9 686.6,1561.9 687.5,1561.9 688.4,1561.9 689.3,1561.9 690.2,1561.9 691.1,1561.9 692.0,1561.9 692.9,1561.9 693.8,1561.9 694.7,1561.9 695.6,1561.9 696.5,1561.9 697.4,1561.9 698.3,1561.9 699.2,1561.9 700.1,1561.9 701.0,1561.9 701.9,1561.9 701.9,1571.4 702.8,1571.4 702.8,1561.9 703.7,1561.9 703.7,1571.4 704.6,1571.4 704.6,1561.9 705.5,1561.9 705.5,1571.4 706.4,1571.4 706.4,1561.9 707.3,1561.9 707.3,1571.4 708.2,1571.4 708.2,1561.9 709.1,1561.9 709.1,1571.4 710.0,1571.4 710.0,1561.9 710.9,1561.9 710.9,1571.4 711.8,1571.4 711.8,1561.9 712.7,1561.9 712.7,1571.4 713.6,1571.4 713.6,1561.9 714.5,1561.9 714.5,1571.4 715.4,1571.4 715.4,1561.9 716.3,1561.9 716.3,1571.4 717.2,1571.4 717.2,1561.9 718.1,1561.9 718.1,1571.4 719.0,1571.4 719.0,1561.9 719.9,1561.9 719.9,1571.4 720.8,1571.4 720.8,1561.9 721.7,1561.9 721.7,1571.4 722.6,1571.4 722.6,1561.9 723.5,1561.9 723.5,1571.4 724.4,1571.4 724.4,1561.9 725.3,1561.9 725.3,1571.4 726.2,1571.4 726.2,1561.9 727.1,1561.9 727.1,1571.4 728.0,1571.4 728.0,1561.9 728.9,1561.9 728.9,1571.4 729.8,1571.4 729.8,1561.9 730.7,1561.9 730.7,1647.0 731.5,1647.0 731.5,1593.8 732.3,1593.8 732.3,1647.0 733.2,1647.0 734.0,1647.0 734.0,1064.5 735.0,1064.5 735.0,1398.9 735.7,1398.9 735.7,1647.0 736.5,1647.0 736.5,1511.1 737.3,1511.1 737.3,1647.0 738.1,1647.0 738.1,1515.2 738.7,1515.2 738.7,1629.3 739.3,1629.3 739.3,1511.1 740.2,1511.1 740.2,1516.4 741.1,1516.4 741.1,1525.6 742.0,1525.6 742.0,1553.1 742.9,1553.1 743.8,1553.1 743.8,1562.2 744.7,1562.2 744.7,1553.1 745.6,1553.1 745.6,1543.9 746.5,1543.9 746.5,1553.1 747.4,1553.1 748.3,1553.1 749.2,1553.1 750.1,1553.1 750.1,1562.2 751.0,1562.2 751.0,1553.1 751.9,1553.1 751.9,1562.2 752.8,1562.2 753.7,1562.2 754.6,1562.2 754.6,1571.4 755.5,1571.4 755.5,1561.9 756.4,1561.9 756.4,1571.4 757.3,1571.4 757.3,1561.9 758.2,1561.9 758.2,1571.4 759.1,1571.4 759.1,1561.9 760.0,1561.9 760.0,1571.4 760.9,1571.4 760.9,1561.9 761.8,1561.9 761.8,1571.4 762.7,1571.4 762.7,1561.9 763.6,1561.9 763.6,1571.4 764.5,1571.4 764.5,1561.9 765.4,1561.9 765.4,1571.4 766.3,1571.4 766.3,1561.9 767.2,1561.9 767.2,1571.4 768.1,1571.4 768.1,1561.9 769.0,1561.9 769.0,1571.4 769.9,1571.4 769.9,1561.9 770.8,1561.9 770.8,1571.4 771.7,1571.4 771.7,1561.9 772.6,1561.9 772.6,1571.4 773.5,1571.4 773.5,1561.9 774.4,1561.9 774.4,1571.4 775.3,1571.4 775.3,1561.9 776.2,1561.9 776.2,1571.4 777.1,1571.4 777.1,1561.9 778.0,1561.9 778.0,1571.4 778.9,1571.4 778.9,1561.9 779.8,1561.9 779.8,1571.4 780.7,1571.4 780.7,1561.9 781.6,1561.9 781.6,1571.4 782.5,1571.4 783.4,1571.4 784.3,1571.4 785.2,1571.4 786.1,1571.4 787.0,1571.4 788.0,1571.4 788.0,1635.8 788.8,1635.8 788.8,1593.8 789.6,1593.8 789.6,1635.8 790.5,1635.8 791.3,1635.8 791.3,1074.5 792.3,1074.5 792.3,1398.9 793.0,1398.9 793.0,1635.8 793.8,1635.8 793.8,1511.1 794.6,1511.1 794.6,1635.8 795.4,1635.8 795.4,1515.2 796.0,1515.2 796.0,1618.1 796.6,1618.1 796.6,1511.1 797.5,1511.1 797.5,1516.4 798.4,1516.4 798.4,1543.9 799.3,1543.9 799.3,1553.1 800.2,1553.1 801.1,1553.1 801.1,1562.2 802.0,1562.2 802.0,1543.9 802.9,1543.9 802.9,1553.1 803.8,1553.1 804.7,1553.1 805.6,1553.1 806.5,1553.1 806.5,1562.2 807.4,1562.2 808.3,1562.2 809.2,1562.2 809.2,1553.1 810.1,1553.1 810.1,1562.2 811.0,1562.2 811.9,1562.2 811.9,1561.9 812.8,1561.9 812.8,1571.4 813.7,1571.4 813.7,1561.9 814.6,1561.9 815.5,1561.9 816.4,1561.9 817.3,1561.9 818.2,1561.9 819.1,1561.9 820.0,1561.9 820.9,1561.9 821.8,1561.9 822.7,1561.9 823.6,1561.9 824.5,1561.9 825.4,1561.9 826.3,1561.9 827.2,1561.9 828.1,1561.9 829.0,1561.9 829.9,1561.9 830.8,1561.9 831.7,1561.9 832.6,1561.9 833.5,1561.9 834.4,1561.9 835.3,1561.9 836.2,1561.9 837.1,1561.9 838.0,1561.9 838.0,1571.4 838.9,1571.4 839.8,1571.4 840.7,1571.4 841.6,1571.4 842.5,1571.4 843.4,1571.4 844.3,1571.4 844.3,1561.9 845.2,1561.9 846.1,1561.9 847.0,1561.9 847.9,1561.9 848.8,1561.9 849.7,1561.9 850.6,1561.9 851.5,1561.9 852.4,1561.9 853.3,1561.9 854.2,1561.9 855.1,1561.9 856.0,1561.9 856.9,1561.9 857.8,1561.9 857.8,1571.4 858.7,1571.4 859.6,1571.4 860.5,1571.4 861.4,1571.4 862.3,1571.4 863.7,1571.4 863.7,1635.8 864.5,1635.8 864.5,1593.8 865.3,1593.8 865.3,1635.8 866.2,1635.8 867.0,1635.8 867.0,1064.5 868.0,1064.5 868.0,1398.9 868.7,1398.9 868.7,1635.8 869.5,1635.8 869.5,1511.1 870.3,1511.1 870.3,1635.8 871.1,1635.8 871.1,1515.2 871.7,1515.2 871.7,1618.1 872.3,1618.1 872.3,1511.1 873.2,1511.1 873.2,1534.7 874.1,1534.7 874.1,1543.9 875.0,1543.9 875.0,1534.7 875.9,1534.7 875.9,1553.1 876.8,1553.1 876.8,1543.9 877.7,1543.9 878.6,1543.9 878.6,1553.1 879.5,1553.1 880.4,1553.1 881.3,1553.1 881.3,1562.2 882.2,1562.2 882.2,1553.1 883.1,1553.1 883.1,1562.2 884.0,1562.2 884.9,1562.2 885.8,1562.2 886.7,1562.2 887.6,1562.2 887.6,1571.4 888.5,1571.4 888.5,1561.9 889.4,1561.9 889.4,1571.4 890.3,1571.4 890.3,1561.9 891.2,1561.9 891.2,1571.4 892.1,1571.4 892.1,1561.9 893.0,1561.9 893.0,1571.4 893.9,1571.4 893.9,1561.9 894.8,1561.9 894.8,1571.4 895.7,1571.4 895.7,1561.9 896.6,1561.9 896.6,1571.4 897.5,1571.4 897.5,1561.9 898.4,1561.9 898.4,1571.4 899.3,1571.4 899.3,1561.9 900.2,1561.9 900.2,1571.4 901.1,1571.4 901.1,1561.9 902.0,1561.9 902.0,1571.4 902.9,1571.4 902.9,1561.9 903.8,1561.9 903.8,1571.4 904.7,1571.4 905.6,1571.4 906.5,1571.4 907.4,1571.4 908.3,1571.4 909.2,1571.4 910.1,1571.4 911.0,1571.4 911.9,1571.4 912.8,1571.4 913.7,1571.4 913.7,1561.9 914.6,1561.9 914.6,1571.4 915.5,1571.4 915.5,1561.9 916.4,1561.9 916.4,1571.4 917.3,1571.4 917.3,1561.9 918.2,1561.9 918.2,1571.4 919.1,1571.4 919.1,1561.9 920.0,1561.9 920.0,1571.4 921.5,1571.4 921.5,1635.8 922.3,1635.8 922.3,1593.8 923.1,1593.8 923.1,1635.8 924.0,1635.8 924.8,1635.8 924.8,1074.5 925.8,1074.5 925.8,1398.9 926.5,1398.9 926.5,1635.8 927.3,1635.8 927.3,1511.1 928.1,1511.1 928.1,1635.8 928.9,1635.8 928.9,1515.2 929.5,1515.2 929.5,1618.1 930.1,1618.1 930.1,1511.1 931.0,1511.1 931.0,1534.7 931.9,1534.7 931.9,1543.9 932.8,1543.9 932.8,1534.7 933.7,1534.7 934.6,1534.7 934.6,1562.2 935.5,1562.2 935.5,1553.1 936.4,1553.1 937.3,1553.1 938.2,1553.1 939.1,1553.1 940.0,1553.1 940.0,1562.2 940.9,1562.2 940.9,1553.1 941.8,1553.1 941.8,1562.2 942.7,1562.2 943.6,1562.2 944.5,1562.2 945.4,1562.2 945.4,1561.9 946.3,1561.9 947.2,1561.9 948.1,1561.9 949.0,1561.9 949.9,1561.9 950.8,1561.9 951.7,1561.9 952.6,1561.9 953.5,1561.9 953.5,1571.4 954.4,1571.4 955.3,1571.4 956.2,1571.4 957.1,1571.4 958.0,1571.4 958.9,1571.4 959.8,1571.4 960.7,1571.4 961.6,1571.4 962.5,1571.4 963.4,1571.4 964.3,1571.4 965.2,1571.4 966.1,1571.4 967.0,1571.4 967.9,1571.4 968.8,1571.4 969.7,1571.4 970.6,1571.4 970.6,1561.9 971.5,1561.9 971.5,1571.4 972.4,1571.4 972.4,1561.9 973.3,1561.9 973.3,1571.4 974.2,1571.4 974.2,1561.9 975.1,1561.9 975.1,1571.4 976.0,1571.4 976.0,1561.9 976.9,1561.9 977.8,1561.9 978.7,1561.9 979.6,1561.9 980.5,1561.9 981.4,1561.9 982.3,1561.9 983.2,1561.9 984.1,1561.9 985.0,1561.9 985.9,1561.9 986.8,1561.9 987.7,1561.9 988.6,1561.9 989.5,1561.9 990.4,1561.9 991.3,1561.9 992.2,1561.9 993.1,1561.9 994.0,1561.9 994.9,1561.9 996.5,1561.9 996.5,1635.8 997.3,1635.8 997.3,1593.8 998.1,1593.8 998.1,1635.8 999.0,1635.8 999.8,1635.8 999.8,1064.5 1000.8,1064.5 1000.8,1398.9 1001.5,1398.9 1001.5,1635.8 1002.3,1635.8 1002.3,1511.1 1003.1,1511.1 1003.1,1635.8 1003.9,1635.8 1003.9,1515.2 1004.5,1515.2 1004.5,1618.1 1005.1,1618.1 1005.1,1511.1 1006.0,1511.1 1006.0,1534.7 1006.9,1534.7 1006.9,1525.6 1007.8,1525.6 1007.8,1553.1 1008.7,1553.1 1009.6,1553.1 1009.6,1543.9 1010.5,1543.9 1010.5,1553.1 1011.4,1553.1 1012.3,1553.1 1013.2,1553.1 1013.2,1562.2 1014.1,1562.2 1014.1,1553.1 1015.0,1553.1 1015.9,1553.1 1015.9,1562.2 1016.8,1562.2 1017.7,1562.2 1018.6,1562.2 1018.6,1553.1 1019.5,1553.1 1019.5,1562.2 1020.4,1562.2 1020.4,1571.4 1021.3,1571.4 1022.2,1571.4 1023.1,1571.4 1024.0,1571.4 1024.9,1571.4 1025.8,1571.4 1026.7,1571.4 1027.6,1571.4 1028.5,1571.4 1029.4,1571.4 1030.3,1571.4 1031.2,1571.4 1032.1,1571.4 1033.0,1571.4 1033.9,1571.4 1034.8,1571.4 1035.7,1571.4 1036.6,1571.4 1037.5,1571.4 1038.4,1571.4 1039.3,1571.4 1040.2,1571.4 1041.1,1571.4 1042.0,1571.4 1042.9,1571.4 1042.9,1561.9 1043.8,1561.9 1043.8,1571.4 1044.7,1571.4 1044.7,1561.9 1045.6,1561.9 1045.6,1571.4 1046.5,1571.4 1046.5,1561.9 1047.4,1561.9 1047.4,1571.4 1048.3,1571.4 1048.3,1561.9 1049.2,1561.9 1049.2,1571.4 1050.1,1571.4 1050.1,1561.9 1051.0,1561.9 1051.0,1571.4 1051.9,1571.4 1051.9,1561.9 1052.8,1561.9 1052.8,1571.4 1053.7,1571.4 1053.7,1561.9 1055.0,1561.9 1055.0,1635.8 1055.8,1635.8 1055.8,1593.8 1056.6,1593.8 1056.6,1635.8 1057.5,1635.8 1058.3,1635.8 1058.3,1064.5 1059.3,1064.5 1059.3,1398.9 1060.0,1398.9 1060.0,1635.8 1060.8,1635.8 1060.8,1511.1 1061.6,1511.1 1061.6,1635.8 1062.4,1635.8 1062.4,1515.2 1063.0,1515.2 1063.0,1618.1 1063.6,1618.1 1063.6,1511.1 1064.5,1511.1 1064.5,1534.7 1065.4,1534.7 1065.4,1525.6 1066.3,1525.6 1066.3,1553.1 1067.2,1553.1 1068.1,1553.1 1068.1,1562.2 1069.0,1562.2 1069.0,1543.9 1069.9,1543.9 1070.8,1543.9 1070.8,1562.2 1071.7,1562.2 1072.6,1562.2 1072.6,1553.1 1073.5,1553.1 1074.4,1553.1 1074.4,1562.2 1075.3,1562.2 1076.2,1562.2" fill="none" stroke="#0000ff" stroke-width="3.0" stroke-linejoin="miter" stroke-miterlimit="2" clip-path="url(#cc)"/>
<polyline points="1282.7,1573.4 1283.7,1573.4 1284.7,1573.4 1285.7,1573.4 1286.7,1573.4 1287.7,1573.4 1288.7,1573.4 1289.7,1573.4 1290.7,1573.4 1291.7,1573.4 1292.7,1573.4 1293.7,1573.4 1294.7,1573.4 1295.7,1573.4 1296.7,1573.4 1297.7,1573.4 1298.7,1573.4 1299.7,1573.4 1300.7,1573.4 1301.7,1573.4 1302.7,1573.4 1303.7,1573.4 1304.7,1573.4 1305.7,1573.4 1306.7,1573.4 1307.7,1573.4 1308.7,1573.4 1309.7,1573.4 1310.7,1573.4 1311.7,1573.4 1311.7,1579.3 1312.7,1579.3 1312.7,1573.4 1313.7,1573.4 1313.7,1579.3 1314.7,1579.3 1314.7,1573.4 1315.7,1573.4 1315.7,1579.3 1316.7,1579.3 1316.7,1573.4 1317.7,1573.4 1317.7,1579.3 1318.7,1579.3 1318.7,1573.4 1319.7,1573.4 1319.7,1579.3 1320.7,1579.3 1320.7,1573.4 1321.7,1573.4 1321.7,1579.3 1322.7,1579.3 1322.7,1573.4 1323.7,1573.4 1323.7,1579.3 1324.7,1579.3 1324.7,1573.4 1325.7,1573.4 1325.7,1579.3 1326.7,1579.3 1326.7,1573.4 1327.7,1573.4 1327.7,1579.3 1328.7,1579.3 1328.7,1573.4 1329.7,1573.4 1330.7,1573.4 1331.7,1573.4 1332.7,1573.4 1333.7,1573.4 1334.7,1573.4 1335.7,1573.4 1336.7,1573.4 1337.7,1573.4 1338.7,1573.4 1339.7,1573.4 1340.9,1573.4 1340.9,1559.2 1342.5,1559.2 1343.3,1559.2 1343.3,1640.9 1344.3,1640.9 1344.3,1470.3 1345.0,1470.3 1345.0,1054.6 1346.1,1054.6 1346.1,1393.3 1346.8,1393.3 1346.8,1470.3 1347.4,1470.3 1347.4,1399.3 1348.0,1399.3 1348.0,1482.2 1348.6,1482.2 1348.6,1428.9 1349.2,1428.9 1349.2,1582.9 1349.9,1582.9 1349.9,1488.1 1350.6,1488.1 1350.6,1523.6 1351.3,1523.6 1351.3,1499.9 1352.0,1499.9 1352.0,1535.5 1352.7,1535.5 1352.7,1517.7 1353.4,1517.7 1353.4,1538.4 1354.1,1538.4 1354.1,1526.6 1355.1,1526.6 1355.1,1533.4 1356.1,1533.4 1356.1,1551.8 1357.1,1551.8 1358.1,1551.8 1359.1,1551.8 1359.1,1533.4 1360.1,1533.4 1360.1,1551.8 1361.1,1551.8 1362.1,1551.8 1363.1,1551.8 1363.1,1542.6 1364.1,1542.6 1364.1,1560.9 1365.1,1560.9 1365.1,1542.6 1366.1,1542.6 1366.1,1551.8 1367.1,1551.8 1368.1,1551.8 1368.1,1560.9 1369.1,1560.9 1369.1,1551.8 1370.1,1551.8 1371.1,1551.8 1372.1,1551.8 1372.1,1570.1 1373.1,1570.1 1373.1,1560.9 1374.1,1560.9 1374.1,1551.8 1375.1,1551.8 1376.1,1551.8 1376.1,1560.9 1377.1,1560.9 1377.1,1570.1 1378.1,1570.1 1378.1,1551.8 1379.1,1551.8 1380.1,1551.8 1380.1,1570.1 1381.1,1570.1 1381.1,1551.8 1382.1,1551.8 1383.1,1551.8 1384.1,1551.8 1385.1,1551.8 1385.1,1570.1 1386.1,1570.1 1386.1,1551.8 1387.1,1551.8 1387.1,1560.9 1388.1,1560.9 1388.1,1570.1 1389.1,1570.1 1389.1,1560.9 1390.1,1560.9 1390.1,1551.8 1391.1,1551.8 1391.1,1560.9 1392.1,1560.9 1392.1,1570.1 1393.1,1570.1 1393.1,1551.8 1394.1,1551.8 1394.1,1570.1 1395.1,1570.1 1396.1,1570.1 1397.1,1570.1 1398.1,1570.1 1399.1,1570.1 1400.1,1570.1 1401.1,1570.1 1402.1,1570.1 1403.1,1570.1 1404.1,1570.1 1405.1,1570.1 1406.1,1570.1 1407.1,1570.1 1408.1,1570.1 1408.1,1573.4 1409.1,1573.4 1410.1,1573.4 1411.1,1573.4 1412.1,1573.4 1413.1,1573.4 1414.1,1573.4 1415.1,1573.4 1416.1,1573.4 1417.1,1573.4 1418.1,1573.4 1419.1,1573.4 1420.1,1573.4 1421.1,1573.4 1422.1,1573.4 1423.1,1573.4 1424.1,1573.4 1425.1,1573.4 1426.1,1573.4 1427.1,1573.4 1428.1,1573.4 1429.1,1573.4 1430.1,1573.4 1431.1,1573.4 1432.1,1573.4 1433.1,1573.4 1434.1,1573.4 1435.1,1573.4 1436.1,1573.4 1437.1,1573.4 1438.1,1573.4 1439.1,1573.4 1440.1,1573.4 1441.1,1573.4 1442.1,1573.4 1443.1,1573.4 1444.1,1573.4 1445.1,1573.4 1446.1,1573.4 1447.1,1573.4 1448.1,1573.4 1449.1,1573.4 1450.1,1573.4 1451.1,1573.4 1452.1,1573.4 1453.1,1573.4 1454.1,1573.4 1455.1,1573.4 1456.1,1573.4 1457.1,1573.4 1458.1,1573.4 1459.1,1573.4 1460.1,1573.4 1461.1,1573.4 1462.1,1573.4 1463.1,1573.4 1464.1,1573.4 1465.1,1573.4 1466.1,1573.4 1467.1,1573.4 1468.1,1573.4 1469.1,1573.4 1470.1,1573.4 1471.1,1573.4 1472.1,1573.4 1473.1,1573.4 1474.1,1573.4 1475.2,1573.4 1475.2,1559.2 1476.8,1559.2 1477.6,1559.2 1477.6,1648.0 1478.6,1648.0 1478.6,1470.3 1479.3,1470.3 1479.3,1060.5 1480.4,1060.5 1480.4,1393.3 1481.1,1393.3 1481.1,1470.3 1481.7,1470.3 1481.7,1399.3 1482.3,1399.3 1482.3,1482.2 1482.9,1482.2 1482.9,1428.9 1483.5,1428.9 1483.5,1582.9 1484.2,1582.9 1484.2,1488.1 1484.9,1488.1 1484.9,1523.6 1485.6,1523.6 1485.6,1499.9 1486.3,1499.9 1486.3,1535.5 1487.0,1535.5 1487.0,1517.7 1487.7,1517.7 1487.7,1538.4 1488.4,1538.4 1488.4,1526.6 1489.4,1526.6 1489.4,1533.4 1490.4,1533.4 1490.4,1551.8 1491.4,1551.8 1492.4,1551.8 1492.4,1533.4 1493.4,1533.4 1494.4,1533.4 1494.4,1551.8 1495.4,1551.8 1495.4,1542.6 1496.4,1542.6 1497.4,1542.6 1497.4,1560.9 1498.4,1560.9 1499.4,1560.9 1499.4,1542.6 1500.4,1542.6 1500.4,1551.8 1501.4,1551.8 1501.4,1570.1 1502.4,1570.1 1502.4,1551.8 1503.4,1551.8 1503.4,1560.9 1504.4,1560.9 1504.4,1551.8 1505.4,1551.8 1505.4,1560.9 1506.4,1560.9 1507.4,1560.9 1507.4,1551.8 1508.4,1551.8 1508.4,1560.9 1509.4,1560.9 1509.4,1551.8 1510.4,1551.8 1511.4,1551.8 1512.4,1551.8 1512.4,1570.1 1513.4,1570.1 1513.4,1551.8 1514.4,1551.8 1514.4,1570.1 1515.4,1570.1 1515.4,1551.8 1516.4,1551.8 1517.4,1551.8 1518.4,1551.8 1519.4,1551.8 1519.4,1560.9 1520.4,1560.9 1520.4,1551.8 1521.4,1551.8 1521.4,1570.1 1522.4,1570.1 1522.4,1551.8 1523.4,1551.8 1524.4,1551.8 1524.4,1570.1 1525.4,1570.1 1525.4,1551.8 1526.4,1551.8 1527.4,1551.8 1528.4,1551.8 1528.4,1570.1 1529.4,1570.1 1530.4,1570.1 1531.4,1570.1 1532.4,1570.1 1533.4,1570.1 1534.4,1570.1 1535.4,1570.1 1536.4,1570.1 1537.4,1570.1 1538.4,1570.1 1539.4,1570.1 1540.4,1570.1 1541.4,1570.1 1542.4,1570.1 1542.4,1579.3 1543.4,1579.3 1544.4,1579.3 1545.4,1579.3 1546.4,1579.3 1546.4,1573.4 1547.4,1573.4 1547.4,1579.3 1548.4,1579.3 1548.4,1573.4 1549.4,1573.4 1549.4,1579.3 1550.4,1579.3 1550.4,1573.4 1551.4,1573.4 1551.4,1579.3 1552.4,1579.3 1552.4,1573.4 1553.4,1573.4 1553.4,1579.3 1554.4,1579.3 1554.4,1573.4 1555.4,1573.4 1556.4,1573.4 1557.4,1573.4 1558.4,1573.4 1559.4,1573.4 1560.4,1573.4 1561.4,1573.4 1562.4,1573.4 1563.4,1573.4 1564.4,1573.4 1565.4,1573.4 1566.4,1573.4 1567.4,1573.4 1568.4,1573.4 1569.4,1573.4 1570.4,1573.4 1571.4,1573.4 1572.4,1573.4 1573.4,1573.4 1574.4,1573.4 1575.4,1573.4 1576.4,1573.4 1577.4,1573.4 1578.4,1573.4 1579.4,1573.4 1580.4,1573.4 1581.4,1573.4 1582.4,1573.4 1583.4,1573.4 1584.4,1573.4 1585.4,1573.4 1586.4,1573.4 1587.4,1573.4 1588.4,1573.4 1589.4,1573.4 1590.4,1573.4 1591.4,1573.4 1592.4,1573.4 1593.4,1573.4 1594.4,1573.4 1595.4,1573.4 1596.4,1573.4 1597.4,1573.4 1598.4,1573.4 1599.4,1573.4 1600.4,1573.4 1601.4,1573.4 1602.4,1573.4 1603.4,1573.4 1604.4,1573.4 1605.4,1573.4 1606.4,1573.4 1607.4,1573.4 1608.4,1573.4 1609.7,1573.4 1609.7,1559.2 1611.3,1559.2 1612.1,1559.2 1612.1,1648.0 1613.1,1648.0 1613.1,1470.3 1613.8,1470.3 1613.8,1060.5 1614.9,1060.5 1614.9,1393.3 1615.6,1393.3 1615.6,1470.3 1616.2,1470.3 1616.2,1399.3 1616.8,1399.3 1616.8,1482.2 1617.4,1482.2 1617.4,1428.9 1618.0,1428.9 1618.0,1582.9 1618.7,1582.9 1618.7,1488.1 1619.4,1488.1 1619.4,1523.6 1620.1,1523.6 1620.1,1499.9 1620.8,1499.9 1620.8,1535.5 1621.5,1535.5 1621.5,1517.7 1622.2,1517.7 1622.2,1538.4 1622.9,1538.4 1622.9,1526.6 1623.9,1526.6 1623.9,1551.8 1624.9,1551.8 1624.9,1533.4 1625.9,1533.4 1625.9,1551.8 1626.9,1551.8 1626.9,1533.4 1627.9,1533.4 1627.9,1551.8 1628.9,1551.8 1629.9,1551.8 1629.9,1542.6 1630.9,1542.6 1631.9,1542.6 1631.9,1560.9 1632.9,1560.9 1633.9,1560.9 1634.9,1560.9 1635.9,1560.9 1635.9,1551.8 1636.9,1551.8 1636.9,1560.9 1637.9,1560.9 1637.9,1551.8 1638.9,1551.8 1639.9,1551.8 1640.9,1551.8 1640.9,1560.9 1641.9,1560.9 1642.9,1560.9 1643.9,1560.9 1643.9,1570.1 1644.9,1570.1 1645.9,1570.1 1645.9,1551.8 1646.9,1551.8 1646.9,1570.1 1647.9,1570.1 1647.9,1551.8 1648.9,1551.8 1649.9,1551.8 1649.9,1570.1 1650.9,1570.1 1650.9,1551.8 1651.9,1551.8 1651.9,1570.1 1652.9,1570.1 1652.9,1560.9 1653.9,1560.9 1654.9,1560.9 1655.9,1560.9 1655.9,1551.8 1656.9,1551.8 1656.9,1570.1 1657.9,1570.1 1658.9,1570.1 1658.9,1560.9 1659.9,1560.9 1659.9,1551.8 1660.9,1551.8 1661.9,1551.8 1661.9,1560.9 1662.9,1560.9 1662.9,1570.1 1663.9,1570.1 1664.9,1570.1 1665.9,1570.1 1666.9,1570.1 1667.9,1570.1 1668.9,1570.1 1669.9,1570.1 1670.9,1570.1 1671.9,1570.1 1672.9,1570.1 1673.9,1570.1 1674.9,1570.1 1675.9,1570.1 1676.9,1570.1 1676.9,1573.4 1677.9,1573.4 1677.9,1579.3 1678.9,1579.3 1678.9,1573.4 1679.9,1573.4 1679.9,1579.3 1680.9,1579.3 1680.9,1573.4 1681.9,1573.4 1681.9,1579.3 1682.9,1579.3 1682.9,1573.4 1683.9,1573.4 1683.9,1579.3 1684.9,1579.3 1684.9,1573.4 1685.9,1573.4 1685.9,1579.3 1686.9,1579.3 1686.9,1573.4 1687.9,1573.4 1687.9,1579.3 1688.9,1579.3 1689.9,1579.3 1690.9,1579.3 1691.9,1579.3 1692.9,1579.3 1692.9,1573.4 1693.9,1573.4 1694.9,1573.4 1695.9,1573.4 1696.9,1573.4 1697.9,1573.4 1698.9,1573.4 1699.9,1573.4 1700.9,1573.4 1701.9,1573.4 1702.9,1573.4 1703.9,1573.4 1704.9,1573.4 1705.9,1573.4 1706.9,1573.4 1707.9,1573.4 1708.9,1573.4 1709.9,1573.4 1710.9,1573.4 1711.9,1573.4 1712.9,1573.4 1713.9,1573.4 1714.9,1573.4 1715.9,1573.4 1716.9,1573.4 1717.9,1573.4 1718.9,1573.4 1719.9,1573.4 1720.9,1573.4 1721.9,1573.4 1722.9,1573.4 1723.9,1573.4 1724.9,1573.4 1725.9,1573.4 1726.9,1573.4 1727.9,1573.4 1728.9,1573.4 1729.9,1573.4 1730.9,1573.4 1731.9,1573.4 1732.9,1573.4 1733.9,1573.4 1734.9,1573.4 1735.9,1573.4 1736.9,1573.4 1736.9,1579.3 1737.9,1579.3 1738.9,1579.3 1738.9,1573.4 1739.9,1573.4 1740.9,1573.4 1741.9,1573.4 1743.4,1573.4 1743.4,1559.2 1745.0,1559.2 1745.8,1559.2 1745.8,1642.1 1746.8,1642.1 1746.8,1470.3 1747.5,1470.3 1747.5,1067.0 1748.6,1067.0 1748.6,1393.3 1749.3,1393.3 1749.3,1470.3 1749.9,1470.3 1749.9,1399.3 1750.5,1399.3 1750.5,1482.2 1751.1,1482.2 1751.1,1428.9 1751.7,1428.9 1751.7,1582.9 1752.4,1582.9 1752.4,1488.1 1753.1,1488.1 1753.1,1523.6 1753.8,1523.6 1753.8,1499.9 1754.5,1499.9 1754.5,1535.5 1755.2,1535.5 1755.2,1517.7 1755.9,1517.7 1755.9,1538.4 1756.6,1538.4 1756.6,1526.6 1757.6,1526.6 1757.6,1533.4 1758.6,1533.4 1758.6,1551.8 1759.6,1551.8 1759.6,1533.4 1760.6,1533.4 1761.6,1533.4 1762.6,1533.4 1763.6,1533.4 1763.6,1551.8 1764.6,1551.8 1764.6,1542.6 1765.6,1542.6 1766.6,1542.6 1766.6,1560.9 1767.6,1560.9 1768.6,1560.9 1769.6,1560.9 1769.6,1570.1 1770.6,1570.1 1771.6,1570.1 1771.6,1551.8 1772.6,1551.8 1773.6,1551.8 1773.6,1570.1 1774.6,1570.1 1774.6,1551.8 1775.6,1551.8 1775.6,1560.9 1776.6,1560.9 1776.6,1551.8 1777.6,1551.8 1777.6,1570.1 1778.6,1570.1 1779.6,1570.1 1779.6,1551.8 1780.6,1551.8 1781.6,1551.8 1782.6,1551.8 1783.6,1551.8 1784.6,1551.8 1785.6,1551.8 1786.6,1551.8 1787.6,1551.8 1787.6,1570.1 1788.6,1570.1 1789.6,1570.1 1790.6,1570.1 1790.6,1560.9 1791.6,1560.9 1791.6,1570.1 1792.6,1570.1 1792.6,1560.9 1793.6,1560.9 1793.6,1551.8 1794.6,1551.8 1794.6,1560.9 1795.6,1560.9 1795.6,1551.8 1796.6,1551.8 1796.6,1570.1 1797.6,1570.1 1798.6,1570.1 1799.6,1570.1 1800.6,1570.1 1801.6,1570.1 1802.6,1570.1 1803.6,1570.1 1804.6,1570.1 1805.6,1570.1 1806.6,1570.1 1807.6,1570.1 1808.6,1570.1 1809.6,1570.1 1810.6,1570.1 1810.6,1573.4 1811.6,1573.4 1811.6,1579.3 1812.6,1579.3 1812.6,1573.4 1813.6,1573.4 1813.6,1579.3 1814.6,1579.3 1814.6,1573.4 1815.6,1573.4 1816.6,1573.4 1817.6,1573.4 1818.6,1573.4 1819.6,1573.4 1820.6,1573.4 1821.6,1573.4 1822.6,1573.4 1823.6,1573.4 1824.6,1573.4 1825.6,1573.4 1826.6,1573.4 1827.6,1573.4 1828.6,1573.4 1828.6,1579.3 1829.6,1579.3 1829.6,1573.4 1830.6,1573.4 1830.6,1579.3 1831.6,1579.3 1831.6,1573.4 1832.6,1573.4 1832.6,1579.3 1833.6,1579.3 1833.6,1573.4 1834.6,1573.4 1834.6,1579.3 1835.6,1579.3 1835.6,1573.4 1836.6,1573.4 1836.6,1579.3 1837.6,1579.3 1837.6,1573.4 1838.6,1573.4 1838.6,1579.3 1839.6,1579.3 1839.6,1573.4 1840.6,1573.4 1840.6,1579.3 1841.6,1579.3 1841.6,1573.4 1842.6,1573.4 1842.6,1579.3 1843.6,1579.3 1843.6,1573.4 1844.6,1573.4 1844.6,1579.3 1845.6,1579.3 1845.6,1573.4 1846.6,1573.4 1846.6,1579.3 1847.6,1579.3 1848.6,1579.3 1849.6,1579.3 1850.6,1579.3 1851.6,1579.3 1851.6,1573.4 1852.6,1573.4 1853.6,1573.4 1854.6,1573.4 1855.6,1573.4 1856.6,1573.4 1857.6,1573.4 1858.6,1573.4 1859.6,1573.4 1860.6,1573.4 1861.6,1573.4 1862.6,1573.4 1863.6,1573.4 1864.6,1573.4 1865.6,1573.4 1866.6,1573.4 1867.6,1573.4 1868.6,1573.4 1869.6,1573.4 1870.6,1573.4 1871.6,1573.4 1872.6,1573.4 1873.6,1573.4 1874.6,1573.4 1875.6,1573.4 1877.3,1573.4 1877.3,1559.2 1878.9,1559.2 1879.7,1559.2 1879.7,1648.0 1880.7,1648.0 1880.7,1470.3 1881.4,1470.3 1881.4,1060.5 1882.5,1060.5 1882.5,1393.3 1883.2,1393.3 1883.2,1470.3 1883.8,1470.3 1883.8,1399.3 1884.4,1399.3 1884.4,1482.2 1885.0,1482.2 1885.0,1428.9 1885.6,1428.9 1885.6,1582.9 1886.3,1582.9 1886.3,1488.1 1887.0,1488.1 1887.0,1523.6 1887.7,1523.6 1887.7,1499.9 1888.4,1499.9 1888.4,1535.5 1889.1,1535.5 1889.1,1517.7 1889.8,1517.7 1889.8,1538.4 1890.5,1538.4 1890.5,1526.6 1891.5,1526.6 1891.5,1533.4 1892.5,1533.4 1892.5,1551.8 1893.5,1551.8 1894.5,1551.8 1894.5,1533.4 1895.5,1533.4 1895.5,1551.8 1896.5,1551.8 1897.5,1551.8 1897.5,1542.6 1898.5,1542.6 1898.5,1551.8 1899.5,1551.8 1899.5,1560.9 1900.5,1560.9 1900.5,1542.6 1901.5,1542.6 1902.5,1542.6 1902.5,1551.8 1903.5,1551.8 1904.5,1551.8 1905.5,1551.8 1906.5,1551.8 1907.5,1551.8 1907.5,1560.9 1908.5,1560.9 1908.5,1551.8 1909.5,1551.8 1909.5,1570.1 1910.5,1570.1 1910.5,1551.8 1911.5,1551.8 1911.5,1570.1 1912.5,1570.1 1912.5,1560.9 1913.5,1560.9 1913.5,1551.8 1914.5,1551.8 1914.5,1570.1 1915.5,1570.1 1915.5,1560.9 1916.5,1560.9 1916.5,1551.8 1917.5,1551.8 1917.5,1560.9 1918.5,1560.9 1918.5,1570.1 1919.5,1570.1 1919.5,1560.9 1920.5,1560.9 1920.5,1570.1 1921.5,1570.1 1921.5,1551.8 1922.5,1551.8 1923.5,1551.8 1924.5,1551.8 1924.5,1560.9 1925.5,1560.9 1925.5,1570.1 1926.5,1570.1 1926.5,1560.9 1927.5,1560.9 1927.5,1551.8 1928.5,1551.8 1928.5,1560.9 1929.5,1560.9 1929.5,1551.8 1930.5,1551.8 1930.5,1570.1 1931.5,1570.1 1932.5,1570.1 1933.5,1570.1 1934.5,1570.1 1935.5,1570.1 1936.5,1570.1 1937.5,1570.1 1938.5,1570.1 1939.5,1570.1 1940.5,1570.1 1941.5,1570.1 1942.5,1570.1 1943.5,1570.1 1944.5,1570.1 1944.5,1573.4 1945.5,1573.4 1946.5,1573.4 1947.5,1573.4 1948.5,1573.4 1949.5,1573.4 1950.5,1573.4 1951.5,1573.4 1952.5,1573.4 1953.5,1573.4 1954.5,1573.4 1955.5,1573.4 1956.5,1573.4 1957.5,1573.4 1958.5,1573.4 1959.5,1573.4 1960.5,1573.4 1961.5,1573.4 1962.5,1573.4 1963.5,1573.4 1964.5,1573.4 1965.5,1573.4 1966.5,1573.4 1967.5,1573.4 1968.5,1573.4 1969.5,1573.4 1970.5,1573.4 1971.5,1573.4 1972.5,1573.4 1973.5,1573.4 1974.5,1573.4 1975.5,1573.4 1976.5,1573.4 1977.5,1573.4 1978.5,1573.4 1979.5,1573.4 1980.5,1573.4 1981.5,1573.4 1982.5,1573.4 1983.5,1573.4 1984.5,1573.4 1985.5,1573.4 1986.5,1573.4 1987.5,1573.4 1988.5,1573.4 1989.5,1573.4 1990.5,1573.4 1991.5,1573.4 1992.5,1573.4 1993.5,1573.4 1994.5,1573.4 1995.5,1573.4 1996.5,1573.4 1997.5,1573.4 1998.5,1573.4 1999.5,1573.4 2000.5,1573.4 2001.5,1573.4 2002.5,1573.4 2003.5,1573.4 2004.5,1573.4 2005.5,1573.4 2006.5,1573.4 2007.5,1573.4 2008.5,1573.4 2009.5,1573.4 2011.3,1573.4 2011.3,1559.2 2012.9,1559.2 2013.7,1559.2 2013.7,1648.0 2014.7,1648.0 2014.7,1470.3 2015.4,1470.3 2015.4,1060.5 2016.5,1060.5 2016.5,1393.3 2017.2,1393.3 2017.2,1470.3 2017.8,1470.3 2017.8,1399.3 2018.4,1399.3 2018.4,1482.2 2019.0,1482.2 2019.0,1428.9 2019.6,1428.9 2019.6,1582.9 2020.3,1582.9 2020.3,1488.1 2021.0,1488.1 2021.0,1523.6 2021.7,1523.6 2021.7,1499.9 2022.4,1499.9 2022.4,1535.5 2023.1,1535.5 2023.1,1517.7 2023.8,1517.7 2023.8,1538.4 2024.5,1538.4 2024.5,1526.6 2025.5,1526.6 2025.5,1533.4 2026.5,1533.4 2026.5,1551.8 2027.5,1551.8 2028.5,1551.8 2029.5,1551.8 2029.5,1533.4 2030.5,1533.4 2030.5,1551.8 2031.5,1551.8 2031.5,1542.6 2032.5,1542.6 2032.5,1551.8 2033.5,1551.8 2033.5,1542.6 2034.5,1542.6 2034.5,1560.9 2035.5,1560.9 2036.5,1560.9 2036.5,1551.8 2037.5,1551.8 2037.5,1560.9 2038.5,1560.9 2038.5,1551.8 2039.5,1551.8 2039.5,1570.1 2040.5,1570.1 2040.5,1551.8 2041.5,1551.8 2042.5,1551.8 2043.5,1551.8 2043.5,1560.9 2044.5,1560.9 2044.5,1551.8 2045.5,1551.8 2046.5,1551.8 2047.5,1551.8 2047.5,1560.9 2048.5,1560.9 2048.5,1570.1 2049.5,1570.1 2049.5,1551.8 2050.5,1551.8 2051.5,1551.8 2052.5,1551.8 2052.5,1570.1 2053.5,1570.1 2053.5,1551.8 2054.5,1551.8 2055.5,1551.8 2055.5,1570.1 2056.5,1570.1 2056.5,1560.9 2057.5,1560.9 2057.5,1570.1 2058.5,1570.1 2059.5,1570.1 2059.5,1560.9 2060.5,1560.9 2060.5,1570.1 2061.5,1570.1 2062.5,1570.1 2062.5,1560.9 2063.5,1560.9 2063.5,1551.8 2064.5,1551.8 2064.5,1570.1 2065.5,1570.1 2066.5,1570.1 2067.5,1570.1 2068.5,1570.1 2069.5,1570.1 2070.5,1570.1 2071.5,1570.1 2072.5,1570.1 2073.5,1570.1 2074.5,1570.1 2075.5,1570.1 2076.5,1570.1 2077.5,1570.1 2078.5,1570.1 2078.5,1573.4 2079.5,1573.4 2080.5,1573.4 2081.5,1573.4 2082.5,1573.4 2083.5,1573.4 2084.5,1573.4 2085.5,1573.4 2086.5,1573.4 2087.5,1573.4 2088.5,1573.4 2089.5,1573.4 2090.5,1573.4 2091.5,1573.4 2092.5,1573.4 2093.5,1573.4 2094.5,1573.4 2095.5,1573.4 2096.5,1573.4 2097.5,1573.4 2098.5,1573.4 2099.5,1573.4 2100.5,1573.4 2101.5,1573.4 2102.5,1573.4 2103.5,1573.4 2104.5,1573.4 2105.5,1573.4 2106.5,1573.4 2107.5,1573.4 2108.5,1573.4 2109.5,1573.4 2110.5,1573.4 2111.5,1573.4 2112.5,1573.4 2113.5,1573.4 2114.5,1573.4 2115.5,1573.4 2116.5,1573.4 2117.5,1573.4 2118.5,1573.4 2119.5,1573.4 2120.5,1573.4 2121.5,1573.4 2122.5,1573.4 2123.5,1573.4 2124.5,1573.4 2125.5,1573.4 2126.5,1573.4 2127.5,1573.4 2128.5,1573.4 2129.5,1573.4 2130.5,1573.4 2131.5,1573.4 2132.5,1573.4 2133.5,1573.4 2134.5,1573.4 2135.5,1573.4 2136.5,1573.4 2137.5,1573.4 2138.5,1573.4 2139.5,1573.4 2140.5,1573.4 2141.5,1573.4 2142.5,1573.4 2143.5,1573.4 2144.5,1573.4 2145.9,1573.4 2145.9,1559.2 2147.5,1559.2 2148.3,1559.2 2148.3,1636.2 2149.3,1636.2 2149.3,1470.3 2150.0,1470.3 2150.0,1054.6 2151.1,1054.6 2151.1,1393.3 2151.8,1393.3 2151.8,1470.3 2152.4,1470.3 2152.4,1399.3 2153.0,1399.3 2153.0,1482.2 2153.6,1482.2 2153.6,1428.9 2154.2,1428.9 2154.2,1582.9 2154.9,1582.9 2154.9,1488.1 2155.6,1488.1 2155.6,1523.6 2156.3,1523.6 2156.3,1499.9 2157.0,1499.9 2157.0,1535.5 2157.7,1535.5 2157.7,1517.7 2158.4,1517.7 2158.4,1538.4 2159.1,1538.4 2159.1,1526.6 2160.1,1526.6 2160.1,1551.8 2161.1,1551.8 2161.1,1533.4 2162.1,1533.4 2163.1,1533.4 2163.1,1551.8 2164.1,1551.8 2165.1,1551.8 2166.1,1551.8 2167.1,1551.8 2167.1,1542.6 2168.1,1542.6 2169.1,1542.6 2169.1,1560.9" fill="none" stroke="#0000ff" stroke-width="2.8" stroke-linejoin="miter" stroke-miterlimit="2" clip-path="url(#cd)"/>
<rect x="200" y="63" width="883.5" height="712.5" fill="none" stroke="#4a4a4a" stroke-width="4"/>
<rect x="1288.5" y="64.5" width="875.8000000000002" height="705.5" fill="none" stroke="#4a4a4a" stroke-width="4"/>
<rect x="195.3" y="938" width="878.4000000000001" height="709" fill="none" stroke="#4a4a4a" stroke-width="4"/>
<rect x="1285.7" y="937.3" width="880.4999999999998" height="710.7" fill="none" stroke="#4a4a4a" stroke-width="4"/>
<line x1="200" y1="125.5" x2="186.5" y2="125.5" stroke="#4a4a4a" stroke-width="3"/>
<text x="112.5" y="140.5" font-size="48">-20</text>
<line x1="200" y1="250.5" x2="186.5" y2="250.5" stroke="#4a4a4a" stroke-width="3"/>
<text x="112.5" y="265.5" font-size="48">-30</text>
<line x1="200" y1="375.5" x2="186.5" y2="375.5" stroke="#4a4a4a" stroke-width="3"/>
<text x="112.5" y="390.5" font-size="48">-40</text>
<line x1="200" y1="500.5" x2="186.5" y2="500.5" stroke="#4a4a4a" stroke-width="3"/>
<text x="112.5" y="515.5" font-size="48">-50</text>
<line x1="200" y1="625.5" x2="186.5" y2="625.5" stroke="#4a4a4a" stroke-width="3"/>
<text x="112.5" y="640.5" font-size="48">-60</text>
<line x1="200" y1="750.5" x2="186.5" y2="750.5" stroke="#4a4a4a" stroke-width="3"/>
<text x="112.5" y="765.5" font-size="48">-70</text>
<line x1="200" y1="188.0" x2="192.5" y2="188.0" stroke="#4a4a4a" stroke-width="3"/>
<line x1="200" y1="313.0" x2="192.5" y2="313.0" stroke="#4a4a4a" stroke-width="3"/>
<line x1="200" y1="438.0" x2="192.5" y2="438.0" stroke="#4a4a4a" stroke-width="3"/>
<line x1="200" y1="563.0" x2="192.5" y2="563.0" stroke="#4a4a4a" stroke-width="3"/>
<line x1="200" y1="688.0" x2="192.5" y2="688.0" stroke="#4a4a4a" stroke-width="3"/>
<line x1="200.0" y1="775.5" x2="200.0" y2="789.0" stroke="#4a4a4a" stroke-width="3"/>
<text x="150.9" y="836.0" font-size="48">1545</text>
<line x1="376.7" y1="775.5" x2="376.7" y2="789.0" stroke="#4a4a4a" stroke-width="3"/>
<text x="327.7" y="836.0" font-size="48">1550</text>
<line x1="553.4" y1="775.5" x2="553.4" y2="789.0" stroke="#4a4a4a" stroke-width="3"/>
<text x="504.3" y="836.0" font-size="48">1555</text>
<line x1="730.1" y1="775.5" x2="730.1" y2="789.0" stroke="#4a4a4a" stroke-width="3"/>
<text x="681.1" y="836.0" font-size="48">1560</text>
<line x1="906.8" y1="775.5" x2="906.8" y2="789.0" stroke="#4a4a4a" stroke-width="3"/>
<text x="857.7" y="836.0" font-size="48">1565</text>
<line x1="1083.5" y1="775.5" x2="1083.5" y2="789.0" stroke="#4a4a4a" stroke-width="3"/>
<text x="1034.5" y="836.0" font-size="48">1570</text>
<line x1="288.4" y1="775.5" x2="288.4" y2="783.0" stroke="#4a4a4a" stroke-width="3"/>
<line x1="465.1" y1="775.5" x2="465.1" y2="783.0" stroke="#4a4a4a" stroke-width="3"/>
<line x1="641.8" y1="775.5" x2="641.8" y2="783.0" stroke="#4a4a4a" stroke-width="3"/>
<line x1="818.5" y1="775.5" x2="818.5" y2="783.0" stroke="#4a4a4a" stroke-width="3"/>
<line x1="995.2" y1="775.5" x2="995.2" y2="783.0" stroke="#4a4a4a" stroke-width="3"/>
<text x="426.1" y="890.0" font-size="61" textLength="433.4" lengthAdjust="spacingAndGlyphs" fill="#000">Wavelength(nm)</text>
<text transform="translate(99.5,596.0) rotate(-90)" x="0" y="0" font-size="61" textLength="394.5" lengthAdjust="spacingAndGlyphs" fill="#000">Intensity(dBm)</text>
<text x="209.4" y="125.7" font-size="75" textLength="93.9" lengthAdjust="spacingAndGlyphs" fill="#000">(a)</text>
<line x1="1288.5" y1="770.0" x2="1275.0" y2="770.0" stroke="#4a4a4a" stroke-width="3"/>
<text x="1205.1" y="785.0" font-size="48">0.0</text>
<line x1="1288.5" y1="534.8" x2="1275.0" y2="534.8" stroke="#4a4a4a" stroke-width="3"/>
<text x="1204.2" y="549.8" font-size="48">0.4</text>
<line x1="1288.5" y1="299.7" x2="1275.0" y2="299.7" stroke="#4a4a4a" stroke-width="3"/>
<text x="1204.9" y="314.7" font-size="48">0.8</text>
<line x1="1288.5" y1="64.5" x2="1275.0" y2="64.5" stroke="#4a4a4a" stroke-width="3"/>
<text x="1205.4" y="79.5" font-size="48">1.2</text>
<line x1="1288.5" y1="652.4" x2="1281.0" y2="652.4" stroke="#4a4a4a" stroke-width="3"/>
<line x1="1288.5" y1="417.3" x2="1281.0" y2="417.3" stroke="#4a4a4a" stroke-width="3"/>
<line x1="1288.5" y1="182.1" x2="1281.0" y2="182.1" stroke="#4a4a4a" stroke-width="3"/>
<line x1="1288.5" y1="770" x2="1288.5" y2="783.5" stroke="#4a4a4a" stroke-width="3"/>
<text x="1244.6" y="830.5" font-size="48">-200</text>
<line x1="1492.2" y1="770" x2="1492.2" y2="783.5" stroke="#4a4a4a" stroke-width="3"/>
<text x="1448.2" y="830.5" font-size="48">-100</text>
<line x1="1695.8" y1="770" x2="1695.8" y2="783.5" stroke="#4a4a4a" stroke-width="3"/>
<text x="1683.8" y="830.5" font-size="48">0</text>
<line x1="1899.3" y1="770" x2="1899.3" y2="783.5" stroke="#4a4a4a" stroke-width="3"/>
<text x="1862.4" y="830.5" font-size="48">100</text>
<line x1="2102.9" y1="770" x2="2102.9" y2="783.5" stroke="#4a4a4a" stroke-width="3"/>
<text x="2066.9" y="830.5" font-size="48">200</text>
<line x1="1390.3" y1="770" x2="1390.3" y2="777.5" stroke="#4a4a4a" stroke-width="3"/>
<line x1="1594.0" y1="770" x2="1594.0" y2="777.5" stroke="#4a4a4a" stroke-width="3"/>
<line x1="1797.5" y1="770" x2="1797.5" y2="777.5" stroke="#4a4a4a" stroke-width="3"/>
<line x1="2001.2" y1="770" x2="2001.2" y2="777.5" stroke="#4a4a4a" stroke-width="3"/>
<text x="1603.5" y="893.6" font-size="69" textLength="264.1" lengthAdjust="spacingAndGlyphs" fill="#000">Time(ns)</text>
<text transform="translate(1192.0,578.3) rotate(-90)" x="0" y="0" font-size="60" textLength="360.2" lengthAdjust="spacingAndGlyphs" fill="#000">Intensity(a.u.)</text>
<text x="1292.8" y="126.8" font-size="75" textLength="96.7" lengthAdjust="spacingAndGlyphs" fill="#000">(b)</text>
<line x1="195.3" y1="1647.0" x2="181.8" y2="1647.0" stroke="#4a4a4a" stroke-width="3"/>
<text x="111.9" y="1662.0" font-size="48">0.0</text>
<line x1="195.3" y1="1410.7" x2="181.8" y2="1410.7" stroke="#4a4a4a" stroke-width="3"/>
<text x="111.0" y="1425.7" font-size="48">0.4</text>
<line x1="195.3" y1="1174.4" x2="181.8" y2="1174.4" stroke="#4a4a4a" stroke-width="3"/>
<text x="111.7" y="1189.4" font-size="48">0.8</text>
<line x1="195.3" y1="938.0" x2="181.8" y2="938.0" stroke="#4a4a4a" stroke-width="3"/>
<text x="112.2" y="953.0" font-size="48">1.2</text>
<line x1="195.3" y1="1528.8" x2="187.8" y2="1528.8" stroke="#4a4a4a" stroke-width="3"/>
<line x1="195.3" y1="1292.5" x2="187.8" y2="1292.5" stroke="#4a4a4a" stroke-width="3"/>
<line x1="195.3" y1="1056.2" x2="187.8" y2="1056.2" stroke="#4a4a4a" stroke-width="3"/>
<line x1="241.0" y1="1647" x2="241.0" y2="1660.5" stroke="#4a4a4a" stroke-width="3"/>
<text x="197.1" y="1707.5" font-size="48">-200</text>
<line x1="449.2" y1="1647" x2="449.2" y2="1660.5" stroke="#4a4a4a" stroke-width="3"/>
<text x="405.3" y="1707.5" font-size="48">-100</text>
<line x1="657.4" y1="1647" x2="657.4" y2="1660.5" stroke="#4a4a4a" stroke-width="3"/>
<text x="645.4" y="1707.5" font-size="48">0</text>
<line x1="865.6" y1="1647" x2="865.6" y2="1660.5" stroke="#4a4a4a" stroke-width="3"/>
<text x="828.6" y="1707.5" font-size="48">100</text>
<line x1="1073.8" y1="1647" x2="1073.8" y2="1660.5" stroke="#4a4a4a" stroke-width="3"/>
<text x="1037.8" y="1707.5" font-size="48">200</text>
<line x1="345.1" y1="1647" x2="345.1" y2="1654.5" stroke="#4a4a4a" stroke-width="3"/>
<line x1="553.3" y1="1647" x2="553.3" y2="1654.5" stroke="#4a4a4a" stroke-width="3"/>
<line x1="761.5" y1="1647" x2="761.5" y2="1654.5" stroke="#4a4a4a" stroke-width="3"/>
<line x1="969.7" y1="1647" x2="969.7" y2="1654.5" stroke="#4a4a4a" stroke-width="3"/>
<text x="499.9" y="1766.5" font-size="69" textLength="262.7" lengthAdjust="spacingAndGlyphs" fill="#000">Time(ns)</text>
<text transform="translate(99.5,1454.3) rotate(-90)" x="0" y="0" font-size="60" textLength="360.2" lengthAdjust="spacingAndGlyphs" fill="#000">Intensity(a.u.)</text>
<text x="212.8" y="1007.5" font-size="75" textLength="85.4" lengthAdjust="spacingAndGlyphs" fill="#000">(c)</text>
<line x1="1285.7" y1="1648.0" x2="1272.2" y2="1648.0" stroke="#4a4a4a" stroke-width="3"/>
<text x="1202.3" y="1663.0" font-size="48">0.0</text>
<line x1="1285.7" y1="1411.1" x2="1272.2" y2="1411.1" stroke="#4a4a4a" stroke-width="3"/>
<text x="1201.4" y="1426.1" font-size="48">0.4</text>
<line x1="1285.7" y1="1174.2" x2="1272.2" y2="1174.2" stroke="#4a4a4a" stroke-width="3"/>
<text x="1202.1" y="1189.2" font-size="48">0.8</text>
<line x1="1285.7" y1="937.3" x2="1272.2" y2="937.3" stroke="#4a4a4a" stroke-width="3"/>
<text x="1202.6" y="952.3" font-size="48">1.2</text>
<line x1="1285.7" y1="1529.5" x2="1278.2" y2="1529.5" stroke="#4a4a4a" stroke-width="3"/>
<line x1="1285.7" y1="1292.7" x2="1278.2" y2="1292.7" stroke="#4a4a4a" stroke-width="3"/>
<line x1="1285.7" y1="1055.8" x2="1278.2" y2="1055.8" stroke="#4a4a4a" stroke-width="3"/>
<line x1="1328.0" y1="1648" x2="1328.0" y2="1661.5" stroke="#4a4a4a" stroke-width="3"/>
<text x="1284.1" y="1708.5" font-size="48">-200</text>
<line x1="1537.5" y1="1648" x2="1537.5" y2="1661.5" stroke="#4a4a4a" stroke-width="3"/>
<text x="1493.6" y="1708.5" font-size="48">-100</text>
<line x1="1747.1" y1="1648" x2="1747.1" y2="1661.5" stroke="#4a4a4a" stroke-width="3"/>
<text x="1735.1" y="1708.5" font-size="48">0</text>
<line x1="1956.6" y1="1648" x2="1956.6" y2="1661.5" stroke="#4a4a4a" stroke-width="3"/>
<text x="1919.7" y="1708.5" font-size="48">100</text>
<line x1="2166.2" y1="1648" x2="2166.2" y2="1661.5" stroke="#4a4a4a" stroke-width="3"/>
<text x="2130.2" y="1708.5" font-size="48">200</text>
<line x1="1432.8" y1="1648" x2="1432.8" y2="1655.5" stroke="#4a4a4a" stroke-width="3"/>
<line x1="1642.3" y1="1648" x2="1642.3" y2="1655.5" stroke="#4a4a4a" stroke-width="3"/>
<line x1="1851.9" y1="1648" x2="1851.9" y2="1655.5" stroke="#4a4a4a" stroke-width="3"/>
<line x1="2061.4" y1="1648" x2="2061.4" y2="1655.5" stroke="#4a4a4a" stroke-width="3"/>
<text x="1599.2" y="1772.5" font-size="69" textLength="262.7" lengthAdjust="spacingAndGlyphs" fill="#000">Time(ns)</text>
<text transform="translate(1189.5,1454.3) rotate(-90)" x="0" y="0" font-size="60" textLength="361.1" lengthAdjust="spacingAndGlyphs" fill="#000">Intensity(a.u.)</text>
<text x="1293.5" y="1005.8" font-size="75" textLength="95.8" lengthAdjust="spacingAndGlyphs" fill="#000">(d)</text>
<text x="711.1" y="994.3" font-size="78" textLength="357.8" lengthAdjust="spacingAndGlyphs" fill="#ff0000">1551.58nm</text>
<text x="1795.9" y="990.1" font-size="78" textLength="357.1" lengthAdjust="spacingAndGlyphs" fill="#ff0000">1562.12nm</text>
</g>
</svg>
</body></html>
